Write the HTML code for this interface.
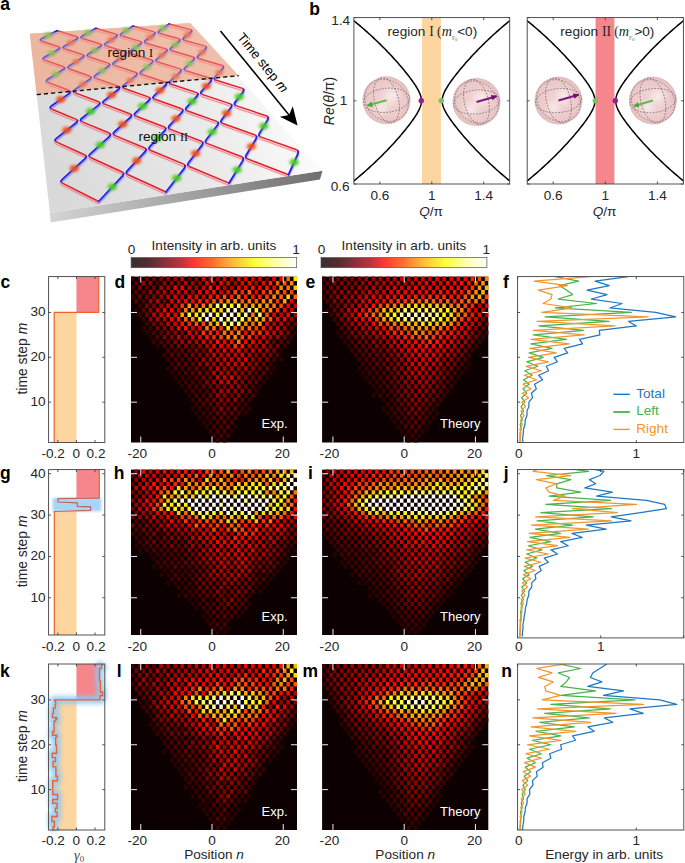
<!DOCTYPE html>
<html><head><meta charset="utf-8"><style>
html,body{margin:0;padding:0;background:#fff;}
svg{display:block;}
svg{font-family:"Liberation Sans",sans-serif;}
</style></head><body>
<svg width="685" height="863" viewBox="0 0 685 863">
<rect width="685" height="863" fill="#fff"/>
<text x="0.50" y="287.50" font-size="17.5" text-anchor="start" fill="#000" font-weight="bold" >c</text>
<text x="114.50" y="287.50" font-size="17.5" text-anchor="start" fill="#000" font-weight="bold" >d</text>
<text x="305.50" y="287.50" font-size="17.5" text-anchor="start" fill="#000" font-weight="bold" >e</text>
<text x="503.00" y="287.50" font-size="17.5" text-anchor="start" fill="#000" font-weight="bold" >f</text>
<text x="0.00" y="478.70" font-size="17.5" text-anchor="start" fill="#000" font-weight="bold" >g</text>
<text x="113.80" y="478.70" font-size="17.5" text-anchor="start" fill="#000" font-weight="bold" >h</text>
<text x="307.90" y="478.70" font-size="17.5" text-anchor="start" fill="#000" font-weight="bold" >i</text>
<text x="503.70" y="478.70" font-size="17.5" text-anchor="start" fill="#000" font-weight="bold" >j</text>
<text x="0.00" y="676.90" font-size="17.5" text-anchor="start" fill="#000" font-weight="bold" >k</text>
<text x="116.80" y="676.90" font-size="17.5" text-anchor="start" fill="#000" font-weight="bold" >l</text>
<text x="302.60" y="676.90" font-size="17.5" text-anchor="start" fill="#000" font-weight="bold" >m</text>
<text x="501.20" y="676.90" font-size="17.5" text-anchor="start" fill="#000" font-weight="bold" >n</text>
<defs><filter id="blur1" x="-50%" y="-50%" width="200%" height="200%"><feGaussianBlur stdDeviation="1.3"/></filter><filter id="blur2" x="-50%" y="-50%" width="200%" height="200%"><feGaussianBlur stdDeviation="2"/></filter></defs>
<rect x="54.18" y="312.47" width="22.27" height="130.03" fill="#fdd59e"/>
<rect x="76.45" y="276.60" width="22.27" height="35.87" fill="#f5868b"/>
<polyline points="54.18,442.50 54.18,312.47 98.72,312.47 98.72,276.60" fill="none" stroke="#f0602c" stroke-width="1.2"/>
<rect x="48.60" y="276.60" width="56.20" height="165.90" fill="none" stroke="#404040" stroke-width="0.9"/>
<line x1="57.89" y1="442.50" x2="57.89" y2="440.00" stroke="#404040" stroke-width="0.9" />
<line x1="57.89" y1="276.60" x2="57.89" y2="279.10" stroke="#404040" stroke-width="0.9" />
<line x1="76.45" y1="442.50" x2="76.45" y2="440.00" stroke="#404040" stroke-width="0.9" />
<line x1="76.45" y1="276.60" x2="76.45" y2="279.10" stroke="#404040" stroke-width="0.9" />
<line x1="95.01" y1="442.50" x2="95.01" y2="440.00" stroke="#404040" stroke-width="0.9" />
<line x1="95.01" y1="276.60" x2="95.01" y2="279.10" stroke="#404040" stroke-width="0.9" />
<line x1="48.60" y1="402.15" x2="51.10" y2="402.15" stroke="#404040" stroke-width="0.9" />
<line x1="104.80" y1="402.15" x2="102.30" y2="402.15" stroke="#404040" stroke-width="0.9" />
<text x="45.60" y="406.05" font-size="13.6" text-anchor="end" fill="#262626" >10</text>
<line x1="48.60" y1="357.31" x2="51.10" y2="357.31" stroke="#404040" stroke-width="0.9" />
<line x1="104.80" y1="357.31" x2="102.30" y2="357.31" stroke="#404040" stroke-width="0.9" />
<text x="45.60" y="361.21" font-size="13.6" text-anchor="end" fill="#262626" >20</text>
<line x1="48.60" y1="312.47" x2="51.10" y2="312.47" stroke="#404040" stroke-width="0.9" />
<line x1="104.80" y1="312.47" x2="102.30" y2="312.47" stroke="#404040" stroke-width="0.9" />
<text x="45.60" y="316.37" font-size="13.6" text-anchor="end" fill="#262626" >30</text>
<text x="53.15" y="458.00" font-size="13.6" text-anchor="middle" fill="#262626" >-0.2</text>
<text x="76.40" y="458.00" font-size="13.6" text-anchor="middle" fill="#262626" >0</text>
<text x="96.00" y="458.00" font-size="13.6" text-anchor="middle" fill="#262626" >0.2</text>
<rect x="54.30" y="511.50" width="22.15" height="123.50" fill="#fdd59e"/>
<rect x="76.45" y="469.60" width="22.85" height="28.60" fill="#f5868b"/>
<rect x="52.5" y="497.9" width="48.8" height="13.4" fill="#9dd1f6" opacity="0.9" filter="url(#blur1)"/>
<polyline points="54.3,635.0 54.3,512.0" fill="none" stroke="#f0602c" stroke-width="1.2"/>
<polyline points="54.3,512.0 54.3,511.5 90.6,510.4 90.6,506.9 77.3,506.4 77.3,502.8 57.9,502.0 57.9,498.7 99.3,498.2" fill="none" stroke="#c0665c" stroke-width="1.2"/>
<polyline points="99.3,498.6 99.3,469.6" fill="none" stroke="#f0602c" stroke-width="1.2"/>
<rect x="48.60" y="469.60" width="56.20" height="165.40" fill="none" stroke="#404040" stroke-width="0.9"/>
<line x1="57.89" y1="635.00" x2="57.89" y2="632.50" stroke="#404040" stroke-width="0.9" />
<line x1="57.89" y1="469.60" x2="57.89" y2="472.10" stroke="#404040" stroke-width="0.9" />
<line x1="76.45" y1="635.00" x2="76.45" y2="632.50" stroke="#404040" stroke-width="0.9" />
<line x1="76.45" y1="469.60" x2="76.45" y2="472.10" stroke="#404040" stroke-width="0.9" />
<line x1="95.01" y1="635.00" x2="95.01" y2="632.50" stroke="#404040" stroke-width="0.9" />
<line x1="95.01" y1="469.60" x2="95.01" y2="472.10" stroke="#404040" stroke-width="0.9" />
<line x1="48.60" y1="597.78" x2="51.10" y2="597.78" stroke="#404040" stroke-width="0.9" />
<line x1="104.80" y1="597.78" x2="102.30" y2="597.78" stroke="#404040" stroke-width="0.9" />
<text x="45.60" y="601.68" font-size="13.6" text-anchor="end" fill="#262626" >10</text>
<line x1="48.60" y1="556.44" x2="51.10" y2="556.44" stroke="#404040" stroke-width="0.9" />
<line x1="104.80" y1="556.44" x2="102.30" y2="556.44" stroke="#404040" stroke-width="0.9" />
<text x="45.60" y="560.34" font-size="13.6" text-anchor="end" fill="#262626" >20</text>
<line x1="48.60" y1="515.09" x2="51.10" y2="515.09" stroke="#404040" stroke-width="0.9" />
<line x1="104.80" y1="515.09" x2="102.30" y2="515.09" stroke="#404040" stroke-width="0.9" />
<text x="45.60" y="518.99" font-size="13.6" text-anchor="end" fill="#262626" >30</text>
<line x1="48.60" y1="473.74" x2="51.10" y2="473.74" stroke="#404040" stroke-width="0.9" />
<line x1="104.80" y1="473.74" x2="102.30" y2="473.74" stroke="#404040" stroke-width="0.9" />
<text x="45.60" y="477.63" font-size="13.6" text-anchor="end" fill="#262626" >40</text>
<text x="53.15" y="651.10" font-size="13.6" text-anchor="middle" fill="#262626" >-0.2</text>
<text x="76.40" y="651.10" font-size="13.6" text-anchor="middle" fill="#262626" >0</text>
<text x="96.00" y="651.10" font-size="13.6" text-anchor="middle" fill="#262626" >0.2</text>
<polygon points="76.45,830.0 53.00,830.50 53.00,827.00 54.30,827.00 54.30,821.50 51.90,821.50 51.90,816.50 57.10,816.50 57.10,812.10 55.40,812.10 55.40,808.30 57.10,808.30 57.10,803.30 52.70,803.30 52.70,799.50 57.60,799.50 57.60,794.50 52.70,794.50 52.70,780.70 57.40,780.70 57.40,776.30 55.90,776.30 55.90,766.90 53.00,766.90 53.00,761.50 55.40,761.50 55.40,757.60 52.30,757.60 52.30,753.20 56.50,753.20 56.50,745.00 55.60,745.00 55.60,737.40 56.70,737.40 56.70,735.30 52.50,735.30 52.50,731.70 54.10,731.70 54.10,721.20 55.60,721.20 55.60,719.20 56.70,719.20 56.70,717.60 52.50,717.60 52.50,713.40 53.40,713.40 53.40,708.20 55.10,708.20 55.10,704.60 55.60,704.60 55.60,700.90 54.60,700.90 54.60,699.90 76.45,699.9" fill="#fdd59e"/>
<polygon points="76.45,699.9 100.00,699.90 100.00,695.70 102.60,695.70 102.60,692.00 100.50,692.00 100.50,681.10 99.50,681.10 99.50,668.60 101.50,668.60 101.50,665.00 102.60,665.00 102.60,664.00 76.45,664.0" fill="#f5868b"/>
<polyline points="53.00,830.50 53.00,827.00 54.30,827.00 54.30,821.50 51.90,821.50 51.90,816.50 57.10,816.50 57.10,812.10 55.40,812.10 55.40,808.30 57.10,808.30 57.10,803.30 52.70,803.30 52.70,799.50 57.60,799.50 57.60,794.50 52.70,794.50 52.70,780.70 57.40,780.70 57.40,776.30 55.90,776.30 55.90,766.90 53.00,766.90 53.00,761.50 55.40,761.50 55.40,757.60 52.30,757.60 52.30,753.20 56.50,753.20 56.50,745.00 55.60,745.00 55.60,737.40 56.70,737.40 56.70,735.30 52.50,735.30 52.50,731.70 54.10,731.70 54.10,721.20 55.60,721.20 55.60,719.20 56.70,719.20 56.70,717.60 52.50,717.60 52.50,713.40 53.40,713.40 53.40,708.20 55.10,708.20 55.10,704.60 55.60,704.60 55.60,700.90 54.60,700.90 54.60,699.90 100.00,699.90 100.00,695.70 102.60,695.70 102.60,692.00 100.50,692.00 100.50,681.10 99.50,681.10 99.50,668.60 101.50,668.60 101.50,665.00 102.60,665.00 102.60,664.00" fill="none" stroke="#8ccaf6" stroke-width="8" opacity="0.85" filter="url(#blur2)"/>
<polyline points="53.00,830.50 53.00,827.00 54.30,827.00 54.30,821.50 51.90,821.50 51.90,816.50 57.10,816.50 57.10,812.10 55.40,812.10 55.40,808.30 57.10,808.30 57.10,803.30 52.70,803.30 52.70,799.50 57.60,799.50 57.60,794.50 52.70,794.50 52.70,780.70 57.40,780.70 57.40,776.30 55.90,776.30 55.90,766.90 53.00,766.90 53.00,761.50 55.40,761.50 55.40,757.60 52.30,757.60 52.30,753.20 56.50,753.20 56.50,745.00 55.60,745.00 55.60,737.40 56.70,737.40 56.70,735.30 52.50,735.30 52.50,731.70 54.10,731.70 54.10,721.20 55.60,721.20 55.60,719.20 56.70,719.20 56.70,717.60 52.50,717.60 52.50,713.40 53.40,713.40 53.40,708.20 55.10,708.20 55.10,704.60 55.60,704.60 55.60,700.90 54.60,700.90 54.60,699.90 100.00,699.90 100.00,695.70 102.60,695.70 102.60,692.00 100.50,692.00 100.50,681.10 99.50,681.10 99.50,668.60 101.50,668.60 101.50,665.00 102.60,665.00 102.60,664.00" fill="none" stroke="#f0602c" stroke-width="1.4"/>
<rect x="48.60" y="664.00" width="56.20" height="166.00" fill="none" stroke="#404040" stroke-width="0.9"/>
<line x1="57.89" y1="830.00" x2="57.89" y2="827.50" stroke="#404040" stroke-width="0.9" />
<line x1="57.89" y1="664.00" x2="57.89" y2="666.50" stroke="#404040" stroke-width="0.9" />
<line x1="76.45" y1="830.00" x2="76.45" y2="827.50" stroke="#404040" stroke-width="0.9" />
<line x1="76.45" y1="664.00" x2="76.45" y2="666.50" stroke="#404040" stroke-width="0.9" />
<line x1="95.01" y1="830.00" x2="95.01" y2="827.50" stroke="#404040" stroke-width="0.9" />
<line x1="95.01" y1="664.00" x2="95.01" y2="666.50" stroke="#404040" stroke-width="0.9" />
<line x1="48.60" y1="789.62" x2="51.10" y2="789.62" stroke="#404040" stroke-width="0.9" />
<line x1="104.80" y1="789.62" x2="102.30" y2="789.62" stroke="#404040" stroke-width="0.9" />
<text x="45.60" y="793.52" font-size="13.6" text-anchor="end" fill="#262626" >10</text>
<line x1="48.60" y1="744.76" x2="51.10" y2="744.76" stroke="#404040" stroke-width="0.9" />
<line x1="104.80" y1="744.76" x2="102.30" y2="744.76" stroke="#404040" stroke-width="0.9" />
<text x="45.60" y="748.66" font-size="13.6" text-anchor="end" fill="#262626" >20</text>
<line x1="48.60" y1="699.89" x2="51.10" y2="699.89" stroke="#404040" stroke-width="0.9" />
<line x1="104.80" y1="699.89" x2="102.30" y2="699.89" stroke="#404040" stroke-width="0.9" />
<text x="45.60" y="703.79" font-size="13.6" text-anchor="end" fill="#262626" >30</text>
<text x="53.15" y="844.80" font-size="13.6" text-anchor="middle" fill="#262626" >-0.2</text>
<text x="76.40" y="844.80" font-size="13.6" text-anchor="middle" fill="#262626" >0</text>
<text x="96.00" y="844.80" font-size="13.6" text-anchor="middle" fill="#262626" >0.2</text>
<text transform="translate(26.6,358.65) rotate(-90)" font-size="13.9" text-anchor="middle" fill="#262626">time step <tspan font-style="italic">m</tspan></text>
<text transform="translate(26.6,551.40) rotate(-90)" font-size="13.9" text-anchor="middle" fill="#262626">time step <tspan font-style="italic">m</tspan></text>
<text transform="translate(26.6,746.10) rotate(-90)" font-size="13.9" text-anchor="middle" fill="#262626">time step <tspan font-style="italic">m</tspan></text>
<text x="74.0" y="859.6" font-size="14.5" fill="#505050" font-family="Liberation Serif" font-style="italic">γ<tspan font-size="9" dy="2.2" font-style="normal">0</tspan></text>
<rect x="131.00" y="276.60" width="166.00" height="165.90" fill="#0d0000"/>
<path d="M222.8 438.0h3.53v4.48h-3.53zM229.9 429.0h3.53v4.48h-3.53zM205.2 424.6h3.53v4.48h-3.53zM233.4 424.6h3.53v4.48h-3.53zM201.6 420.1h3.53v4.48h-3.53zM198.1 415.6h3.53v4.48h-3.53zM194.6 411.1h3.53v4.48h-3.53zM244.0 411.1h3.53v4.48h-3.53zM191.0 406.6h3.53v4.48h-3.53zM247.6 406.6h3.53v4.48h-3.53zM187.5 393.2h3.53v4.48h-3.53zM184.0 388.7h3.53v4.48h-3.53zM180.4 384.2h3.53v4.48h-3.53zM258.1 384.2h3.53v4.48h-3.53zM176.9 379.7h3.53v4.48h-3.53zM261.7 379.7h3.53v4.48h-3.53zM173.4 375.2h3.53v4.48h-3.53zM265.2 375.2h3.53v4.48h-3.53zM169.9 370.8h3.53v4.48h-3.53zM268.7 370.8h3.53v4.48h-3.53zM166.3 366.3h3.53v4.48h-3.53zM272.3 366.3h3.53v4.48h-3.53zM279.3 357.3h3.53v4.48h-3.53zM279.3 348.3h3.53v4.48h-3.53zM155.7 343.9h3.53v4.48h-3.53zM148.7 334.9h3.53v4.48h-3.53zM145.1 330.4h3.53v4.48h-3.53zM293.5 330.4h3.53v4.48h-3.53zM141.6 325.9h3.53v4.48h-3.53zM134.5 308.0h3.53v4.48h-3.53z" fill="#2c0000"/>
<path d="M215.8 438.0h3.53v4.48h-3.53zM212.2 433.5h3.53v4.48h-3.53zM226.4 433.5h3.53v4.48h-3.53zM208.7 429.0h3.53v4.48h-3.53zM208.7 420.1h3.53v4.48h-3.53zM205.2 415.6h3.53v4.48h-3.53zM201.6 411.1h3.53v4.48h-3.53zM198.1 406.6h3.53v4.48h-3.53zM205.2 406.6h3.53v4.48h-3.53zM240.5 406.6h3.53v4.48h-3.53zM194.6 402.1h3.53v4.48h-3.53zM244.0 402.1h3.53v4.48h-3.53zM191.0 397.7h3.53v4.48h-3.53zM247.6 397.7h3.53v4.48h-3.53zM198.1 388.7h3.53v4.48h-3.53zM254.6 388.7h3.53v4.48h-3.53zM184.0 379.7h3.53v4.48h-3.53zM180.4 375.2h3.53v4.48h-3.53zM187.5 375.2h3.53v4.48h-3.53zM176.9 370.8h3.53v4.48h-3.53zM169.9 361.8h3.53v4.48h-3.53zM268.7 361.8h3.53v4.48h-3.53zM166.3 357.3h3.53v4.48h-3.53zM162.8 352.8h3.53v4.48h-3.53zM282.9 343.9h3.53v4.48h-3.53zM152.2 339.4h3.53v4.48h-3.53zM289.9 334.9h3.53v4.48h-3.53zM148.7 325.9h3.53v4.48h-3.53zM145.1 321.4h3.53v4.48h-3.53zM141.6 317.0h3.53v4.48h-3.53zM138.1 312.5h3.53v4.48h-3.53zM138.1 303.5h3.53v4.48h-3.53zM131.0 294.5h3.53v4.48h-3.53zM131.0 285.6h3.53v4.48h-3.53zM131.0 276.6h3.53v4.48h-3.53z" fill="#3d0000"/>
<path d="M219.3 433.5h3.53v4.48h-3.53zM215.8 429.0h3.53v4.48h-3.53zM222.8 429.0h3.53v4.48h-3.53zM212.2 424.6h3.53v4.48h-3.53zM219.3 424.6h3.53v4.48h-3.53zM215.8 420.1h3.53v4.48h-3.53zM229.9 420.1h3.53v4.48h-3.53zM212.2 415.6h3.53v4.48h-3.53zM226.4 415.6h3.53v4.48h-3.53zM233.4 415.6h3.53v4.48h-3.53zM208.7 411.1h3.53v4.48h-3.53zM237.0 411.1h3.53v4.48h-3.53zM201.6 402.1h3.53v4.48h-3.53zM237.0 402.1h3.53v4.48h-3.53zM198.1 397.7h3.53v4.48h-3.53zM194.6 393.2h3.53v4.48h-3.53zM201.6 393.2h3.53v4.48h-3.53zM244.0 393.2h3.53v4.48h-3.53zM251.1 393.2h3.53v4.48h-3.53zM191.0 388.7h3.53v4.48h-3.53zM205.2 388.7h3.53v4.48h-3.53zM187.5 384.2h3.53v4.48h-3.53zM194.6 384.2h3.53v4.48h-3.53zM251.1 384.2h3.53v4.48h-3.53zM191.0 379.7h3.53v4.48h-3.53zM198.1 379.7h3.53v4.48h-3.53zM184.0 370.8h3.53v4.48h-3.53zM173.4 366.3h3.53v4.48h-3.53zM180.4 366.3h3.53v4.48h-3.53zM187.5 366.3h3.53v4.48h-3.53zM201.6 366.3h3.53v4.48h-3.53zM173.4 357.3h3.53v4.48h-3.53zM180.4 357.3h3.53v4.48h-3.53zM272.3 357.3h3.53v4.48h-3.53zM275.8 352.8h3.53v4.48h-3.53zM166.3 348.3h3.53v4.48h-3.53zM173.4 348.3h3.53v4.48h-3.53zM162.8 343.9h3.53v4.48h-3.53zM159.3 339.4h3.53v4.48h-3.53zM286.4 339.4h3.53v4.48h-3.53zM155.7 334.9h3.53v4.48h-3.53zM152.2 330.4h3.53v4.48h-3.53zM289.9 325.9h3.53v4.48h-3.53zM141.6 299.0h3.53v4.48h-3.53zM155.7 281.1h3.53v4.48h-3.53z" fill="#4e0000"/>
<path d="M226.4 424.6h3.53v4.48h-3.53zM222.8 420.1h3.53v4.48h-3.53zM219.3 415.6h3.53v4.48h-3.53zM215.8 411.1h3.53v4.48h-3.53zM229.9 411.1h3.53v4.48h-3.53zM212.2 406.6h3.53v4.48h-3.53zM208.7 402.1h3.53v4.48h-3.53zM229.9 402.1h3.53v4.48h-3.53zM205.2 397.7h3.53v4.48h-3.53zM240.5 397.7h3.53v4.48h-3.53zM201.6 384.2h3.53v4.48h-3.53zM254.6 379.7h3.53v4.48h-3.53zM194.6 375.2h3.53v4.48h-3.53zM251.1 375.2h3.53v4.48h-3.53zM258.1 375.2h3.53v4.48h-3.53zM191.0 370.8h3.53v4.48h-3.53zM254.6 370.8h3.53v4.48h-3.53zM261.7 370.8h3.53v4.48h-3.53zM265.2 366.3h3.53v4.48h-3.53zM176.9 361.8h3.53v4.48h-3.53zM184.0 361.8h3.53v4.48h-3.53zM191.0 361.8h3.53v4.48h-3.53zM187.5 357.3h3.53v4.48h-3.53zM169.9 352.8h3.53v4.48h-3.53zM176.9 352.8h3.53v4.48h-3.53zM184.0 352.8h3.53v4.48h-3.53zM180.4 348.3h3.53v4.48h-3.53zM187.5 348.3h3.53v4.48h-3.53zM169.9 343.9h3.53v4.48h-3.53zM166.3 339.4h3.53v4.48h-3.53zM272.3 339.4h3.53v4.48h-3.53zM279.3 339.4h3.53v4.48h-3.53zM159.3 330.4h3.53v4.48h-3.53zM293.5 321.4h3.53v4.48h-3.53zM141.6 308.0h3.53v4.48h-3.53zM134.5 299.0h3.53v4.48h-3.53zM134.5 290.1h3.53v4.48h-3.53zM141.6 290.1h3.53v4.48h-3.53zM145.1 285.6h3.53v4.48h-3.53zM134.5 281.1h3.53v4.48h-3.53zM138.1 276.6h3.53v4.48h-3.53zM187.5 276.6h3.53v4.48h-3.53z" fill="#5f0000"/>
<path d="M222.8 411.1h3.53v4.48h-3.53zM226.4 406.6h3.53v4.48h-3.53zM233.4 406.6h3.53v4.48h-3.53zM215.8 402.1h3.53v4.48h-3.53zM222.8 402.1h3.53v4.48h-3.53zM212.2 397.7h3.53v4.48h-3.53zM208.7 393.2h3.53v4.48h-3.53zM229.9 393.2h3.53v4.48h-3.53zM247.6 388.7h3.53v4.48h-3.53zM208.7 384.2h3.53v4.48h-3.53zM244.0 384.2h3.53v4.48h-3.53zM247.6 379.7h3.53v4.48h-3.53zM201.6 375.2h3.53v4.48h-3.53zM208.7 375.2h3.53v4.48h-3.53zM205.2 370.8h3.53v4.48h-3.53zM194.6 366.3h3.53v4.48h-3.53zM258.1 366.3h3.53v4.48h-3.53zM261.7 361.8h3.53v4.48h-3.53zM194.6 357.3h3.53v4.48h-3.53zM201.6 348.3h3.53v4.48h-3.53zM191.0 343.9h3.53v4.48h-3.53zM282.9 334.9h3.53v4.48h-3.53zM155.7 325.9h3.53v4.48h-3.53zM152.2 321.4h3.53v4.48h-3.53zM145.1 312.5h3.53v4.48h-3.53zM162.8 299.0h3.53v4.48h-3.53zM138.1 294.5h3.53v4.48h-3.53zM145.1 294.5h3.53v4.48h-3.53zM152.2 285.6h3.53v4.48h-3.53zM145.1 276.6h3.53v4.48h-3.53zM152.2 276.6h3.53v4.48h-3.53z" fill="#700000"/>
<path d="M212.2 388.7h3.53v4.48h-3.53zM215.8 384.2h3.53v4.48h-3.53zM222.8 384.2h3.53v4.48h-3.53zM205.2 379.7h3.53v4.48h-3.53zM240.5 379.7h3.53v4.48h-3.53zM244.0 375.2h3.53v4.48h-3.53zM198.1 370.8h3.53v4.48h-3.53zM247.6 370.8h3.53v4.48h-3.53zM265.2 357.3h3.53v4.48h-3.53zM191.0 352.8h3.53v4.48h-3.53zM198.1 352.8h3.53v4.48h-3.53zM268.7 352.8h3.53v4.48h-3.53zM194.6 348.3h3.53v4.48h-3.53zM272.3 348.3h3.53v4.48h-3.53zM176.9 343.9h3.53v4.48h-3.53zM184.0 343.9h3.53v4.48h-3.53zM268.7 343.9h3.53v4.48h-3.53zM275.8 343.9h3.53v4.48h-3.53zM173.4 339.4h3.53v4.48h-3.53zM162.8 334.9h3.53v4.48h-3.53zM169.9 334.9h3.53v4.48h-3.53zM166.3 330.4h3.53v4.48h-3.53zM180.4 330.4h3.53v4.48h-3.53zM286.4 330.4h3.53v4.48h-3.53zM162.8 325.9h3.53v4.48h-3.53zM159.3 321.4h3.53v4.48h-3.53zM286.4 321.4h3.53v4.48h-3.53zM145.1 303.5h3.53v4.48h-3.53zM152.2 303.5h3.53v4.48h-3.53zM152.2 294.5h3.53v4.48h-3.53zM138.1 285.6h3.53v4.48h-3.53zM176.9 281.1h3.53v4.48h-3.53zM159.3 276.6h3.53v4.48h-3.53zM265.2 276.6h3.53v4.48h-3.53z" fill="#810000"/>
<path d="M219.3 406.6h3.53v4.48h-3.53zM219.3 397.7h3.53v4.48h-3.53zM226.4 397.7h3.53v4.48h-3.53zM233.4 397.7h3.53v4.48h-3.53zM222.8 393.2h3.53v4.48h-3.53zM237.0 393.2h3.53v4.48h-3.53zM233.4 388.7h3.53v4.48h-3.53zM240.5 388.7h3.53v4.48h-3.53zM240.5 370.8h3.53v4.48h-3.53zM208.7 366.3h3.53v4.48h-3.53zM251.1 366.3h3.53v4.48h-3.53zM198.1 361.8h3.53v4.48h-3.53zM247.6 361.8h3.53v4.48h-3.53zM254.6 361.8h3.53v4.48h-3.53zM258.1 357.3h3.53v4.48h-3.53zM205.2 352.8h3.53v4.48h-3.53zM254.6 352.8h3.53v4.48h-3.53zM261.7 352.8h3.53v4.48h-3.53zM198.1 343.9h3.53v4.48h-3.53zM184.0 334.9h3.53v4.48h-3.53zM173.4 330.4h3.53v4.48h-3.53zM148.7 317.0h3.53v4.48h-3.53zM148.7 308.0h3.53v4.48h-3.53zM155.7 290.1h3.53v4.48h-3.53zM148.7 281.1h3.53v4.48h-3.53zM162.8 281.1h3.53v4.48h-3.53zM169.9 281.1h3.53v4.48h-3.53zM198.1 281.1h3.53v4.48h-3.53zM166.3 276.6h3.53v4.48h-3.53zM194.6 276.6h3.53v4.48h-3.53z" fill="#920000"/>
<path d="M215.8 393.2h3.53v4.48h-3.53zM229.9 384.2h3.53v4.48h-3.53zM237.0 384.2h3.53v4.48h-3.53zM212.2 379.7h3.53v4.48h-3.53zM233.4 379.7h3.53v4.48h-3.53zM233.4 370.8h3.53v4.48h-3.53zM237.0 366.3h3.53v4.48h-3.53zM205.2 361.8h3.53v4.48h-3.53zM212.2 361.8h3.53v4.48h-3.53zM201.6 357.3h3.53v4.48h-3.53zM208.7 357.3h3.53v4.48h-3.53zM251.1 357.3h3.53v4.48h-3.53zM244.0 348.3h3.53v4.48h-3.53zM265.2 348.3h3.53v4.48h-3.53zM180.4 339.4h3.53v4.48h-3.53zM187.5 339.4h3.53v4.48h-3.53zM275.8 334.9h3.53v4.48h-3.53zM169.9 325.9h3.53v4.48h-3.53zM282.9 325.9h3.53v4.48h-3.53zM289.9 317.0h3.53v4.48h-3.53zM293.5 312.5h3.53v4.48h-3.53zM159.3 303.5h3.53v4.48h-3.53zM148.7 299.0h3.53v4.48h-3.53zM159.3 294.5h3.53v4.48h-3.53zM148.7 290.1h3.53v4.48h-3.53zM191.0 290.1h3.53v4.48h-3.53zM159.3 285.6h3.53v4.48h-3.53zM166.3 285.6h3.53v4.48h-3.53zM194.6 285.6h3.53v4.48h-3.53zM141.6 281.1h3.53v4.48h-3.53zM191.0 281.1h3.53v4.48h-3.53zM212.2 281.1h3.53v4.48h-3.53zM233.4 281.1h3.53v4.48h-3.53zM173.4 276.6h3.53v4.48h-3.53zM215.8 276.6h3.53v4.48h-3.53z" fill="#a30000"/>
<path d="M219.3 388.7h3.53v4.48h-3.53zM226.4 388.7h3.53v4.48h-3.53zM237.0 375.2h3.53v4.48h-3.53zM219.3 370.8h3.53v4.48h-3.53zM226.4 370.8h3.53v4.48h-3.53zM222.8 366.3h3.53v4.48h-3.53zM229.9 366.3h3.53v4.48h-3.53zM244.0 366.3h3.53v4.48h-3.53zM219.3 361.8h3.53v4.48h-3.53zM247.6 352.8h3.53v4.48h-3.53zM215.8 348.3h3.53v4.48h-3.53zM258.1 348.3h3.53v4.48h-3.53zM205.2 343.9h3.53v4.48h-3.53zM254.6 343.9h3.53v4.48h-3.53zM194.6 339.4h3.53v4.48h-3.53zM265.2 339.4h3.53v4.48h-3.53zM268.7 334.9h3.53v4.48h-3.53zM279.3 330.4h3.53v4.48h-3.53zM272.3 321.4h3.53v4.48h-3.53zM155.7 317.0h3.53v4.48h-3.53zM162.8 317.0h3.53v4.48h-3.53zM155.7 308.0h3.53v4.48h-3.53zM155.7 299.0h3.53v4.48h-3.53zM162.8 290.1h3.53v4.48h-3.53zM169.9 290.1h3.53v4.48h-3.53zM187.5 285.6h3.53v4.48h-3.53zM229.9 285.6h3.53v4.48h-3.53zM254.6 281.1h3.53v4.48h-3.53zM208.7 276.6h3.53v4.48h-3.53zM229.9 276.6h3.53v4.48h-3.53z" fill="#b40000"/>
<path d="M215.8 375.2h3.53v4.48h-3.53zM212.2 370.8h3.53v4.48h-3.53zM215.8 366.3h3.53v4.48h-3.53zM215.8 357.3h3.53v4.48h-3.53zM219.3 352.8h3.53v4.48h-3.53zM233.4 352.8h3.53v4.48h-3.53zM247.6 343.9h3.53v4.48h-3.53zM261.7 343.9h3.53v4.48h-3.53zM208.7 339.4h3.53v4.48h-3.53zM176.9 334.9h3.53v4.48h-3.53zM194.6 330.4h3.53v4.48h-3.53zM166.3 321.4h3.53v4.48h-3.53zM279.3 321.4h3.53v4.48h-3.53zM152.2 312.5h3.53v4.48h-3.53zM279.3 312.5h3.53v4.48h-3.53zM173.4 303.5h3.53v4.48h-3.53zM293.5 303.5h3.53v4.48h-3.53zM166.3 294.5h3.53v4.48h-3.53zM180.4 294.5h3.53v4.48h-3.53zM201.6 294.5h3.53v4.48h-3.53zM184.0 290.1h3.53v4.48h-3.53zM201.6 285.6h3.53v4.48h-3.53zM222.8 285.6h3.53v4.48h-3.53zM184.0 281.1h3.53v4.48h-3.53zM180.4 276.6h3.53v4.48h-3.53z" fill="#c50000"/>
<path d="M219.3 379.7h3.53v4.48h-3.53zM226.4 379.7h3.53v4.48h-3.53zM222.8 375.2h3.53v4.48h-3.53zM226.4 361.8h3.53v4.48h-3.53zM233.4 361.8h3.53v4.48h-3.53zM240.5 361.8h3.53v4.48h-3.53zM222.8 357.3h3.53v4.48h-3.53zM229.9 357.3h3.53v4.48h-3.53zM237.0 357.3h3.53v4.48h-3.53zM212.2 352.8h3.53v4.48h-3.53zM226.4 352.8h3.53v4.48h-3.53zM208.7 348.3h3.53v4.48h-3.53zM229.9 348.3h3.53v4.48h-3.53zM251.1 348.3h3.53v4.48h-3.53zM201.6 339.4h3.53v4.48h-3.53zM258.1 339.4h3.53v4.48h-3.53zM191.0 334.9h3.53v4.48h-3.53zM272.3 330.4h3.53v4.48h-3.53zM268.7 325.9h3.53v4.48h-3.53zM275.8 325.9h3.53v4.48h-3.53zM173.4 321.4h3.53v4.48h-3.53zM159.3 312.5h3.53v4.48h-3.53zM176.9 308.0h3.53v4.48h-3.53zM289.9 308.0h3.53v4.48h-3.53zM166.3 303.5h3.53v4.48h-3.53zM169.9 299.0h3.53v4.48h-3.53zM173.4 294.5h3.53v4.48h-3.53zM176.9 290.1h3.53v4.48h-3.53zM219.3 290.1h3.53v4.48h-3.53zM201.6 276.6h3.53v4.48h-3.53z" fill="#d60000"/>
<path d="M229.9 375.2h3.53v4.48h-3.53zM244.0 357.3h3.53v4.48h-3.53zM240.5 352.8h3.53v4.48h-3.53zM212.2 343.9h3.53v4.48h-3.53zM226.4 343.9h3.53v4.48h-3.53zM198.1 334.9h3.53v4.48h-3.53zM254.6 334.9h3.53v4.48h-3.53zM261.7 334.9h3.53v4.48h-3.53zM187.5 330.4h3.53v4.48h-3.53zM191.0 325.9h3.53v4.48h-3.53zM173.4 312.5h3.53v4.48h-3.53zM272.3 312.5h3.53v4.48h-3.53zM176.9 299.0h3.53v4.48h-3.53zM187.5 294.5h3.53v4.48h-3.53zM173.4 285.6h3.53v4.48h-3.53zM205.2 281.1h3.53v4.48h-3.53zM226.4 281.1h3.53v4.48h-3.53zM240.5 281.1h3.53v4.48h-3.53zM222.8 276.6h3.53v4.48h-3.53zM244.0 276.6h3.53v4.48h-3.53zM251.1 276.6h3.53v4.48h-3.53zM258.1 276.6h3.53v4.48h-3.53z" fill="#e70000"/>
<path d="M222.8 348.3h3.53v4.48h-3.53zM237.0 348.3h3.53v4.48h-3.53zM219.3 343.9h3.53v4.48h-3.53zM222.8 339.4h3.53v4.48h-3.53zM176.9 325.9h3.53v4.48h-3.53zM265.2 321.4h3.53v4.48h-3.53zM282.9 317.0h3.53v4.48h-3.53zM286.4 312.5h3.53v4.48h-3.53zM162.8 308.0h3.53v4.48h-3.53zM286.4 303.5h3.53v4.48h-3.53zM289.9 299.0h3.53v4.48h-3.53zM194.6 294.5h3.53v4.48h-3.53zM198.1 290.1h3.53v4.48h-3.53zM205.2 290.1h3.53v4.48h-3.53zM254.6 290.1h3.53v4.48h-3.53zM180.4 285.6h3.53v4.48h-3.53zM237.0 285.6h3.53v4.48h-3.53zM244.0 285.6h3.53v4.48h-3.53zM272.3 285.6h3.53v4.48h-3.53zM219.3 281.1h3.53v4.48h-3.53zM247.6 281.1h3.53v4.48h-3.53zM261.7 281.1h3.53v4.48h-3.53zM237.0 276.6h3.53v4.48h-3.53zM279.3 276.6h3.53v4.48h-3.53z" fill="#f80000"/>
<path d="M244.0 339.4h3.53v4.48h-3.53zM251.1 339.4h3.53v4.48h-3.53zM244.0 330.4h3.53v4.48h-3.53zM265.2 330.4h3.53v4.48h-3.53zM198.1 325.9h3.53v4.48h-3.53zM169.9 317.0h3.53v4.48h-3.53zM275.8 317.0h3.53v4.48h-3.53zM166.3 312.5h3.53v4.48h-3.53zM169.9 308.0h3.53v4.48h-3.53zM282.9 308.0h3.53v4.48h-3.53zM184.0 299.0h3.53v4.48h-3.53zM191.0 299.0h3.53v4.48h-3.53zM226.4 290.1h3.53v4.48h-3.53zM215.8 285.6h3.53v4.48h-3.53zM258.1 285.6h3.53v4.48h-3.53zM272.3 276.6h3.53v4.48h-3.53z" fill="#ff0000"/>
<path d="M240.5 343.9h3.53v4.48h-3.53zM215.8 339.4h3.53v4.48h-3.53zM229.9 339.4h3.53v4.48h-3.53zM205.2 334.9h3.53v4.48h-3.53zM215.8 330.4h3.53v4.48h-3.53zM184.0 325.9h3.53v4.48h-3.53zM180.4 321.4h3.53v4.48h-3.53zM176.9 317.0h3.53v4.48h-3.53zM205.2 299.0h3.53v4.48h-3.53zM208.7 294.5h3.53v4.48h-3.53zM215.8 294.5h3.53v4.48h-3.53zM251.1 294.5h3.53v4.48h-3.53zM212.2 290.1h3.53v4.48h-3.53zM208.7 285.6h3.53v4.48h-3.53zM251.1 285.6h3.53v4.48h-3.53zM265.2 285.6h3.53v4.48h-3.53z" fill="#ff1100"/>
<path d="M212.2 334.9h3.53v4.48h-3.53zM208.7 330.4h3.53v4.48h-3.53zM261.7 325.9h3.53v4.48h-3.53zM187.5 321.4h3.53v4.48h-3.53zM198.1 299.0h3.53v4.48h-3.53zM229.9 294.5h3.53v4.48h-3.53zM244.0 294.5h3.53v4.48h-3.53zM258.1 294.5h3.53v4.48h-3.53zM240.5 290.1h3.53v4.48h-3.53zM268.7 281.1h3.53v4.48h-3.53z" fill="#ff2100"/>
<path d="M233.4 343.9h3.53v4.48h-3.53zM247.6 334.9h3.53v4.48h-3.53zM201.6 330.4h3.53v4.48h-3.53zM251.1 330.4h3.53v4.48h-3.53zM258.1 330.4h3.53v4.48h-3.53zM219.3 325.9h3.53v4.48h-3.53zM254.6 325.9h3.53v4.48h-3.53zM275.8 308.0h3.53v4.48h-3.53zM180.4 303.5h3.53v4.48h-3.53zM275.8 299.0h3.53v4.48h-3.53zM261.7 290.1h3.53v4.48h-3.53z" fill="#ff3300"/>
<path d="M219.3 334.9h3.53v4.48h-3.53zM240.5 334.9h3.53v4.48h-3.53zM201.6 321.4h3.53v4.48h-3.53zM194.6 303.5h3.53v4.48h-3.53zM279.3 303.5h3.53v4.48h-3.53zM265.2 294.5h3.53v4.48h-3.53zM233.4 290.1h3.53v4.48h-3.53zM282.9 290.1h3.53v4.48h-3.53zM289.9 290.1h3.53v4.48h-3.53z" fill="#ff4300"/>
<path d="M229.9 330.4h3.53v4.48h-3.53zM233.4 325.9h3.53v4.48h-3.53zM194.6 321.4h3.53v4.48h-3.53zM268.7 317.0h3.53v4.48h-3.53zM265.2 312.5h3.53v4.48h-3.53zM212.2 299.0h3.53v4.48h-3.53zM240.5 299.0h3.53v4.48h-3.53zM254.6 299.0h3.53v4.48h-3.53zM222.8 294.5h3.53v4.48h-3.53zM268.7 290.1h3.53v4.48h-3.53zM275.8 281.1h3.53v4.48h-3.53zM282.9 281.1h3.53v4.48h-3.53z" fill="#ff5500"/>
<path d="M240.5 325.9h3.53v4.48h-3.53zM247.6 325.9h3.53v4.48h-3.53zM251.1 321.4h3.53v4.48h-3.53zM184.0 317.0h3.53v4.48h-3.53zM261.7 308.0h3.53v4.48h-3.53zM219.3 299.0h3.53v4.48h-3.53zM237.0 294.5h3.53v4.48h-3.53zM279.3 294.5h3.53v4.48h-3.53zM293.5 294.5h3.53v4.48h-3.53zM247.6 290.1h3.53v4.48h-3.53zM286.4 276.6h3.53v4.48h-3.53z" fill="#ff6600"/>
<path d="M237.0 339.4h3.53v4.48h-3.53zM226.4 334.9h3.53v4.48h-3.53zM222.8 330.4h3.53v4.48h-3.53zM205.2 325.9h3.53v4.48h-3.53zM212.2 325.9h3.53v4.48h-3.53zM251.1 312.5h3.53v4.48h-3.53zM184.0 308.0h3.53v4.48h-3.53zM201.6 303.5h3.53v4.48h-3.53zM272.3 303.5h3.53v4.48h-3.53zM247.6 299.0h3.53v4.48h-3.53zM275.8 290.1h3.53v4.48h-3.53zM286.4 285.6h3.53v4.48h-3.53z" fill="#ff7700"/>
<path d="M233.4 334.9h3.53v4.48h-3.53zM237.0 330.4h3.53v4.48h-3.53zM244.0 321.4h3.53v4.48h-3.53zM268.7 308.0h3.53v4.48h-3.53zM244.0 303.5h3.53v4.48h-3.53zM226.4 299.0h3.53v4.48h-3.53zM261.7 299.0h3.53v4.48h-3.53zM268.7 299.0h3.53v4.48h-3.53zM272.3 294.5h3.53v4.48h-3.53zM279.3 285.6h3.53v4.48h-3.53zM289.9 281.1h3.53v4.48h-3.53z" fill="#ff8700"/>
<path d="M208.7 321.4h3.53v4.48h-3.53zM258.1 321.4h3.53v4.48h-3.53zM191.0 317.0h3.53v4.48h-3.53zM261.7 317.0h3.53v4.48h-3.53zM191.0 308.0h3.53v4.48h-3.53zM187.5 303.5h3.53v4.48h-3.53zM265.2 303.5h3.53v4.48h-3.53zM233.4 299.0h3.53v4.48h-3.53z" fill="#ff9900"/>
<path d="M180.4 312.5h3.53v4.48h-3.53zM208.7 303.5h3.53v4.48h-3.53zM251.1 303.5h3.53v4.48h-3.53zM258.1 303.5h3.53v4.48h-3.53zM282.9 299.0h3.53v4.48h-3.53z" fill="#ffaa00"/>
<path d="M215.8 321.4h3.53v4.48h-3.53zM247.6 317.0h3.53v4.48h-3.53zM240.5 308.0h3.53v4.48h-3.53z" fill="#ffbb00"/>
<path d="M254.6 317.0h3.53v4.48h-3.53zM219.3 308.0h3.53v4.48h-3.53zM293.5 285.6h3.53v4.48h-3.53z" fill="#ffcc00"/>
<path d="M212.2 317.0h3.53v4.48h-3.53zM198.1 308.0h3.53v4.48h-3.53zM286.4 294.5h3.53v4.48h-3.53z" fill="#ffdc00"/>
<path d="M226.4 325.9h3.53v4.48h-3.53zM194.6 312.5h3.53v4.48h-3.53zM205.2 308.0h3.53v4.48h-3.53zM212.2 308.0h3.53v4.48h-3.53zM293.5 276.6h3.53v4.48h-3.53z" fill="#ffed00"/>
<path d="M198.1 317.0h3.53v4.48h-3.53zM229.9 303.5h3.53v4.48h-3.53z" fill="#ffff00"/>
<path d="M237.0 321.4h3.53v4.48h-3.53zM187.5 312.5h3.53v4.48h-3.53zM237.0 312.5h3.53v4.48h-3.53zM254.6 308.0h3.53v4.48h-3.53z" fill="#ffff19"/>
<path d="M222.8 321.4h3.53v4.48h-3.53zM222.8 303.5h3.53v4.48h-3.53zM237.0 303.5h3.53v4.48h-3.53z" fill="#ffff33"/>
<path d="M215.8 312.5h3.53v4.48h-3.53z" fill="#ffff4c"/>
<path d="M226.4 317.0h3.53v4.48h-3.53zM240.5 317.0h3.53v4.48h-3.53z" fill="#ffff65"/>
<path d="M229.9 321.4h3.53v4.48h-3.53zM258.1 312.5h3.53v4.48h-3.53zM226.4 308.0h3.53v4.48h-3.53zM215.8 303.5h3.53v4.48h-3.53z" fill="#ffff7f"/>
<path d="M201.6 312.5h3.53v4.48h-3.53zM244.0 312.5h3.53v4.48h-3.53z" fill="#ffffb2"/>
<path d="M247.6 308.0h3.53v4.48h-3.53z" fill="#ffffcb"/>
<path d="M205.2 317.0h3.53v4.48h-3.53zM219.3 317.0h3.53v4.48h-3.53zM233.4 317.0h3.53v4.48h-3.53zM208.7 312.5h3.53v4.48h-3.53zM222.8 312.5h3.53v4.48h-3.53zM229.9 312.5h3.53v4.48h-3.53zM233.4 308.0h3.53v4.48h-3.53z" fill="#ffffff"/>
<line x1="140.75" y1="442.50" x2="140.75" y2="436.50" stroke="#eee" stroke-width="1" />
<line x1="140.75" y1="276.60" x2="140.75" y2="282.60" stroke="#eee" stroke-width="1" />
<text x="137.25" y="458.00" font-size="13.6" text-anchor="middle" fill="#262626" >-20</text>
<line x1="212.00" y1="442.50" x2="212.00" y2="436.50" stroke="#eee" stroke-width="1" />
<line x1="212.00" y1="276.60" x2="212.00" y2="282.60" stroke="#eee" stroke-width="1" />
<text x="212.00" y="458.00" font-size="13.6" text-anchor="middle" fill="#262626" >0</text>
<line x1="283.25" y1="442.50" x2="283.25" y2="436.50" stroke="#eee" stroke-width="1" />
<line x1="283.25" y1="276.60" x2="283.25" y2="282.60" stroke="#eee" stroke-width="1" />
<text x="282.25" y="458.00" font-size="13.6" text-anchor="middle" fill="#262626" >20</text>
<line x1="131.00" y1="402.15" x2="137.00" y2="402.15" stroke="#eee" stroke-width="1" />
<line x1="297.00" y1="402.15" x2="291.00" y2="402.15" stroke="#eee" stroke-width="1" />
<line x1="131.00" y1="357.31" x2="137.00" y2="357.31" stroke="#eee" stroke-width="1" />
<line x1="297.00" y1="357.31" x2="291.00" y2="357.31" stroke="#eee" stroke-width="1" />
<line x1="131.00" y1="312.47" x2="137.00" y2="312.47" stroke="#eee" stroke-width="1" />
<line x1="297.00" y1="312.47" x2="291.00" y2="312.47" stroke="#eee" stroke-width="1" />
<text x="261.60" y="428.10" font-size="13.0" text-anchor="start" fill="#fff" >Exp.</text>
<rect x="322.10" y="276.60" width="166.20" height="165.90" fill="#0d0000"/>
<path d="M407.0 438.0h3.54v4.48h-3.54zM414.0 438.0h3.54v4.48h-3.54zM417.6 433.5h3.54v4.48h-3.54zM399.9 429.0h3.54v4.48h-3.54zM421.1 429.0h3.54v4.48h-3.54zM396.4 424.6h3.54v4.48h-3.54zM424.6 424.6h3.54v4.48h-3.54zM392.8 420.1h3.54v4.48h-3.54zM428.2 420.1h3.54v4.48h-3.54zM389.3 415.6h3.54v4.48h-3.54zM431.7 415.6h3.54v4.48h-3.54zM385.8 411.1h3.54v4.48h-3.54zM435.3 411.1h3.54v4.48h-3.54zM382.2 406.6h3.54v4.48h-3.54zM382.2 397.7h3.54v4.48h-3.54zM371.6 393.2h3.54v4.48h-3.54zM375.1 388.7h3.54v4.48h-3.54zM371.6 384.2h3.54v4.48h-3.54zM368.1 379.7h3.54v4.48h-3.54zM452.9 379.7h3.54v4.48h-3.54zM364.5 375.2h3.54v4.48h-3.54zM456.5 375.2h3.54v4.48h-3.54zM361.0 370.8h3.54v4.48h-3.54zM460.0 370.8h3.54v4.48h-3.54zM357.5 366.3h3.54v4.48h-3.54zM463.5 366.3h3.54v4.48h-3.54zM467.1 361.8h3.54v4.48h-3.54zM346.9 343.9h3.54v4.48h-3.54zM343.3 339.4h3.54v4.48h-3.54zM339.8 334.9h3.54v4.48h-3.54zM336.2 330.4h3.54v4.48h-3.54zM325.6 308.0h3.54v4.48h-3.54z" fill="#2c0000"/>
<path d="M403.4 433.5h3.54v4.48h-3.54zM410.5 433.5h3.54v4.48h-3.54zM407.0 429.0h3.54v4.48h-3.54zM399.9 420.1h3.54v4.48h-3.54zM396.4 415.6h3.54v4.48h-3.54zM392.8 411.1h3.54v4.48h-3.54zM428.2 411.1h3.54v4.48h-3.54zM389.3 406.6h3.54v4.48h-3.54zM431.7 406.6h3.54v4.48h-3.54zM385.8 402.1h3.54v4.48h-3.54zM392.8 402.1h3.54v4.48h-3.54zM435.3 402.1h3.54v4.48h-3.54zM389.3 397.7h3.54v4.48h-3.54zM438.8 397.7h3.54v4.48h-3.54zM378.7 393.2h3.54v4.48h-3.54zM385.8 393.2h3.54v4.48h-3.54zM442.3 393.2h3.54v4.48h-3.54zM382.2 388.7h3.54v4.48h-3.54zM445.9 388.7h3.54v4.48h-3.54zM378.7 384.2h3.54v4.48h-3.54zM449.4 384.2h3.54v4.48h-3.54zM375.1 379.7h3.54v4.48h-3.54zM371.6 375.2h3.54v4.48h-3.54zM368.1 370.8h3.54v4.48h-3.54zM364.5 366.3h3.54v4.48h-3.54zM361.0 361.8h3.54v4.48h-3.54zM357.5 357.3h3.54v4.48h-3.54zM353.9 352.8h3.54v4.48h-3.54zM467.1 352.8h3.54v4.48h-3.54zM350.4 348.3h3.54v4.48h-3.54zM470.6 348.3h3.54v4.48h-3.54zM474.2 343.9h3.54v4.48h-3.54zM477.7 339.4h3.54v4.48h-3.54zM481.2 334.9h3.54v4.48h-3.54zM484.8 330.4h3.54v4.48h-3.54zM336.2 321.4h3.54v4.48h-3.54zM332.7 317.0h3.54v4.48h-3.54zM329.2 312.5h3.54v4.48h-3.54zM322.1 294.5h3.54v4.48h-3.54zM322.1 285.6h3.54v4.48h-3.54zM322.1 276.6h3.54v4.48h-3.54z" fill="#3d0000"/>
<path d="M414.0 429.0h3.54v4.48h-3.54zM403.4 424.6h3.54v4.48h-3.54zM417.6 424.6h3.54v4.48h-3.54zM407.0 420.1h3.54v4.48h-3.54zM421.1 420.1h3.54v4.48h-3.54zM403.4 415.6h3.54v4.48h-3.54zM424.6 415.6h3.54v4.48h-3.54zM399.9 411.1h3.54v4.48h-3.54zM396.4 406.6h3.54v4.48h-3.54zM392.8 393.2h3.54v4.48h-3.54zM389.3 388.7h3.54v4.48h-3.54zM385.8 384.2h3.54v4.48h-3.54zM382.2 379.7h3.54v4.48h-3.54zM445.9 379.7h3.54v4.48h-3.54zM378.7 375.2h3.54v4.48h-3.54zM449.4 375.2h3.54v4.48h-3.54zM375.1 370.8h3.54v4.48h-3.54zM382.2 370.8h3.54v4.48h-3.54zM452.9 370.8h3.54v4.48h-3.54zM371.6 366.3h3.54v4.48h-3.54zM378.7 366.3h3.54v4.48h-3.54zM456.5 366.3h3.54v4.48h-3.54zM368.1 361.8h3.54v4.48h-3.54zM460.0 361.8h3.54v4.48h-3.54zM364.5 357.3h3.54v4.48h-3.54zM463.5 357.3h3.54v4.48h-3.54zM361.0 352.8h3.54v4.48h-3.54zM357.5 348.3h3.54v4.48h-3.54zM353.9 343.9h3.54v4.48h-3.54zM350.4 339.4h3.54v4.48h-3.54zM346.9 334.9h3.54v4.48h-3.54zM343.3 330.4h3.54v4.48h-3.54zM339.8 325.9h3.54v4.48h-3.54zM329.2 303.5h3.54v4.48h-3.54zM325.6 299.0h3.54v4.48h-3.54z" fill="#4e0000"/>
<path d="M410.5 424.6h3.54v4.48h-3.54zM414.0 420.1h3.54v4.48h-3.54zM410.5 415.6h3.54v4.48h-3.54zM417.6 415.6h3.54v4.48h-3.54zM421.1 411.1h3.54v4.48h-3.54zM403.4 406.6h3.54v4.48h-3.54zM424.6 406.6h3.54v4.48h-3.54zM399.9 402.1h3.54v4.48h-3.54zM428.2 402.1h3.54v4.48h-3.54zM396.4 397.7h3.54v4.48h-3.54zM431.7 397.7h3.54v4.48h-3.54zM435.3 393.2h3.54v4.48h-3.54zM438.8 388.7h3.54v4.48h-3.54zM392.8 384.2h3.54v4.48h-3.54zM442.3 384.2h3.54v4.48h-3.54zM389.3 379.7h3.54v4.48h-3.54zM385.8 375.2h3.54v4.48h-3.54zM389.3 370.8h3.54v4.48h-3.54zM375.1 361.8h3.54v4.48h-3.54zM382.2 361.8h3.54v4.48h-3.54zM371.6 357.3h3.54v4.48h-3.54zM378.7 357.3h3.54v4.48h-3.54zM368.1 352.8h3.54v4.48h-3.54zM375.1 352.8h3.54v4.48h-3.54zM364.5 348.3h3.54v4.48h-3.54zM361.0 343.9h3.54v4.48h-3.54zM477.7 330.4h3.54v4.48h-3.54zM481.2 325.9h3.54v4.48h-3.54zM484.8 321.4h3.54v4.48h-3.54zM332.7 308.0h3.54v4.48h-3.54zM325.6 290.1h3.54v4.48h-3.54zM325.6 281.1h3.54v4.48h-3.54z" fill="#5f0000"/>
<path d="M407.0 411.1h3.54v4.48h-3.54zM414.0 411.1h3.54v4.48h-3.54zM407.0 402.1h3.54v4.48h-3.54zM421.1 402.1h3.54v4.48h-3.54zM403.4 397.7h3.54v4.48h-3.54zM399.9 393.2h3.54v4.48h-3.54zM428.2 393.2h3.54v4.48h-3.54zM396.4 388.7h3.54v4.48h-3.54zM399.9 384.2h3.54v4.48h-3.54zM435.3 384.2h3.54v4.48h-3.54zM396.4 379.7h3.54v4.48h-3.54zM438.8 379.7h3.54v4.48h-3.54zM392.8 375.2h3.54v4.48h-3.54zM445.9 370.8h3.54v4.48h-3.54zM385.8 366.3h3.54v4.48h-3.54zM449.4 366.3h3.54v4.48h-3.54zM389.3 361.8h3.54v4.48h-3.54zM452.9 361.8h3.54v4.48h-3.54zM456.5 357.3h3.54v4.48h-3.54zM382.2 352.8h3.54v4.48h-3.54zM460.0 352.8h3.54v4.48h-3.54zM371.6 348.3h3.54v4.48h-3.54zM378.7 348.3h3.54v4.48h-3.54zM463.5 348.3h3.54v4.48h-3.54zM368.1 343.9h3.54v4.48h-3.54zM467.1 343.9h3.54v4.48h-3.54zM357.5 339.4h3.54v4.48h-3.54zM364.5 339.4h3.54v4.48h-3.54zM470.6 339.4h3.54v4.48h-3.54zM353.9 334.9h3.54v4.48h-3.54zM474.2 334.9h3.54v4.48h-3.54zM346.9 325.9h3.54v4.48h-3.54zM343.3 321.4h3.54v4.48h-3.54zM336.2 312.5h3.54v4.48h-3.54zM336.2 303.5h3.54v4.48h-3.54zM329.2 294.5h3.54v4.48h-3.54zM329.2 285.6h3.54v4.48h-3.54zM329.2 276.6h3.54v4.48h-3.54zM336.2 276.6h3.54v4.48h-3.54z" fill="#700000"/>
<path d="M410.5 406.6h3.54v4.48h-3.54zM417.6 406.6h3.54v4.48h-3.54zM414.0 402.1h3.54v4.48h-3.54zM424.6 397.7h3.54v4.48h-3.54zM407.0 393.2h3.54v4.48h-3.54zM403.4 388.7h3.54v4.48h-3.54zM431.7 388.7h3.54v4.48h-3.54zM399.9 375.2h3.54v4.48h-3.54zM442.3 375.2h3.54v4.48h-3.54zM396.4 370.8h3.54v4.48h-3.54zM392.8 366.3h3.54v4.48h-3.54zM442.3 366.3h3.54v4.48h-3.54zM385.8 357.3h3.54v4.48h-3.54zM392.8 357.3h3.54v4.48h-3.54zM389.3 352.8h3.54v4.48h-3.54zM385.8 348.3h3.54v4.48h-3.54zM375.1 343.9h3.54v4.48h-3.54zM382.2 343.9h3.54v4.48h-3.54zM361.0 334.9h3.54v4.48h-3.54zM368.1 334.9h3.54v4.48h-3.54zM350.4 330.4h3.54v4.48h-3.54zM357.5 330.4h3.54v4.48h-3.54zM339.8 317.0h3.54v4.48h-3.54zM339.8 308.0h3.54v4.48h-3.54zM332.7 299.0h3.54v4.48h-3.54zM339.8 299.0h3.54v4.48h-3.54zM332.7 290.1h3.54v4.48h-3.54zM336.2 285.6h3.54v4.48h-3.54zM343.3 285.6h3.54v4.48h-3.54zM350.4 285.6h3.54v4.48h-3.54zM332.7 281.1h3.54v4.48h-3.54zM339.8 281.1h3.54v4.48h-3.54zM346.9 281.1h3.54v4.48h-3.54zM353.9 281.1h3.54v4.48h-3.54zM343.3 276.6h3.54v4.48h-3.54zM350.4 276.6h3.54v4.48h-3.54zM357.5 276.6h3.54v4.48h-3.54z" fill="#810000"/>
<path d="M410.5 397.7h3.54v4.48h-3.54zM417.6 397.7h3.54v4.48h-3.54zM414.0 393.2h3.54v4.48h-3.54zM421.1 393.2h3.54v4.48h-3.54zM410.5 388.7h3.54v4.48h-3.54zM424.6 388.7h3.54v4.48h-3.54zM407.0 384.2h3.54v4.48h-3.54zM414.0 384.2h3.54v4.48h-3.54zM428.2 384.2h3.54v4.48h-3.54zM403.4 379.7h3.54v4.48h-3.54zM431.7 379.7h3.54v4.48h-3.54zM435.3 375.2h3.54v4.48h-3.54zM438.8 370.8h3.54v4.48h-3.54zM399.9 366.3h3.54v4.48h-3.54zM396.4 361.8h3.54v4.48h-3.54zM445.9 361.8h3.54v4.48h-3.54zM449.4 357.3h3.54v4.48h-3.54zM452.9 352.8h3.54v4.48h-3.54zM460.0 343.9h3.54v4.48h-3.54zM371.6 339.4h3.54v4.48h-3.54zM378.7 339.4h3.54v4.48h-3.54zM470.6 330.4h3.54v4.48h-3.54zM353.9 325.9h3.54v4.48h-3.54zM474.2 325.9h3.54v4.48h-3.54zM481.2 317.0h3.54v4.48h-3.54zM343.3 303.5h3.54v4.48h-3.54zM346.9 299.0h3.54v4.48h-3.54zM336.2 294.5h3.54v4.48h-3.54zM343.3 294.5h3.54v4.48h-3.54zM339.8 290.1h3.54v4.48h-3.54zM346.9 290.1h3.54v4.48h-3.54zM361.0 281.1h3.54v4.48h-3.54z" fill="#920000"/>
<path d="M417.6 388.7h3.54v4.48h-3.54zM421.1 384.2h3.54v4.48h-3.54zM410.5 379.7h3.54v4.48h-3.54zM407.0 375.2h3.54v4.48h-3.54zM403.4 370.8h3.54v4.48h-3.54zM435.3 366.3h3.54v4.48h-3.54zM403.4 361.8h3.54v4.48h-3.54zM399.9 357.3h3.54v4.48h-3.54zM442.3 357.3h3.54v4.48h-3.54zM396.4 352.8h3.54v4.48h-3.54zM392.8 348.3h3.54v4.48h-3.54zM456.5 348.3h3.54v4.48h-3.54zM385.8 339.4h3.54v4.48h-3.54zM463.5 339.4h3.54v4.48h-3.54zM375.1 334.9h3.54v4.48h-3.54zM467.1 334.9h3.54v4.48h-3.54zM364.5 330.4h3.54v4.48h-3.54zM350.4 321.4h3.54v4.48h-3.54zM477.7 321.4h3.54v4.48h-3.54zM346.9 317.0h3.54v4.48h-3.54zM343.3 312.5h3.54v4.48h-3.54zM484.8 312.5h3.54v4.48h-3.54zM350.4 303.5h3.54v4.48h-3.54zM353.9 299.0h3.54v4.48h-3.54zM350.4 294.5h3.54v4.48h-3.54zM353.9 290.1h3.54v4.48h-3.54zM361.0 290.1h3.54v4.48h-3.54zM357.5 285.6h3.54v4.48h-3.54zM364.5 285.6h3.54v4.48h-3.54zM364.5 276.6h3.54v4.48h-3.54zM371.6 276.6h3.54v4.48h-3.54z" fill="#a30000"/>
<path d="M417.6 379.7h3.54v4.48h-3.54zM424.6 379.7h3.54v4.48h-3.54zM414.0 375.2h3.54v4.48h-3.54zM421.1 375.2h3.54v4.48h-3.54zM428.2 375.2h3.54v4.48h-3.54zM424.6 370.8h3.54v4.48h-3.54zM431.7 370.8h3.54v4.48h-3.54zM407.0 366.3h3.54v4.48h-3.54zM438.8 361.8h3.54v4.48h-3.54zM403.4 352.8h3.54v4.48h-3.54zM445.9 352.8h3.54v4.48h-3.54zM449.4 348.3h3.54v4.48h-3.54zM389.3 343.9h3.54v4.48h-3.54zM452.9 343.9h3.54v4.48h-3.54zM456.5 339.4h3.54v4.48h-3.54zM371.6 330.4h3.54v4.48h-3.54zM361.0 325.9h3.54v4.48h-3.54zM357.5 321.4h3.54v4.48h-3.54zM357.5 294.5h3.54v4.48h-3.54zM371.6 285.6h3.54v4.48h-3.54zM378.7 285.6h3.54v4.48h-3.54zM368.1 281.1h3.54v4.48h-3.54zM375.1 281.1h3.54v4.48h-3.54zM382.2 281.1h3.54v4.48h-3.54zM403.4 281.1h3.54v4.48h-3.54zM378.7 276.6h3.54v4.48h-3.54zM385.8 276.6h3.54v4.48h-3.54zM392.8 276.6h3.54v4.48h-3.54zM407.0 276.6h3.54v4.48h-3.54z" fill="#b40000"/>
<path d="M410.5 370.8h3.54v4.48h-3.54zM417.6 370.8h3.54v4.48h-3.54zM414.0 366.3h3.54v4.48h-3.54zM428.2 366.3h3.54v4.48h-3.54zM431.7 361.8h3.54v4.48h-3.54zM438.8 352.8h3.54v4.48h-3.54zM399.9 348.3h3.54v4.48h-3.54zM396.4 343.9h3.54v4.48h-3.54zM382.2 334.9h3.54v4.48h-3.54zM460.0 334.9h3.54v4.48h-3.54zM368.1 325.9h3.54v4.48h-3.54zM364.5 321.4h3.54v4.48h-3.54zM350.4 312.5h3.54v4.48h-3.54zM346.9 308.0h3.54v4.48h-3.54zM357.5 303.5h3.54v4.48h-3.54zM477.7 303.5h3.54v4.48h-3.54zM375.1 290.1h3.54v4.48h-3.54zM385.8 285.6h3.54v4.48h-3.54zM389.3 281.1h3.54v4.48h-3.54zM396.4 281.1h3.54v4.48h-3.54zM410.5 281.1h3.54v4.48h-3.54zM399.9 276.6h3.54v4.48h-3.54z" fill="#c50000"/>
<path d="M421.1 366.3h3.54v4.48h-3.54zM410.5 361.8h3.54v4.48h-3.54zM417.6 361.8h3.54v4.48h-3.54zM424.6 361.8h3.54v4.48h-3.54zM407.0 357.3h3.54v4.48h-3.54zM414.0 357.3h3.54v4.48h-3.54zM435.3 357.3h3.54v4.48h-3.54zM410.5 352.8h3.54v4.48h-3.54zM435.3 348.3h3.54v4.48h-3.54zM442.3 348.3h3.54v4.48h-3.54zM403.4 343.9h3.54v4.48h-3.54zM445.9 343.9h3.54v4.48h-3.54zM392.8 339.4h3.54v4.48h-3.54zM389.3 334.9h3.54v4.48h-3.54zM378.7 330.4h3.54v4.48h-3.54zM463.5 330.4h3.54v4.48h-3.54zM467.1 325.9h3.54v4.48h-3.54zM470.6 321.4h3.54v4.48h-3.54zM353.9 317.0h3.54v4.48h-3.54zM353.9 308.0h3.54v4.48h-3.54zM481.2 308.0h3.54v4.48h-3.54zM364.5 303.5h3.54v4.48h-3.54zM484.8 303.5h3.54v4.48h-3.54zM361.0 299.0h3.54v4.48h-3.54zM364.5 294.5h3.54v4.48h-3.54zM368.1 290.1h3.54v4.48h-3.54zM382.2 290.1h3.54v4.48h-3.54zM399.9 285.6h3.54v4.48h-3.54zM417.6 281.1h3.54v4.48h-3.54zM414.0 276.6h3.54v4.48h-3.54zM428.2 276.6h3.54v4.48h-3.54z" fill="#d60000"/>
<path d="M421.1 357.3h3.54v4.48h-3.54zM428.2 357.3h3.54v4.48h-3.54zM417.6 352.8h3.54v4.48h-3.54zM431.7 352.8h3.54v4.48h-3.54zM407.0 348.3h3.54v4.48h-3.54zM428.2 348.3h3.54v4.48h-3.54zM410.5 343.9h3.54v4.48h-3.54zM399.9 339.4h3.54v4.48h-3.54zM449.4 339.4h3.54v4.48h-3.54zM452.9 334.9h3.54v4.48h-3.54zM456.5 330.4h3.54v4.48h-3.54zM375.1 325.9h3.54v4.48h-3.54zM460.0 325.9h3.54v4.48h-3.54zM474.2 317.0h3.54v4.48h-3.54zM477.7 312.5h3.54v4.48h-3.54zM474.2 308.0h3.54v4.48h-3.54zM368.1 299.0h3.54v4.48h-3.54zM371.6 294.5h3.54v4.48h-3.54zM378.7 294.5h3.54v4.48h-3.54zM389.3 290.1h3.54v4.48h-3.54zM392.8 285.6h3.54v4.48h-3.54zM407.0 285.6h3.54v4.48h-3.54zM435.3 285.6h3.54v4.48h-3.54zM431.7 281.1h3.54v4.48h-3.54zM438.8 281.1h3.54v4.48h-3.54zM421.1 276.6h3.54v4.48h-3.54zM435.3 276.6h3.54v4.48h-3.54zM442.3 276.6h3.54v4.48h-3.54zM449.4 276.6h3.54v4.48h-3.54z" fill="#e70000"/>
<path d="M424.6 352.8h3.54v4.48h-3.54zM414.0 348.3h3.54v4.48h-3.54zM421.1 348.3h3.54v4.48h-3.54zM417.6 343.9h3.54v4.48h-3.54zM442.3 339.4h3.54v4.48h-3.54zM385.8 330.4h3.54v4.48h-3.54zM463.5 321.4h3.54v4.48h-3.54zM375.1 299.0h3.54v4.48h-3.54zM385.8 294.5h3.54v4.48h-3.54zM396.4 290.1h3.54v4.48h-3.54zM403.4 290.1h3.54v4.48h-3.54zM417.6 290.1h3.54v4.48h-3.54zM414.0 285.6h3.54v4.48h-3.54zM421.1 285.6h3.54v4.48h-3.54zM428.2 285.6h3.54v4.48h-3.54zM442.3 285.6h3.54v4.48h-3.54zM449.4 285.6h3.54v4.48h-3.54zM424.6 281.1h3.54v4.48h-3.54zM445.9 281.1h3.54v4.48h-3.54zM452.9 281.1h3.54v4.48h-3.54zM456.5 276.6h3.54v4.48h-3.54zM463.5 276.6h3.54v4.48h-3.54z" fill="#f80000"/>
<path d="M431.7 343.9h3.54v4.48h-3.54zM438.8 343.9h3.54v4.48h-3.54zM407.0 339.4h3.54v4.48h-3.54zM414.0 339.4h3.54v4.48h-3.54zM396.4 334.9h3.54v4.48h-3.54zM445.9 334.9h3.54v4.48h-3.54zM382.2 325.9h3.54v4.48h-3.54zM371.6 321.4h3.54v4.48h-3.54zM361.0 317.0h3.54v4.48h-3.54zM357.5 312.5h3.54v4.48h-3.54zM361.0 308.0h3.54v4.48h-3.54zM382.2 299.0h3.54v4.48h-3.54zM392.8 294.5h3.54v4.48h-3.54zM407.0 294.5h3.54v4.48h-3.54zM410.5 290.1h3.54v4.48h-3.54zM424.6 290.1h3.54v4.48h-3.54zM431.7 290.1h3.54v4.48h-3.54zM445.9 290.1h3.54v4.48h-3.54zM456.5 285.6h3.54v4.48h-3.54zM463.5 285.6h3.54v4.48h-3.54z" fill="#ff0000"/>
<path d="M424.6 343.9h3.54v4.48h-3.54zM421.1 339.4h3.54v4.48h-3.54zM435.3 339.4h3.54v4.48h-3.54zM449.4 330.4h3.54v4.48h-3.54zM368.1 317.0h3.54v4.48h-3.54zM467.1 317.0h3.54v4.48h-3.54zM470.6 312.5h3.54v4.48h-3.54zM371.6 303.5h3.54v4.48h-3.54zM399.9 294.5h3.54v4.48h-3.54zM421.1 294.5h3.54v4.48h-3.54zM449.4 294.5h3.54v4.48h-3.54zM456.5 294.5h3.54v4.48h-3.54zM438.8 290.1h3.54v4.48h-3.54zM452.9 290.1h3.54v4.48h-3.54zM460.0 290.1h3.54v4.48h-3.54zM460.0 281.1h3.54v4.48h-3.54zM467.1 281.1h3.54v4.48h-3.54z" fill="#ff1100"/>
<path d="M403.4 334.9h3.54v4.48h-3.54zM438.8 334.9h3.54v4.48h-3.54zM392.8 330.4h3.54v4.48h-3.54zM442.3 330.4h3.54v4.48h-3.54zM452.9 325.9h3.54v4.48h-3.54zM467.1 308.0h3.54v4.48h-3.54zM470.6 303.5h3.54v4.48h-3.54zM389.3 299.0h3.54v4.48h-3.54zM452.9 299.0h3.54v4.48h-3.54zM414.0 294.5h3.54v4.48h-3.54zM435.3 294.5h3.54v4.48h-3.54zM470.6 276.6h3.54v4.48h-3.54z" fill="#ff2100"/>
<path d="M428.2 339.4h3.54v4.48h-3.54zM431.7 334.9h3.54v4.48h-3.54zM399.9 330.4h3.54v4.48h-3.54zM407.0 330.4h3.54v4.48h-3.54zM396.4 325.9h3.54v4.48h-3.54zM456.5 321.4h3.54v4.48h-3.54zM364.5 312.5h3.54v4.48h-3.54zM368.1 308.0h3.54v4.48h-3.54zM396.4 299.0h3.54v4.48h-3.54zM403.4 299.0h3.54v4.48h-3.54zM428.2 294.5h3.54v4.48h-3.54zM442.3 294.5h3.54v4.48h-3.54zM470.6 285.6h3.54v4.48h-3.54z" fill="#ff3300"/>
<path d="M410.5 334.9h3.54v4.48h-3.54zM417.6 334.9h3.54v4.48h-3.54zM435.3 330.4h3.54v4.48h-3.54zM389.3 325.9h3.54v4.48h-3.54zM445.9 325.9h3.54v4.48h-3.54zM378.7 321.4h3.54v4.48h-3.54zM385.8 321.4h3.54v4.48h-3.54zM375.1 317.0h3.54v4.48h-3.54zM460.0 317.0h3.54v4.48h-3.54zM378.7 303.5h3.54v4.48h-3.54zM463.5 303.5h3.54v4.48h-3.54zM438.8 299.0h3.54v4.48h-3.54zM481.2 299.0h3.54v4.48h-3.54zM484.8 294.5h3.54v4.48h-3.54zM477.7 276.6h3.54v4.48h-3.54z" fill="#ff4300"/>
<path d="M428.2 330.4h3.54v4.48h-3.54zM463.5 312.5h3.54v4.48h-3.54zM375.1 308.0h3.54v4.48h-3.54zM460.0 299.0h3.54v4.48h-3.54zM463.5 294.5h3.54v4.48h-3.54zM467.1 290.1h3.54v4.48h-3.54z" fill="#ff5500"/>
<path d="M424.6 334.9h3.54v4.48h-3.54zM403.4 325.9h3.54v4.48h-3.54zM371.6 312.5h3.54v4.48h-3.54zM385.8 303.5h3.54v4.48h-3.54zM410.5 299.0h3.54v4.48h-3.54zM417.6 299.0h3.54v4.48h-3.54zM431.7 299.0h3.54v4.48h-3.54zM445.9 299.0h3.54v4.48h-3.54zM467.1 299.0h3.54v4.48h-3.54zM474.2 281.1h3.54v4.48h-3.54z" fill="#ff6600"/>
<path d="M421.1 330.4h3.54v4.48h-3.54zM438.8 325.9h3.54v4.48h-3.54zM392.8 321.4h3.54v4.48h-3.54zM456.5 312.5h3.54v4.48h-3.54zM392.8 303.5h3.54v4.48h-3.54zM449.4 303.5h3.54v4.48h-3.54zM456.5 303.5h3.54v4.48h-3.54zM424.6 299.0h3.54v4.48h-3.54zM474.2 299.0h3.54v4.48h-3.54z" fill="#ff7700"/>
<path d="M414.0 330.4h3.54v4.48h-3.54zM410.5 325.9h3.54v4.48h-3.54zM424.6 325.9h3.54v4.48h-3.54zM431.7 325.9h3.54v4.48h-3.54zM449.4 321.4h3.54v4.48h-3.54zM378.7 312.5h3.54v4.48h-3.54zM460.0 308.0h3.54v4.48h-3.54zM474.2 290.1h3.54v4.48h-3.54zM484.8 276.6h3.54v4.48h-3.54z" fill="#ff8700"/>
<path d="M417.6 325.9h3.54v4.48h-3.54zM399.9 321.4h3.54v4.48h-3.54zM470.6 294.5h3.54v4.48h-3.54zM477.7 285.6h3.54v4.48h-3.54zM481.2 281.1h3.54v4.48h-3.54z" fill="#ff9900"/>
<path d="M414.0 321.4h3.54v4.48h-3.54zM382.2 317.0h3.54v4.48h-3.54zM452.9 317.0h3.54v4.48h-3.54zM452.9 308.0h3.54v4.48h-3.54zM399.9 303.5h3.54v4.48h-3.54zM477.7 294.5h3.54v4.48h-3.54z" fill="#ffaa00"/>
<path d="M407.0 321.4h3.54v4.48h-3.54zM435.3 321.4h3.54v4.48h-3.54zM442.3 321.4h3.54v4.48h-3.54zM382.2 308.0h3.54v4.48h-3.54zM442.3 303.5h3.54v4.48h-3.54zM481.2 290.1h3.54v4.48h-3.54zM484.8 285.6h3.54v4.48h-3.54z" fill="#ffbb00"/>
<path d="M445.9 317.0h3.54v4.48h-3.54zM389.3 308.0h3.54v4.48h-3.54zM407.0 303.5h3.54v4.48h-3.54zM421.1 303.5h3.54v4.48h-3.54zM435.3 303.5h3.54v4.48h-3.54z" fill="#ffcc00"/>
<path d="M428.2 321.4h3.54v4.48h-3.54zM389.3 317.0h3.54v4.48h-3.54zM385.8 312.5h3.54v4.48h-3.54zM449.4 312.5h3.54v4.48h-3.54zM396.4 308.0h3.54v4.48h-3.54zM414.0 303.5h3.54v4.48h-3.54zM428.2 303.5h3.54v4.48h-3.54z" fill="#ffdc00"/>
<path d="M421.1 321.4h3.54v4.48h-3.54zM438.8 308.0h3.54v4.48h-3.54z" fill="#ffed00"/>
<path d="M396.4 317.0h3.54v4.48h-3.54zM442.3 312.5h3.54v4.48h-3.54z" fill="#ffff00"/>
<path d="M438.8 317.0h3.54v4.48h-3.54zM392.8 312.5h3.54v4.48h-3.54zM410.5 308.0h3.54v4.48h-3.54zM445.9 308.0h3.54v4.48h-3.54z" fill="#ffff19"/>
<path d="M431.7 317.0h3.54v4.48h-3.54zM417.6 308.0h3.54v4.48h-3.54zM424.6 308.0h3.54v4.48h-3.54z" fill="#ffff4c"/>
<path d="M403.4 308.0h3.54v4.48h-3.54zM431.7 308.0h3.54v4.48h-3.54z" fill="#ffff65"/>
<path d="M403.4 317.0h3.54v4.48h-3.54zM410.5 317.0h3.54v4.48h-3.54zM428.2 312.5h3.54v4.48h-3.54zM435.3 312.5h3.54v4.48h-3.54z" fill="#ffff7f"/>
<path d="M417.6 317.0h3.54v4.48h-3.54zM424.6 317.0h3.54v4.48h-3.54z" fill="#ffff99"/>
<path d="M399.9 312.5h3.54v4.48h-3.54z" fill="#ffffb2"/>
<path d="M414.0 312.5h3.54v4.48h-3.54z" fill="#ffffcb"/>
<path d="M421.1 312.5h3.54v4.48h-3.54z" fill="#ffffe5"/>
<path d="M407.0 312.5h3.54v4.48h-3.54z" fill="#ffffff"/>
<line x1="332.95" y1="442.50" x2="332.95" y2="436.50" stroke="#eee" stroke-width="1" />
<line x1="332.95" y1="276.60" x2="332.95" y2="282.60" stroke="#eee" stroke-width="1" />
<text x="329.45" y="458.00" font-size="13.6" text-anchor="middle" fill="#262626" >-20</text>
<line x1="404.20" y1="442.50" x2="404.20" y2="436.50" stroke="#eee" stroke-width="1" />
<line x1="404.20" y1="276.60" x2="404.20" y2="282.60" stroke="#eee" stroke-width="1" />
<text x="404.20" y="458.00" font-size="13.6" text-anchor="middle" fill="#262626" >0</text>
<line x1="475.45" y1="442.50" x2="475.45" y2="436.50" stroke="#eee" stroke-width="1" />
<line x1="475.45" y1="276.60" x2="475.45" y2="282.60" stroke="#eee" stroke-width="1" />
<text x="474.45" y="458.00" font-size="13.6" text-anchor="middle" fill="#262626" >20</text>
<line x1="322.10" y1="402.15" x2="328.10" y2="402.15" stroke="#eee" stroke-width="1" />
<line x1="488.30" y1="402.15" x2="482.30" y2="402.15" stroke="#eee" stroke-width="1" />
<line x1="322.10" y1="357.31" x2="328.10" y2="357.31" stroke="#eee" stroke-width="1" />
<line x1="488.30" y1="357.31" x2="482.30" y2="357.31" stroke="#eee" stroke-width="1" />
<line x1="322.10" y1="312.47" x2="328.10" y2="312.47" stroke="#eee" stroke-width="1" />
<line x1="488.30" y1="312.47" x2="482.30" y2="312.47" stroke="#eee" stroke-width="1" />
<text x="440.10" y="428.10" font-size="13.0" text-anchor="start" fill="#fff" >Theory</text>
<rect x="131.00" y="469.60" width="166.00" height="165.40" fill="#0d0000"/>
<path d="M215.8 630.9h3.53v4.13h-3.53zM222.8 630.9h3.53v4.13h-3.53zM226.4 626.7h3.53v4.13h-3.53zM205.2 618.5h3.53v4.13h-3.53zM201.6 614.3h3.53v4.13h-3.53zM237.0 614.3h3.53v4.13h-3.53zM240.5 610.2h3.53v4.13h-3.53zM194.6 606.1h3.53v4.13h-3.53zM191.0 601.9h3.53v4.13h-3.53zM247.6 601.9h3.53v4.13h-3.53zM187.5 597.8h3.53v4.13h-3.53zM194.6 597.8h3.53v4.13h-3.53zM208.7 597.8h3.53v4.13h-3.53zM176.9 593.6h3.53v4.13h-3.53zM180.4 589.5h3.53v4.13h-3.53zM258.1 589.5h3.53v4.13h-3.53zM261.7 585.4h3.53v4.13h-3.53zM166.3 581.2h3.53v4.13h-3.53zM173.4 581.2h3.53v4.13h-3.53zM180.4 581.2h3.53v4.13h-3.53zM265.2 581.2h3.53v4.13h-3.53zM268.7 577.1h3.53v4.13h-3.53zM159.3 573.0h3.53v4.13h-3.53zM166.3 573.0h3.53v4.13h-3.53zM272.3 573.0h3.53v4.13h-3.53zM162.8 568.8h3.53v4.13h-3.53zM275.8 568.8h3.53v4.13h-3.53zM152.2 564.7h3.53v4.13h-3.53zM279.3 564.7h3.53v4.13h-3.53zM282.9 560.6h3.53v4.13h-3.53zM152.2 556.4h3.53v4.13h-3.53zM286.4 556.4h3.53v4.13h-3.53zM148.7 552.3h3.53v4.13h-3.53zM138.1 548.2h3.53v4.13h-3.53zM293.5 548.2h3.53v4.13h-3.53zM134.5 544.0h3.53v4.13h-3.53z" fill="#2c0000"/>
<path d="M212.2 626.7h3.53v4.13h-3.53zM219.3 626.7h3.53v4.13h-3.53zM208.7 622.6h3.53v4.13h-3.53zM212.2 618.5h3.53v4.13h-3.53zM219.3 618.5h3.53v4.13h-3.53zM226.4 618.5h3.53v4.13h-3.53zM208.7 614.3h3.53v4.13h-3.53zM205.2 610.2h3.53v4.13h-3.53zM201.6 606.1h3.53v4.13h-3.53zM244.0 606.1h3.53v4.13h-3.53zM198.1 601.9h3.53v4.13h-3.53zM184.0 593.6h3.53v4.13h-3.53zM191.0 593.6h3.53v4.13h-3.53zM247.6 593.6h3.53v4.13h-3.53zM187.5 589.5h3.53v4.13h-3.53zM176.9 585.4h3.53v4.13h-3.53zM184.0 585.4h3.53v4.13h-3.53zM191.0 585.4h3.53v4.13h-3.53zM254.6 585.4h3.53v4.13h-3.53zM187.5 581.2h3.53v4.13h-3.53zM258.1 581.2h3.53v4.13h-3.53zM169.9 577.1h3.53v4.13h-3.53zM184.0 577.1h3.53v4.13h-3.53zM180.4 573.0h3.53v4.13h-3.53zM187.5 573.0h3.53v4.13h-3.53zM258.1 573.0h3.53v4.13h-3.53zM265.2 573.0h3.53v4.13h-3.53zM169.9 568.8h3.53v4.13h-3.53zM176.9 568.8h3.53v4.13h-3.53zM184.0 568.8h3.53v4.13h-3.53zM159.3 564.7h3.53v4.13h-3.53zM166.3 564.7h3.53v4.13h-3.53zM155.7 560.6h3.53v4.13h-3.53zM159.3 556.4h3.53v4.13h-3.53zM279.3 556.4h3.53v4.13h-3.53zM155.7 552.3h3.53v4.13h-3.53zM145.1 548.2h3.53v4.13h-3.53zM286.4 548.2h3.53v4.13h-3.53zM141.6 544.0h3.53v4.13h-3.53zM289.9 544.0h3.53v4.13h-3.53zM138.1 539.9h3.53v4.13h-3.53zM134.5 535.8h3.53v4.13h-3.53zM141.6 535.8h3.53v4.13h-3.53zM131.0 531.6h3.53v4.13h-3.53zM138.1 531.6h3.53v4.13h-3.53zM159.3 531.6h3.53v4.13h-3.53z" fill="#3d0000"/>
<path d="M215.8 622.6h3.53v4.13h-3.53zM222.8 622.6h3.53v4.13h-3.53zM215.8 614.3h3.53v4.13h-3.53zM229.9 614.3h3.53v4.13h-3.53zM219.3 610.2h3.53v4.13h-3.53zM226.4 610.2h3.53v4.13h-3.53zM233.4 610.2h3.53v4.13h-3.53zM208.7 606.1h3.53v4.13h-3.53zM237.0 606.1h3.53v4.13h-3.53zM205.2 601.9h3.53v4.13h-3.53zM212.2 601.9h3.53v4.13h-3.53zM201.6 597.8h3.53v4.13h-3.53zM244.0 597.8h3.53v4.13h-3.53zM198.1 593.6h3.53v4.13h-3.53zM194.6 589.5h3.53v4.13h-3.53zM251.1 589.5h3.53v4.13h-3.53zM176.9 577.1h3.53v4.13h-3.53zM191.0 577.1h3.53v4.13h-3.53zM261.7 577.1h3.53v4.13h-3.53zM173.4 573.0h3.53v4.13h-3.53zM191.0 568.8h3.53v4.13h-3.53zM180.4 564.7h3.53v4.13h-3.53zM187.5 564.7h3.53v4.13h-3.53zM162.8 560.6h3.53v4.13h-3.53zM169.9 560.6h3.53v4.13h-3.53zM176.9 560.6h3.53v4.13h-3.53zM275.8 560.6h3.53v4.13h-3.53zM166.3 556.4h3.53v4.13h-3.53zM173.4 556.4h3.53v4.13h-3.53zM180.4 556.4h3.53v4.13h-3.53zM162.8 552.3h3.53v4.13h-3.53zM169.9 552.3h3.53v4.13h-3.53zM176.9 552.3h3.53v4.13h-3.53zM282.9 552.3h3.53v4.13h-3.53zM152.2 548.2h3.53v4.13h-3.53zM159.3 548.2h3.53v4.13h-3.53zM166.3 548.2h3.53v4.13h-3.53zM148.7 544.0h3.53v4.13h-3.53zM155.7 544.0h3.53v4.13h-3.53zM293.5 539.9h3.53v4.13h-3.53zM155.7 535.8h3.53v4.13h-3.53zM134.5 527.5h3.53v4.13h-3.53zM134.5 519.2h3.53v4.13h-3.53z" fill="#4e0000"/>
<path d="M222.8 614.3h3.53v4.13h-3.53zM212.2 610.2h3.53v4.13h-3.53zM215.8 606.1h3.53v4.13h-3.53zM222.8 606.1h3.53v4.13h-3.53zM229.9 606.1h3.53v4.13h-3.53zM219.3 601.9h3.53v4.13h-3.53zM233.4 601.9h3.53v4.13h-3.53zM240.5 601.9h3.53v4.13h-3.53zM215.8 597.8h3.53v4.13h-3.53zM237.0 597.8h3.53v4.13h-3.53zM205.2 593.6h3.53v4.13h-3.53zM212.2 593.6h3.53v4.13h-3.53zM226.4 593.6h3.53v4.13h-3.53zM240.5 593.6h3.53v4.13h-3.53zM201.6 589.5h3.53v4.13h-3.53zM208.7 589.5h3.53v4.13h-3.53zM194.6 581.2h3.53v4.13h-3.53zM251.1 581.2h3.53v4.13h-3.53zM254.6 577.1h3.53v4.13h-3.53zM194.6 573.0h3.53v4.13h-3.53zM251.1 573.0h3.53v4.13h-3.53zM198.1 568.8h3.53v4.13h-3.53zM254.6 568.8h3.53v4.13h-3.53zM268.7 568.8h3.53v4.13h-3.53zM173.4 564.7h3.53v4.13h-3.53zM194.6 564.7h3.53v4.13h-3.53zM265.2 564.7h3.53v4.13h-3.53zM272.3 564.7h3.53v4.13h-3.53zM184.0 560.6h3.53v4.13h-3.53zM187.5 556.4h3.53v4.13h-3.53zM184.0 552.3h3.53v4.13h-3.53zM173.4 548.2h3.53v4.13h-3.53zM180.4 548.2h3.53v4.13h-3.53zM162.8 544.0h3.53v4.13h-3.53zM176.9 544.0h3.53v4.13h-3.53zM282.9 544.0h3.53v4.13h-3.53zM145.1 539.9h3.53v4.13h-3.53zM159.3 539.9h3.53v4.13h-3.53zM166.3 539.9h3.53v4.13h-3.53zM173.4 539.9h3.53v4.13h-3.53zM180.4 539.9h3.53v4.13h-3.53zM286.4 539.9h3.53v4.13h-3.53zM148.7 535.8h3.53v4.13h-3.53zM145.1 531.6h3.53v4.13h-3.53zM138.1 523.4h3.53v4.13h-3.53zM141.6 519.2h3.53v4.13h-3.53zM131.0 515.1h3.53v4.13h-3.53zM131.0 482.0h3.53v4.13h-3.53zM131.0 473.7h3.53v4.13h-3.53z" fill="#5f0000"/>
<path d="M222.8 597.8h3.53v4.13h-3.53zM219.3 593.6h3.53v4.13h-3.53zM233.4 593.6h3.53v4.13h-3.53zM222.8 589.5h3.53v4.13h-3.53zM229.9 589.5h3.53v4.13h-3.53zM244.0 589.5h3.53v4.13h-3.53zM198.1 585.4h3.53v4.13h-3.53zM205.2 585.4h3.53v4.13h-3.53zM212.2 585.4h3.53v4.13h-3.53zM233.4 585.4h3.53v4.13h-3.53zM240.5 585.4h3.53v4.13h-3.53zM247.6 585.4h3.53v4.13h-3.53zM201.6 581.2h3.53v4.13h-3.53zM215.8 581.2h3.53v4.13h-3.53zM244.0 581.2h3.53v4.13h-3.53zM198.1 577.1h3.53v4.13h-3.53zM205.2 577.1h3.53v4.13h-3.53zM240.5 577.1h3.53v4.13h-3.53zM201.6 573.0h3.53v4.13h-3.53zM205.2 568.8h3.53v4.13h-3.53zM261.7 568.8h3.53v4.13h-3.53zM201.6 564.7h3.53v4.13h-3.53zM191.0 560.6h3.53v4.13h-3.53zM261.7 560.6h3.53v4.13h-3.53zM272.3 556.4h3.53v4.13h-3.53zM191.0 552.3h3.53v4.13h-3.53zM194.6 548.2h3.53v4.13h-3.53zM279.3 548.2h3.53v4.13h-3.53zM184.0 544.0h3.53v4.13h-3.53zM275.8 544.0h3.53v4.13h-3.53zM152.2 539.9h3.53v4.13h-3.53zM279.3 539.9h3.53v4.13h-3.53zM162.8 535.8h3.53v4.13h-3.53zM289.9 535.8h3.53v4.13h-3.53zM173.4 531.6h3.53v4.13h-3.53zM293.5 531.6h3.53v4.13h-3.53zM141.6 527.5h3.53v4.13h-3.53zM148.7 527.5h3.53v4.13h-3.53zM131.0 523.4h3.53v4.13h-3.53zM152.2 523.4h3.53v4.13h-3.53zM131.0 506.8h3.53v4.13h-3.53zM131.0 490.3h3.53v4.13h-3.53z" fill="#700000"/>
<path d="M226.4 601.9h3.53v4.13h-3.53zM226.4 585.4h3.53v4.13h-3.53zM208.7 581.2h3.53v4.13h-3.53zM237.0 581.2h3.53v4.13h-3.53zM219.3 577.1h3.53v4.13h-3.53zM247.6 577.1h3.53v4.13h-3.53zM251.1 564.7h3.53v4.13h-3.53zM258.1 564.7h3.53v4.13h-3.53zM198.1 560.6h3.53v4.13h-3.53zM254.6 560.6h3.53v4.13h-3.53zM268.7 560.6h3.53v4.13h-3.53zM194.6 556.4h3.53v4.13h-3.53zM265.2 556.4h3.53v4.13h-3.53zM275.8 552.3h3.53v4.13h-3.53zM187.5 548.2h3.53v4.13h-3.53zM169.9 544.0h3.53v4.13h-3.53zM194.6 539.9h3.53v4.13h-3.53zM265.2 539.9h3.53v4.13h-3.53zM169.9 535.8h3.53v4.13h-3.53zM176.9 535.8h3.53v4.13h-3.53zM184.0 535.8h3.53v4.13h-3.53zM152.2 531.6h3.53v4.13h-3.53zM166.3 531.6h3.53v4.13h-3.53zM286.4 531.6h3.53v4.13h-3.53zM155.7 527.5h3.53v4.13h-3.53zM289.9 527.5h3.53v4.13h-3.53zM145.1 523.4h3.53v4.13h-3.53zM134.5 510.9h3.53v4.13h-3.53zM131.0 498.5h3.53v4.13h-3.53zM134.5 494.4h3.53v4.13h-3.53z" fill="#810000"/>
<path d="M229.9 597.8h3.53v4.13h-3.53zM215.8 589.5h3.53v4.13h-3.53zM237.0 589.5h3.53v4.13h-3.53zM219.3 585.4h3.53v4.13h-3.53zM229.9 581.2h3.53v4.13h-3.53zM212.2 577.1h3.53v4.13h-3.53zM244.0 573.0h3.53v4.13h-3.53zM233.4 568.8h3.53v4.13h-3.53zM208.7 564.7h3.53v4.13h-3.53zM205.2 560.6h3.53v4.13h-3.53zM268.7 552.3h3.53v4.13h-3.53zM258.1 548.2h3.53v4.13h-3.53zM272.3 548.2h3.53v4.13h-3.53zM198.1 544.0h3.53v4.13h-3.53zM268.7 544.0h3.53v4.13h-3.53zM187.5 539.9h3.53v4.13h-3.53zM282.9 535.8h3.53v4.13h-3.53zM180.4 531.6h3.53v4.13h-3.53zM187.5 531.6h3.53v4.13h-3.53zM162.8 527.5h3.53v4.13h-3.53zM293.5 523.4h3.53v4.13h-3.53zM155.7 519.2h3.53v4.13h-3.53zM162.8 519.2h3.53v4.13h-3.53zM138.1 515.1h3.53v4.13h-3.53zM145.1 515.1h3.53v4.13h-3.53zM138.1 490.3h3.53v4.13h-3.53zM134.5 477.9h3.53v4.13h-3.53zM134.5 469.6h3.53v4.13h-3.53z" fill="#920000"/>
<path d="M222.8 581.2h3.53v4.13h-3.53zM226.4 577.1h3.53v4.13h-3.53zM233.4 577.1h3.53v4.13h-3.53zM208.7 573.0h3.53v4.13h-3.53zM215.8 573.0h3.53v4.13h-3.53zM222.8 573.0h3.53v4.13h-3.53zM226.4 568.8h3.53v4.13h-3.53zM247.6 568.8h3.53v4.13h-3.53zM215.8 564.7h3.53v4.13h-3.53zM229.9 564.7h3.53v4.13h-3.53zM212.2 560.6h3.53v4.13h-3.53zM247.6 560.6h3.53v4.13h-3.53zM201.6 556.4h3.53v4.13h-3.53zM229.9 556.4h3.53v4.13h-3.53zM258.1 556.4h3.53v4.13h-3.53zM198.1 552.3h3.53v4.13h-3.53zM205.2 552.3h3.53v4.13h-3.53zM254.6 552.3h3.53v4.13h-3.53zM265.2 548.2h3.53v4.13h-3.53zM191.0 544.0h3.53v4.13h-3.53zM205.2 544.0h3.53v4.13h-3.53zM251.1 539.9h3.53v4.13h-3.53zM275.8 535.8h3.53v4.13h-3.53zM194.6 531.6h3.53v4.13h-3.53zM229.9 531.6h3.53v4.13h-3.53zM169.9 527.5h3.53v4.13h-3.53zM159.3 523.4h3.53v4.13h-3.53zM148.7 519.2h3.53v4.13h-3.53zM173.4 515.1h3.53v4.13h-3.53zM141.6 510.9h3.53v4.13h-3.53zM148.7 510.9h3.53v4.13h-3.53zM134.5 502.7h3.53v4.13h-3.53zM141.6 494.4h3.53v4.13h-3.53zM138.1 482.0h3.53v4.13h-3.53zM159.3 473.7h3.53v4.13h-3.53z" fill="#a30000"/>
<path d="M229.9 573.0h3.53v4.13h-3.53zM212.2 568.8h3.53v4.13h-3.53zM219.3 568.8h3.53v4.13h-3.53zM240.5 568.8h3.53v4.13h-3.53zM233.4 560.6h3.53v4.13h-3.53zM251.1 556.4h3.53v4.13h-3.53zM212.2 552.3h3.53v4.13h-3.53zM247.6 552.3h3.53v4.13h-3.53zM261.7 552.3h3.53v4.13h-3.53zM201.6 548.2h3.53v4.13h-3.53zM222.8 548.2h3.53v4.13h-3.53zM244.0 548.2h3.53v4.13h-3.53zM201.6 539.9h3.53v4.13h-3.53zM272.3 531.6h3.53v4.13h-3.53zM279.3 531.6h3.53v4.13h-3.53zM176.9 527.5h3.53v4.13h-3.53zM184.0 527.5h3.53v4.13h-3.53zM173.4 523.4h3.53v4.13h-3.53zM180.4 523.4h3.53v4.13h-3.53zM289.9 519.2h3.53v4.13h-3.53zM159.3 515.1h3.53v4.13h-3.53zM138.1 498.5h3.53v4.13h-3.53zM145.1 490.3h3.53v4.13h-3.53zM141.6 477.9h3.53v4.13h-3.53z" fill="#b40000"/>
<path d="M237.0 573.0h3.53v4.13h-3.53zM237.0 564.7h3.53v4.13h-3.53zM244.0 564.7h3.53v4.13h-3.53zM226.4 560.6h3.53v4.13h-3.53zM208.7 556.4h3.53v4.13h-3.53zM215.8 556.4h3.53v4.13h-3.53zM219.3 552.3h3.53v4.13h-3.53zM229.9 548.2h3.53v4.13h-3.53zM212.2 544.0h3.53v4.13h-3.53zM240.5 544.0h3.53v4.13h-3.53zM254.6 544.0h3.53v4.13h-3.53zM261.7 544.0h3.53v4.13h-3.53zM208.7 539.9h3.53v4.13h-3.53zM258.1 539.9h3.53v4.13h-3.53zM272.3 539.9h3.53v4.13h-3.53zM191.0 535.8h3.53v4.13h-3.53zM261.7 535.8h3.53v4.13h-3.53zM265.2 531.6h3.53v4.13h-3.53zM282.9 527.5h3.53v4.13h-3.53zM286.4 523.4h3.53v4.13h-3.53zM176.9 519.2h3.53v4.13h-3.53zM282.9 519.2h3.53v4.13h-3.53zM138.1 506.8h3.53v4.13h-3.53zM141.6 502.7h3.53v4.13h-3.53zM134.5 486.1h3.53v4.13h-3.53zM148.7 477.9h3.53v4.13h-3.53zM148.7 469.6h3.53v4.13h-3.53z" fill="#c50000"/>
<path d="M222.8 564.7h3.53v4.13h-3.53zM219.3 560.6h3.53v4.13h-3.53zM222.8 556.4h3.53v4.13h-3.53zM244.0 556.4h3.53v4.13h-3.53zM233.4 552.3h3.53v4.13h-3.53zM208.7 548.2h3.53v4.13h-3.53zM219.3 544.0h3.53v4.13h-3.53zM226.4 544.0h3.53v4.13h-3.53zM198.1 535.8h3.53v4.13h-3.53zM205.2 535.8h3.53v4.13h-3.53zM226.4 535.8h3.53v4.13h-3.53zM268.7 535.8h3.53v4.13h-3.53zM201.6 531.6h3.53v4.13h-3.53zM215.8 531.6h3.53v4.13h-3.53zM222.8 531.6h3.53v4.13h-3.53zM258.1 531.6h3.53v4.13h-3.53zM198.1 527.5h3.53v4.13h-3.53zM205.2 527.5h3.53v4.13h-3.53zM261.7 527.5h3.53v4.13h-3.53zM166.3 523.4h3.53v4.13h-3.53zM152.2 515.1h3.53v4.13h-3.53zM145.1 506.8h3.53v4.13h-3.53zM148.7 494.4h3.53v4.13h-3.53zM145.1 482.0h3.53v4.13h-3.53zM159.3 482.0h3.53v4.13h-3.53zM138.1 473.7h3.53v4.13h-3.53zM145.1 473.7h3.53v4.13h-3.53zM152.2 473.7h3.53v4.13h-3.53zM173.4 473.7h3.53v4.13h-3.53zM155.7 469.6h3.53v4.13h-3.53zM169.9 469.6h3.53v4.13h-3.53z" fill="#d60000"/>
<path d="M240.5 560.6h3.53v4.13h-3.53zM237.0 556.4h3.53v4.13h-3.53zM226.4 552.3h3.53v4.13h-3.53zM240.5 552.3h3.53v4.13h-3.53zM215.8 548.2h3.53v4.13h-3.53zM251.1 548.2h3.53v4.13h-3.53zM233.4 544.0h3.53v4.13h-3.53zM247.6 544.0h3.53v4.13h-3.53zM229.9 539.9h3.53v4.13h-3.53zM244.0 539.9h3.53v4.13h-3.53zM219.3 535.8h3.53v4.13h-3.53zM247.6 535.8h3.53v4.13h-3.53zM254.6 535.8h3.53v4.13h-3.53zM208.7 531.6h3.53v4.13h-3.53zM191.0 527.5h3.53v4.13h-3.53zM219.3 527.5h3.53v4.13h-3.53zM268.7 527.5h3.53v4.13h-3.53zM187.5 523.4h3.53v4.13h-3.53zM191.0 519.2h3.53v4.13h-3.53zM275.8 519.2h3.53v4.13h-3.53zM293.5 515.1h3.53v4.13h-3.53zM155.7 510.9h3.53v4.13h-3.53zM152.2 490.3h3.53v4.13h-3.53zM141.6 486.1h3.53v4.13h-3.53zM155.7 477.9h3.53v4.13h-3.53zM198.1 477.9h3.53v4.13h-3.53zM141.6 469.6h3.53v4.13h-3.53zM191.0 469.6h3.53v4.13h-3.53z" fill="#e70000"/>
<path d="M237.0 548.2h3.53v4.13h-3.53zM215.8 539.9h3.53v4.13h-3.53zM237.0 539.9h3.53v4.13h-3.53zM240.5 535.8h3.53v4.13h-3.53zM258.1 523.4h3.53v4.13h-3.53zM272.3 523.4h3.53v4.13h-3.53zM279.3 523.4h3.53v4.13h-3.53zM166.3 515.1h3.53v4.13h-3.53zM265.2 515.1h3.53v4.13h-3.53zM162.8 510.9h3.53v4.13h-3.53zM145.1 498.5h3.53v4.13h-3.53zM152.2 498.5h3.53v4.13h-3.53zM162.8 469.6h3.53v4.13h-3.53z" fill="#f80000"/>
<path d="M222.8 539.9h3.53v4.13h-3.53zM212.2 535.8h3.53v4.13h-3.53zM247.6 527.5h3.53v4.13h-3.53zM275.8 527.5h3.53v4.13h-3.53zM222.8 523.4h3.53v4.13h-3.53zM169.9 519.2h3.53v4.13h-3.53zM286.4 515.1h3.53v4.13h-3.53zM148.7 502.7h3.53v4.13h-3.53zM148.7 486.1h3.53v4.13h-3.53zM166.3 482.0h3.53v4.13h-3.53zM166.3 473.7h3.53v4.13h-3.53zM198.1 469.6h3.53v4.13h-3.53zM233.4 469.6h3.53v4.13h-3.53z" fill="#ff0000"/>
<path d="M237.0 531.6h3.53v4.13h-3.53zM244.0 523.4h3.53v4.13h-3.53zM251.1 523.4h3.53v4.13h-3.53zM169.9 510.9h3.53v4.13h-3.53zM289.9 510.9h3.53v4.13h-3.53zM293.5 506.8h3.53v4.13h-3.53zM293.5 498.5h3.53v4.13h-3.53zM155.7 494.4h3.53v4.13h-3.53zM169.9 486.1h3.53v4.13h-3.53zM152.2 482.0h3.53v4.13h-3.53zM180.4 482.0h3.53v4.13h-3.53zM240.5 477.9h3.53v4.13h-3.53zM201.6 473.7h3.53v4.13h-3.53zM176.9 469.6h3.53v4.13h-3.53zM184.0 469.6h3.53v4.13h-3.53zM212.2 469.6h3.53v4.13h-3.53z" fill="#ff1100"/>
<path d="M233.4 535.8h3.53v4.13h-3.53zM251.1 531.6h3.53v4.13h-3.53zM201.6 523.4h3.53v4.13h-3.53zM208.7 523.4h3.53v4.13h-3.53zM265.2 523.4h3.53v4.13h-3.53zM155.7 486.1h3.53v4.13h-3.53zM173.4 482.0h3.53v4.13h-3.53zM187.5 473.7h3.53v4.13h-3.53z" fill="#ff2100"/>
<path d="M244.0 531.6h3.53v4.13h-3.53zM226.4 527.5h3.53v4.13h-3.53zM254.6 527.5h3.53v4.13h-3.53zM184.0 519.2h3.53v4.13h-3.53zM198.1 519.2h3.53v4.13h-3.53zM212.2 519.2h3.53v4.13h-3.53zM240.5 519.2h3.53v4.13h-3.53zM261.7 519.2h3.53v4.13h-3.53zM180.4 515.1h3.53v4.13h-3.53zM187.5 515.1h3.53v4.13h-3.53zM152.2 506.8h3.53v4.13h-3.53zM162.8 477.9h3.53v4.13h-3.53zM233.4 477.9h3.53v4.13h-3.53zM180.4 473.7h3.53v4.13h-3.53zM215.8 473.7h3.53v4.13h-3.53zM254.6 469.6h3.53v4.13h-3.53z" fill="#ff3300"/>
<path d="M212.2 527.5h3.53v4.13h-3.53zM240.5 527.5h3.53v4.13h-3.53zM215.8 523.4h3.53v4.13h-3.53zM247.6 519.2h3.53v4.13h-3.53zM155.7 502.7h3.53v4.13h-3.53zM159.3 498.5h3.53v4.13h-3.53zM159.3 490.3h3.53v4.13h-3.53zM162.8 486.1h3.53v4.13h-3.53zM169.9 477.9h3.53v4.13h-3.53zM176.9 477.9h3.53v4.13h-3.53zM191.0 477.9h3.53v4.13h-3.53zM226.4 477.9h3.53v4.13h-3.53zM275.8 477.9h3.53v4.13h-3.53zM237.0 473.7h3.53v4.13h-3.53zM205.2 469.6h3.53v4.13h-3.53zM261.7 469.6h3.53v4.13h-3.53z" fill="#ff4300"/>
<path d="M229.9 523.4h3.53v4.13h-3.53zM237.0 523.4h3.53v4.13h-3.53zM205.2 519.2h3.53v4.13h-3.53zM215.8 515.1h3.53v4.13h-3.53zM258.1 515.1h3.53v4.13h-3.53zM272.3 515.1h3.53v4.13h-3.53zM279.3 515.1h3.53v4.13h-3.53zM191.0 486.1h3.53v4.13h-3.53zM208.7 482.0h3.53v4.13h-3.53zM222.8 473.7h3.53v4.13h-3.53zM251.1 473.7h3.53v4.13h-3.53zM219.3 469.6h3.53v4.13h-3.53zM240.5 469.6h3.53v4.13h-3.53z" fill="#ff5500"/>
<path d="M194.6 523.4h3.53v4.13h-3.53zM194.6 515.1h3.53v4.13h-3.53zM222.8 515.1h3.53v4.13h-3.53zM184.0 510.9h3.53v4.13h-3.53zM282.9 510.9h3.53v4.13h-3.53zM289.9 502.7h3.53v4.13h-3.53zM289.9 494.4h3.53v4.13h-3.53zM229.9 482.0h3.53v4.13h-3.53zM265.2 482.0h3.53v4.13h-3.53zM194.6 473.7h3.53v4.13h-3.53z" fill="#ff6600"/>
<path d="M233.4 527.5h3.53v4.13h-3.53zM219.3 519.2h3.53v4.13h-3.53zM268.7 519.2h3.53v4.13h-3.53zM159.3 506.8h3.53v4.13h-3.53zM166.3 490.3h3.53v4.13h-3.53zM293.5 490.3h3.53v4.13h-3.53zM194.6 482.0h3.53v4.13h-3.53zM215.8 482.0h3.53v4.13h-3.53zM247.6 477.9h3.53v4.13h-3.53zM261.7 477.9h3.53v4.13h-3.53zM244.0 473.7h3.53v4.13h-3.53zM268.7 469.6h3.53v4.13h-3.53z" fill="#ff7700"/>
<path d="M286.4 498.5h3.53v4.13h-3.53zM169.9 494.4h3.53v4.13h-3.53zM265.2 490.3h3.53v4.13h-3.53zM272.3 490.3h3.53v4.13h-3.53zM226.4 486.1h3.53v4.13h-3.53zM201.6 482.0h3.53v4.13h-3.53zM184.0 477.9h3.53v4.13h-3.53zM212.2 477.9h3.53v4.13h-3.53zM208.7 473.7h3.53v4.13h-3.53zM229.9 473.7h3.53v4.13h-3.53zM258.1 473.7h3.53v4.13h-3.53zM272.3 473.7h3.53v4.13h-3.53zM247.6 469.6h3.53v4.13h-3.53z" fill="#ff8700"/>
<path d="M233.4 519.2h3.53v4.13h-3.53zM237.0 515.1h3.53v4.13h-3.53zM254.6 510.9h3.53v4.13h-3.53zM282.9 502.7h3.53v4.13h-3.53zM184.0 486.1h3.53v4.13h-3.53zM187.5 482.0h3.53v4.13h-3.53zM222.8 482.0h3.53v4.13h-3.53zM254.6 477.9h3.53v4.13h-3.53zM282.9 469.6h3.53v4.13h-3.53z" fill="#ff9900"/>
<path d="M275.8 510.9h3.53v4.13h-3.53zM187.5 490.3h3.53v4.13h-3.53zM229.9 490.3h3.53v4.13h-3.53zM198.1 486.1h3.53v4.13h-3.53zM219.3 486.1h3.53v4.13h-3.53zM275.8 469.6h3.53v4.13h-3.53z" fill="#ffaa00"/>
<path d="M254.6 519.2h3.53v4.13h-3.53zM208.7 515.1h3.53v4.13h-3.53zM166.3 498.5h3.53v4.13h-3.53zM176.9 494.4h3.53v4.13h-3.53zM244.0 482.0h3.53v4.13h-3.53zM219.3 477.9h3.53v4.13h-3.53zM282.9 477.9h3.53v4.13h-3.53zM226.4 469.6h3.53v4.13h-3.53zM289.9 469.6h3.53v4.13h-3.53z" fill="#ffbb00"/>
<path d="M229.9 515.1h3.53v4.13h-3.53zM176.9 510.9h3.53v4.13h-3.53zM268.7 510.9h3.53v4.13h-3.53zM180.4 506.8h3.53v4.13h-3.53zM268.7 502.7h3.53v4.13h-3.53zM191.0 494.4h3.53v4.13h-3.53zM275.8 494.4h3.53v4.13h-3.53zM268.7 477.9h3.53v4.13h-3.53zM265.2 473.7h3.53v4.13h-3.53z" fill="#ffcc00"/>
<path d="M226.4 519.2h3.53v4.13h-3.53zM191.0 510.9h3.53v4.13h-3.53zM261.7 510.9h3.53v4.13h-3.53zM286.4 506.8h3.53v4.13h-3.53zM184.0 494.4h3.53v4.13h-3.53zM176.9 486.1h3.53v4.13h-3.53zM205.2 486.1h3.53v4.13h-3.53zM240.5 486.1h3.53v4.13h-3.53zM237.0 482.0h3.53v4.13h-3.53zM272.3 482.0h3.53v4.13h-3.53zM205.2 477.9h3.53v4.13h-3.53z" fill="#ffdc00"/>
<path d="M219.3 510.9h3.53v4.13h-3.53zM166.3 506.8h3.53v4.13h-3.53zM279.3 506.8h3.53v4.13h-3.53zM169.9 502.7h3.53v4.13h-3.53zM162.8 494.4h3.53v4.13h-3.53zM201.6 490.3h3.53v4.13h-3.53zM233.4 486.1h3.53v4.13h-3.53zM247.6 486.1h3.53v4.13h-3.53zM251.1 482.0h3.53v4.13h-3.53zM258.1 482.0h3.53v4.13h-3.53zM279.3 473.7h3.53v4.13h-3.53z" fill="#ffed00"/>
<path d="M251.1 515.1h3.53v4.13h-3.53zM240.5 510.9h3.53v4.13h-3.53zM184.0 502.7h3.53v4.13h-3.53zM279.3 498.5h3.53v4.13h-3.53zM282.9 494.4h3.53v4.13h-3.53zM173.4 490.3h3.53v4.13h-3.53zM194.6 490.3h3.53v4.13h-3.53zM251.1 490.3h3.53v4.13h-3.53zM254.6 486.1h3.53v4.13h-3.53z" fill="#ffff00"/>
<path d="M212.2 510.9h3.53v4.13h-3.53zM173.4 506.8h3.53v4.13h-3.53zM272.3 506.8h3.53v4.13h-3.53zM275.8 502.7h3.53v4.13h-3.53zM237.0 490.3h3.53v4.13h-3.53z" fill="#ffff19"/>
<path d="M201.6 515.1h3.53v4.13h-3.53zM187.5 506.8h3.53v4.13h-3.53zM162.8 502.7h3.53v4.13h-3.53zM176.9 502.7h3.53v4.13h-3.53zM205.2 494.4h3.53v4.13h-3.53zM222.8 490.3h3.53v4.13h-3.53zM244.0 490.3h3.53v4.13h-3.53zM261.7 486.1h3.53v4.13h-3.53z" fill="#ffff33"/>
<path d="M244.0 515.1h3.53v4.13h-3.53zM205.2 510.9h3.53v4.13h-3.53zM233.4 510.9h3.53v4.13h-3.53zM261.7 494.4h3.53v4.13h-3.53zM208.7 490.3h3.53v4.13h-3.53zM215.8 490.3h3.53v4.13h-3.53zM279.3 490.3h3.53v4.13h-3.53zM286.4 490.3h3.53v4.13h-3.53zM212.2 486.1h3.53v4.13h-3.53zM279.3 482.0h3.53v4.13h-3.53zM286.4 473.7h3.53v4.13h-3.53z" fill="#ffff4c"/>
<path d="M198.1 510.9h3.53v4.13h-3.53zM173.4 498.5h3.53v4.13h-3.53zM272.3 498.5h3.53v4.13h-3.53zM233.4 494.4h3.53v4.13h-3.53zM180.4 490.3h3.53v4.13h-3.53zM282.9 486.1h3.53v4.13h-3.53z" fill="#ffff65"/>
<path d="M265.2 506.8h3.53v4.13h-3.53zM244.0 498.5h3.53v4.13h-3.53zM254.6 494.4h3.53v4.13h-3.53zM258.1 490.3h3.53v4.13h-3.53zM268.7 486.1h3.53v4.13h-3.53z" fill="#ffff7f"/>
<path d="M268.7 494.4h3.53v4.13h-3.53z" fill="#ffff99"/>
<path d="M229.9 506.8h3.53v4.13h-3.53zM219.3 502.7h3.53v4.13h-3.53zM275.8 486.1h3.53v4.13h-3.53z" fill="#ffffb2"/>
<path d="M198.1 494.4h3.53v4.13h-3.53zM219.3 494.4h3.53v4.13h-3.53zM286.4 482.0h3.53v4.13h-3.53zM289.9 477.9h3.53v4.13h-3.53zM293.5 473.7h3.53v4.13h-3.53z" fill="#ffffcb"/>
<path d="M247.6 510.9h3.53v4.13h-3.53zM215.8 506.8h3.53v4.13h-3.53zM251.1 506.8h3.53v4.13h-3.53z" fill="#ffffe5"/>
<path d="M226.4 510.9h3.53v4.13h-3.53zM194.6 506.8h3.53v4.13h-3.53zM201.6 506.8h3.53v4.13h-3.53zM208.7 506.8h3.53v4.13h-3.53zM222.8 506.8h3.53v4.13h-3.53zM237.0 506.8h3.53v4.13h-3.53zM244.0 506.8h3.53v4.13h-3.53zM258.1 506.8h3.53v4.13h-3.53zM191.0 502.7h3.53v4.13h-3.53zM198.1 502.7h3.53v4.13h-3.53zM205.2 502.7h3.53v4.13h-3.53zM212.2 502.7h3.53v4.13h-3.53zM226.4 502.7h3.53v4.13h-3.53zM233.4 502.7h3.53v4.13h-3.53zM240.5 502.7h3.53v4.13h-3.53zM247.6 502.7h3.53v4.13h-3.53zM254.6 502.7h3.53v4.13h-3.53zM261.7 502.7h3.53v4.13h-3.53zM180.4 498.5h3.53v4.13h-3.53zM187.5 498.5h3.53v4.13h-3.53zM194.6 498.5h3.53v4.13h-3.53zM201.6 498.5h3.53v4.13h-3.53zM208.7 498.5h3.53v4.13h-3.53zM215.8 498.5h3.53v4.13h-3.53zM222.8 498.5h3.53v4.13h-3.53zM229.9 498.5h3.53v4.13h-3.53zM237.0 498.5h3.53v4.13h-3.53zM251.1 498.5h3.53v4.13h-3.53zM258.1 498.5h3.53v4.13h-3.53zM265.2 498.5h3.53v4.13h-3.53zM212.2 494.4h3.53v4.13h-3.53zM226.4 494.4h3.53v4.13h-3.53zM240.5 494.4h3.53v4.13h-3.53zM247.6 494.4h3.53v4.13h-3.53zM289.9 486.1h3.53v4.13h-3.53zM293.5 482.0h3.53v4.13h-3.53z" fill="#ffffff"/>
<line x1="140.75" y1="635.00" x2="140.75" y2="629.00" stroke="#eee" stroke-width="1" />
<line x1="140.75" y1="469.60" x2="140.75" y2="475.60" stroke="#eee" stroke-width="1" />
<text x="137.25" y="651.10" font-size="13.6" text-anchor="middle" fill="#262626" >-20</text>
<line x1="212.00" y1="635.00" x2="212.00" y2="629.00" stroke="#eee" stroke-width="1" />
<line x1="212.00" y1="469.60" x2="212.00" y2="475.60" stroke="#eee" stroke-width="1" />
<text x="212.00" y="651.10" font-size="13.6" text-anchor="middle" fill="#262626" >0</text>
<line x1="283.25" y1="635.00" x2="283.25" y2="629.00" stroke="#eee" stroke-width="1" />
<line x1="283.25" y1="469.60" x2="283.25" y2="475.60" stroke="#eee" stroke-width="1" />
<text x="282.25" y="651.10" font-size="13.6" text-anchor="middle" fill="#262626" >20</text>
<line x1="131.00" y1="597.78" x2="137.00" y2="597.78" stroke="#eee" stroke-width="1" />
<line x1="297.00" y1="597.78" x2="291.00" y2="597.78" stroke="#eee" stroke-width="1" />
<line x1="131.00" y1="556.44" x2="137.00" y2="556.44" stroke="#eee" stroke-width="1" />
<line x1="297.00" y1="556.44" x2="291.00" y2="556.44" stroke="#eee" stroke-width="1" />
<line x1="131.00" y1="515.09" x2="137.00" y2="515.09" stroke="#eee" stroke-width="1" />
<line x1="297.00" y1="515.09" x2="291.00" y2="515.09" stroke="#eee" stroke-width="1" />
<line x1="131.00" y1="473.74" x2="137.00" y2="473.74" stroke="#eee" stroke-width="1" />
<line x1="297.00" y1="473.74" x2="291.00" y2="473.74" stroke="#eee" stroke-width="1" />
<text x="261.60" y="620.60" font-size="13.0" text-anchor="start" fill="#fff" >Exp.</text>
<rect x="322.10" y="469.60" width="166.20" height="165.40" fill="#0d0000"/>
<path d="M407.0 630.9h3.54v4.13h-3.54zM414.0 630.9h3.54v4.13h-3.54zM417.6 626.7h3.54v4.13h-3.54zM399.9 622.6h3.54v4.13h-3.54zM421.1 622.6h3.54v4.13h-3.54zM396.4 618.5h3.54v4.13h-3.54zM424.6 618.5h3.54v4.13h-3.54zM392.8 614.3h3.54v4.13h-3.54zM428.2 614.3h3.54v4.13h-3.54zM389.3 610.2h3.54v4.13h-3.54zM431.7 610.2h3.54v4.13h-3.54zM385.8 606.1h3.54v4.13h-3.54zM435.3 606.1h3.54v4.13h-3.54zM382.2 601.9h3.54v4.13h-3.54zM438.8 601.9h3.54v4.13h-3.54zM378.7 597.8h3.54v4.13h-3.54zM442.3 597.8h3.54v4.13h-3.54zM368.1 593.6h3.54v4.13h-3.54zM375.1 593.6h3.54v4.13h-3.54zM445.9 593.6h3.54v4.13h-3.54zM371.6 589.5h3.54v4.13h-3.54zM449.4 589.5h3.54v4.13h-3.54zM368.1 585.4h3.54v4.13h-3.54zM452.9 585.4h3.54v4.13h-3.54zM357.5 581.2h3.54v4.13h-3.54zM364.5 581.2h3.54v4.13h-3.54zM456.5 581.2h3.54v4.13h-3.54zM361.0 577.1h3.54v4.13h-3.54zM460.0 577.1h3.54v4.13h-3.54zM350.4 573.0h3.54v4.13h-3.54zM463.5 573.0h3.54v4.13h-3.54zM467.1 568.8h3.54v4.13h-3.54zM343.3 564.7h3.54v4.13h-3.54zM470.6 564.7h3.54v4.13h-3.54zM339.8 560.6h3.54v4.13h-3.54zM474.2 560.6h3.54v4.13h-3.54zM477.7 556.4h3.54v4.13h-3.54zM332.7 552.3h3.54v4.13h-3.54zM322.1 531.6h3.54v4.13h-3.54z" fill="#2c0000"/>
<path d="M403.4 626.7h3.54v4.13h-3.54zM410.5 626.7h3.54v4.13h-3.54zM407.0 622.6h3.54v4.13h-3.54zM414.0 622.6h3.54v4.13h-3.54zM403.4 618.5h3.54v4.13h-3.54zM417.6 618.5h3.54v4.13h-3.54zM399.9 614.3h3.54v4.13h-3.54zM396.4 610.2h3.54v4.13h-3.54zM392.8 606.1h3.54v4.13h-3.54zM389.3 601.9h3.54v4.13h-3.54zM431.7 601.9h3.54v4.13h-3.54zM385.8 597.8h3.54v4.13h-3.54zM382.2 593.6h3.54v4.13h-3.54zM378.7 589.5h3.54v4.13h-3.54zM375.1 585.4h3.54v4.13h-3.54zM382.2 585.4h3.54v4.13h-3.54zM371.6 581.2h3.54v4.13h-3.54zM368.1 577.1h3.54v4.13h-3.54zM375.1 577.1h3.54v4.13h-3.54zM452.9 577.1h3.54v4.13h-3.54zM357.5 573.0h3.54v4.13h-3.54zM364.5 573.0h3.54v4.13h-3.54zM371.6 573.0h3.54v4.13h-3.54zM353.9 568.8h3.54v4.13h-3.54zM350.4 564.7h3.54v4.13h-3.54zM357.5 564.7h3.54v4.13h-3.54zM346.9 560.6h3.54v4.13h-3.54zM353.9 560.6h3.54v4.13h-3.54zM343.3 556.4h3.54v4.13h-3.54zM350.4 556.4h3.54v4.13h-3.54zM339.8 552.3h3.54v4.13h-3.54zM474.2 552.3h3.54v4.13h-3.54zM336.2 548.2h3.54v4.13h-3.54zM332.7 544.0h3.54v4.13h-3.54zM329.2 539.9h3.54v4.13h-3.54zM484.8 539.9h3.54v4.13h-3.54zM325.6 535.8h3.54v4.13h-3.54z" fill="#3d0000"/>
<path d="M410.5 618.5h3.54v4.13h-3.54zM407.0 614.3h3.54v4.13h-3.54zM414.0 614.3h3.54v4.13h-3.54zM421.1 614.3h3.54v4.13h-3.54zM403.4 610.2h3.54v4.13h-3.54zM424.6 610.2h3.54v4.13h-3.54zM399.9 606.1h3.54v4.13h-3.54zM428.2 606.1h3.54v4.13h-3.54zM396.4 601.9h3.54v4.13h-3.54zM392.8 597.8h3.54v4.13h-3.54zM435.3 597.8h3.54v4.13h-3.54zM389.3 593.6h3.54v4.13h-3.54zM396.4 593.6h3.54v4.13h-3.54zM438.8 593.6h3.54v4.13h-3.54zM385.8 589.5h3.54v4.13h-3.54zM392.8 589.5h3.54v4.13h-3.54zM442.3 589.5h3.54v4.13h-3.54zM389.3 585.4h3.54v4.13h-3.54zM445.9 585.4h3.54v4.13h-3.54zM378.7 581.2h3.54v4.13h-3.54zM385.8 581.2h3.54v4.13h-3.54zM449.4 581.2h3.54v4.13h-3.54zM382.2 577.1h3.54v4.13h-3.54zM378.7 573.0h3.54v4.13h-3.54zM456.5 573.0h3.54v4.13h-3.54zM361.0 568.8h3.54v4.13h-3.54zM368.1 568.8h3.54v4.13h-3.54zM375.1 568.8h3.54v4.13h-3.54zM460.0 568.8h3.54v4.13h-3.54zM364.5 564.7h3.54v4.13h-3.54zM371.6 564.7h3.54v4.13h-3.54zM463.5 564.7h3.54v4.13h-3.54zM361.0 560.6h3.54v4.13h-3.54zM368.1 560.6h3.54v4.13h-3.54zM467.1 560.6h3.54v4.13h-3.54zM357.5 556.4h3.54v4.13h-3.54zM364.5 556.4h3.54v4.13h-3.54zM470.6 556.4h3.54v4.13h-3.54zM346.9 552.3h3.54v4.13h-3.54zM353.9 552.3h3.54v4.13h-3.54zM361.0 552.3h3.54v4.13h-3.54zM368.1 552.3h3.54v4.13h-3.54zM343.3 548.2h3.54v4.13h-3.54zM350.4 548.2h3.54v4.13h-3.54zM357.5 548.2h3.54v4.13h-3.54zM477.7 548.2h3.54v4.13h-3.54zM339.8 544.0h3.54v4.13h-3.54zM346.9 544.0h3.54v4.13h-3.54zM481.2 544.0h3.54v4.13h-3.54zM336.2 539.9h3.54v4.13h-3.54zM343.3 539.9h3.54v4.13h-3.54zM332.7 535.8h3.54v4.13h-3.54zM329.2 531.6h3.54v4.13h-3.54zM322.1 523.4h3.54v4.13h-3.54z" fill="#4e0000"/>
<path d="M410.5 610.2h3.54v4.13h-3.54zM417.6 610.2h3.54v4.13h-3.54zM407.0 606.1h3.54v4.13h-3.54zM414.0 606.1h3.54v4.13h-3.54zM421.1 606.1h3.54v4.13h-3.54zM403.4 601.9h3.54v4.13h-3.54zM424.6 601.9h3.54v4.13h-3.54zM399.9 597.8h3.54v4.13h-3.54zM428.2 597.8h3.54v4.13h-3.54zM435.3 589.5h3.54v4.13h-3.54zM438.8 585.4h3.54v4.13h-3.54zM442.3 581.2h3.54v4.13h-3.54zM389.3 577.1h3.54v4.13h-3.54zM385.8 573.0h3.54v4.13h-3.54zM449.4 573.0h3.54v4.13h-3.54zM382.2 568.8h3.54v4.13h-3.54zM452.9 568.8h3.54v4.13h-3.54zM378.7 564.7h3.54v4.13h-3.54zM385.8 564.7h3.54v4.13h-3.54zM456.5 564.7h3.54v4.13h-3.54zM375.1 560.6h3.54v4.13h-3.54zM371.6 556.4h3.54v4.13h-3.54zM375.1 552.3h3.54v4.13h-3.54zM364.5 548.2h3.54v4.13h-3.54zM371.6 548.2h3.54v4.13h-3.54zM470.6 548.2h3.54v4.13h-3.54zM353.9 544.0h3.54v4.13h-3.54zM474.2 544.0h3.54v4.13h-3.54zM350.4 539.9h3.54v4.13h-3.54zM357.5 539.9h3.54v4.13h-3.54zM339.8 535.8h3.54v4.13h-3.54zM346.9 535.8h3.54v4.13h-3.54zM353.9 535.8h3.54v4.13h-3.54zM336.2 531.6h3.54v4.13h-3.54zM325.6 527.5h3.54v4.13h-3.54zM332.7 527.5h3.54v4.13h-3.54zM329.2 523.4h3.54v4.13h-3.54zM325.6 519.2h3.54v4.13h-3.54zM322.1 515.1h3.54v4.13h-3.54zM322.1 482.0h3.54v4.13h-3.54zM322.1 473.7h3.54v4.13h-3.54z" fill="#5f0000"/>
<path d="M410.5 601.9h3.54v4.13h-3.54zM417.6 601.9h3.54v4.13h-3.54zM407.0 597.8h3.54v4.13h-3.54zM421.1 597.8h3.54v4.13h-3.54zM403.4 593.6h3.54v4.13h-3.54zM424.6 593.6h3.54v4.13h-3.54zM431.7 593.6h3.54v4.13h-3.54zM399.9 589.5h3.54v4.13h-3.54zM428.2 589.5h3.54v4.13h-3.54zM396.4 585.4h3.54v4.13h-3.54zM403.4 585.4h3.54v4.13h-3.54zM431.7 585.4h3.54v4.13h-3.54zM392.8 581.2h3.54v4.13h-3.54zM396.4 577.1h3.54v4.13h-3.54zM438.8 577.1h3.54v4.13h-3.54zM445.9 577.1h3.54v4.13h-3.54zM392.8 573.0h3.54v4.13h-3.54zM389.3 568.8h3.54v4.13h-3.54zM445.9 568.8h3.54v4.13h-3.54zM382.2 560.6h3.54v4.13h-3.54zM389.3 560.6h3.54v4.13h-3.54zM460.0 560.6h3.54v4.13h-3.54zM378.7 556.4h3.54v4.13h-3.54zM456.5 556.4h3.54v4.13h-3.54zM463.5 556.4h3.54v4.13h-3.54zM467.1 552.3h3.54v4.13h-3.54zM361.0 544.0h3.54v4.13h-3.54zM368.1 544.0h3.54v4.13h-3.54zM375.1 544.0h3.54v4.13h-3.54zM364.5 539.9h3.54v4.13h-3.54zM477.7 539.9h3.54v4.13h-3.54zM361.0 535.8h3.54v4.13h-3.54zM481.2 535.8h3.54v4.13h-3.54zM343.3 531.6h3.54v4.13h-3.54zM350.4 531.6h3.54v4.13h-3.54zM484.8 531.6h3.54v4.13h-3.54zM339.8 527.5h3.54v4.13h-3.54zM336.2 523.4h3.54v4.13h-3.54zM343.3 523.4h3.54v4.13h-3.54zM332.7 519.2h3.54v4.13h-3.54zM329.2 515.1h3.54v4.13h-3.54zM322.1 490.3h3.54v4.13h-3.54z" fill="#700000"/>
<path d="M414.0 597.8h3.54v4.13h-3.54zM410.5 593.6h3.54v4.13h-3.54zM417.6 593.6h3.54v4.13h-3.54zM407.0 589.5h3.54v4.13h-3.54zM414.0 589.5h3.54v4.13h-3.54zM421.1 589.5h3.54v4.13h-3.54zM399.9 581.2h3.54v4.13h-3.54zM421.1 581.2h3.54v4.13h-3.54zM435.3 581.2h3.54v4.13h-3.54zM442.3 573.0h3.54v4.13h-3.54zM392.8 564.7h3.54v4.13h-3.54zM442.3 564.7h3.54v4.13h-3.54zM449.4 564.7h3.54v4.13h-3.54zM452.9 560.6h3.54v4.13h-3.54zM385.8 556.4h3.54v4.13h-3.54zM382.2 552.3h3.54v4.13h-3.54zM460.0 552.3h3.54v4.13h-3.54zM378.7 548.2h3.54v4.13h-3.54zM463.5 548.2h3.54v4.13h-3.54zM371.6 539.9h3.54v4.13h-3.54zM470.6 539.9h3.54v4.13h-3.54zM368.1 535.8h3.54v4.13h-3.54zM474.2 535.8h3.54v4.13h-3.54zM357.5 531.6h3.54v4.13h-3.54zM364.5 531.6h3.54v4.13h-3.54zM346.9 527.5h3.54v4.13h-3.54zM353.9 527.5h3.54v4.13h-3.54zM339.8 519.2h3.54v4.13h-3.54zM336.2 515.1h3.54v4.13h-3.54zM325.6 510.9h3.54v4.13h-3.54zM322.1 506.8h3.54v4.13h-3.54zM329.2 506.8h3.54v4.13h-3.54zM322.1 498.5h3.54v4.13h-3.54zM325.6 494.4h3.54v4.13h-3.54z" fill="#810000"/>
<path d="M410.5 585.4h3.54v4.13h-3.54zM417.6 585.4h3.54v4.13h-3.54zM424.6 585.4h3.54v4.13h-3.54zM407.0 581.2h3.54v4.13h-3.54zM414.0 581.2h3.54v4.13h-3.54zM428.2 581.2h3.54v4.13h-3.54zM403.4 577.1h3.54v4.13h-3.54zM424.6 577.1h3.54v4.13h-3.54zM431.7 577.1h3.54v4.13h-3.54zM399.9 573.0h3.54v4.13h-3.54zM407.0 573.0h3.54v4.13h-3.54zM428.2 573.0h3.54v4.13h-3.54zM435.3 573.0h3.54v4.13h-3.54zM396.4 568.8h3.54v4.13h-3.54zM403.4 568.8h3.54v4.13h-3.54zM438.8 568.8h3.54v4.13h-3.54zM399.9 564.7h3.54v4.13h-3.54zM396.4 560.6h3.54v4.13h-3.54zM445.9 560.6h3.54v4.13h-3.54zM392.8 556.4h3.54v4.13h-3.54zM449.4 556.4h3.54v4.13h-3.54zM389.3 552.3h3.54v4.13h-3.54zM452.9 552.3h3.54v4.13h-3.54zM385.8 548.2h3.54v4.13h-3.54zM392.8 548.2h3.54v4.13h-3.54zM456.5 548.2h3.54v4.13h-3.54zM382.2 544.0h3.54v4.13h-3.54zM467.1 544.0h3.54v4.13h-3.54zM378.7 539.9h3.54v4.13h-3.54zM385.8 539.9h3.54v4.13h-3.54zM463.5 539.9h3.54v4.13h-3.54zM375.1 535.8h3.54v4.13h-3.54zM477.7 531.6h3.54v4.13h-3.54zM361.0 527.5h3.54v4.13h-3.54zM350.4 523.4h3.54v4.13h-3.54zM357.5 523.4h3.54v4.13h-3.54zM484.8 523.4h3.54v4.13h-3.54zM346.9 519.2h3.54v4.13h-3.54zM332.7 510.9h3.54v4.13h-3.54zM325.6 502.7h3.54v4.13h-3.54zM325.6 486.1h3.54v4.13h-3.54zM325.6 477.9h3.54v4.13h-3.54zM325.6 469.6h3.54v4.13h-3.54z" fill="#920000"/>
<path d="M410.5 577.1h3.54v4.13h-3.54zM417.6 577.1h3.54v4.13h-3.54zM421.1 573.0h3.54v4.13h-3.54zM410.5 568.8h3.54v4.13h-3.54zM431.7 568.8h3.54v4.13h-3.54zM407.0 564.7h3.54v4.13h-3.54zM414.0 564.7h3.54v4.13h-3.54zM403.4 560.6h3.54v4.13h-3.54zM438.8 560.6h3.54v4.13h-3.54zM399.9 556.4h3.54v4.13h-3.54zM442.3 556.4h3.54v4.13h-3.54zM396.4 552.3h3.54v4.13h-3.54zM445.9 552.3h3.54v4.13h-3.54zM389.3 544.0h3.54v4.13h-3.54zM396.4 544.0h3.54v4.13h-3.54zM452.9 544.0h3.54v4.13h-3.54zM460.0 544.0h3.54v4.13h-3.54zM456.5 539.9h3.54v4.13h-3.54zM382.2 535.8h3.54v4.13h-3.54zM467.1 535.8h3.54v4.13h-3.54zM371.6 531.6h3.54v4.13h-3.54zM378.7 531.6h3.54v4.13h-3.54zM470.6 531.6h3.54v4.13h-3.54zM368.1 527.5h3.54v4.13h-3.54zM481.2 527.5h3.54v4.13h-3.54zM343.3 515.1h3.54v4.13h-3.54zM329.2 498.5h3.54v4.13h-3.54zM329.2 490.3h3.54v4.13h-3.54z" fill="#a30000"/>
<path d="M414.0 573.0h3.54v4.13h-3.54zM417.6 568.8h3.54v4.13h-3.54zM424.6 568.8h3.54v4.13h-3.54zM421.1 564.7h3.54v4.13h-3.54zM428.2 564.7h3.54v4.13h-3.54zM435.3 564.7h3.54v4.13h-3.54zM431.7 560.6h3.54v4.13h-3.54zM407.0 556.4h3.54v4.13h-3.54zM403.4 552.3h3.54v4.13h-3.54zM417.6 552.3h3.54v4.13h-3.54zM431.7 552.3h3.54v4.13h-3.54zM438.8 552.3h3.54v4.13h-3.54zM399.9 548.2h3.54v4.13h-3.54zM407.0 548.2h3.54v4.13h-3.54zM449.4 548.2h3.54v4.13h-3.54zM392.8 539.9h3.54v4.13h-3.54zM389.3 535.8h3.54v4.13h-3.54zM460.0 535.8h3.54v4.13h-3.54zM463.5 531.6h3.54v4.13h-3.54zM375.1 527.5h3.54v4.13h-3.54zM474.2 527.5h3.54v4.13h-3.54zM477.7 523.4h3.54v4.13h-3.54zM353.9 519.2h3.54v4.13h-3.54zM332.7 494.4h3.54v4.13h-3.54z" fill="#b40000"/>
<path d="M410.5 560.6h3.54v4.13h-3.54zM417.6 560.6h3.54v4.13h-3.54zM424.6 560.6h3.54v4.13h-3.54zM421.1 556.4h3.54v4.13h-3.54zM428.2 556.4h3.54v4.13h-3.54zM435.3 556.4h3.54v4.13h-3.54zM410.5 552.3h3.54v4.13h-3.54zM414.0 548.2h3.54v4.13h-3.54zM421.1 548.2h3.54v4.13h-3.54zM442.3 548.2h3.54v4.13h-3.54zM424.6 544.0h3.54v4.13h-3.54zM399.9 539.9h3.54v4.13h-3.54zM449.4 539.9h3.54v4.13h-3.54zM452.9 535.8h3.54v4.13h-3.54zM385.8 531.6h3.54v4.13h-3.54zM456.5 531.6h3.54v4.13h-3.54zM467.1 527.5h3.54v4.13h-3.54zM364.5 523.4h3.54v4.13h-3.54zM371.6 523.4h3.54v4.13h-3.54zM361.0 519.2h3.54v4.13h-3.54zM481.2 519.2h3.54v4.13h-3.54zM350.4 515.1h3.54v4.13h-3.54zM339.8 510.9h3.54v4.13h-3.54zM336.2 506.8h3.54v4.13h-3.54zM332.7 502.7h3.54v4.13h-3.54zM336.2 490.3h3.54v4.13h-3.54zM332.7 486.1h3.54v4.13h-3.54zM329.2 482.0h3.54v4.13h-3.54zM336.2 482.0h3.54v4.13h-3.54zM329.2 473.7h3.54v4.13h-3.54zM332.7 469.6h3.54v4.13h-3.54zM339.8 469.6h3.54v4.13h-3.54z" fill="#c50000"/>
<path d="M414.0 556.4h3.54v4.13h-3.54zM424.6 552.3h3.54v4.13h-3.54zM428.2 548.2h3.54v4.13h-3.54zM435.3 548.2h3.54v4.13h-3.54zM403.4 544.0h3.54v4.13h-3.54zM410.5 544.0h3.54v4.13h-3.54zM417.6 544.0h3.54v4.13h-3.54zM438.8 544.0h3.54v4.13h-3.54zM445.9 544.0h3.54v4.13h-3.54zM407.0 539.9h3.54v4.13h-3.54zM396.4 535.8h3.54v4.13h-3.54zM403.4 535.8h3.54v4.13h-3.54zM392.8 531.6h3.54v4.13h-3.54zM382.2 527.5h3.54v4.13h-3.54zM389.3 527.5h3.54v4.13h-3.54zM460.0 527.5h3.54v4.13h-3.54zM470.6 523.4h3.54v4.13h-3.54zM346.9 510.9h3.54v4.13h-3.54zM336.2 498.5h3.54v4.13h-3.54zM332.7 477.9h3.54v4.13h-3.54zM339.8 477.9h3.54v4.13h-3.54zM336.2 473.7h3.54v4.13h-3.54zM343.3 473.7h3.54v4.13h-3.54z" fill="#d60000"/>
<path d="M431.7 544.0h3.54v4.13h-3.54zM414.0 539.9h3.54v4.13h-3.54zM428.2 539.9h3.54v4.13h-3.54zM435.3 539.9h3.54v4.13h-3.54zM442.3 539.9h3.54v4.13h-3.54zM410.5 535.8h3.54v4.13h-3.54zM417.6 535.8h3.54v4.13h-3.54zM445.9 535.8h3.54v4.13h-3.54zM399.9 531.6h3.54v4.13h-3.54zM396.4 527.5h3.54v4.13h-3.54zM452.9 527.5h3.54v4.13h-3.54zM378.7 523.4h3.54v4.13h-3.54zM463.5 523.4h3.54v4.13h-3.54zM368.1 519.2h3.54v4.13h-3.54zM357.5 515.1h3.54v4.13h-3.54zM484.8 515.1h3.54v4.13h-3.54zM343.3 506.8h3.54v4.13h-3.54zM339.8 502.7h3.54v4.13h-3.54zM339.8 494.4h3.54v4.13h-3.54zM346.9 477.9h3.54v4.13h-3.54zM346.9 469.6h3.54v4.13h-3.54zM353.9 469.6h3.54v4.13h-3.54zM361.0 469.6h3.54v4.13h-3.54z" fill="#e70000"/>
<path d="M431.7 535.8h3.54v4.13h-3.54zM438.8 535.8h3.54v4.13h-3.54zM407.0 531.6h3.54v4.13h-3.54zM435.3 531.6h3.54v4.13h-3.54zM449.4 531.6h3.54v4.13h-3.54zM474.2 519.2h3.54v4.13h-3.54zM477.7 515.1h3.54v4.13h-3.54zM343.3 490.3h3.54v4.13h-3.54zM350.4 482.0h3.54v4.13h-3.54zM353.9 477.9h3.54v4.13h-3.54zM350.4 473.7h3.54v4.13h-3.54zM357.5 473.7h3.54v4.13h-3.54z" fill="#f80000"/>
<path d="M421.1 539.9h3.54v4.13h-3.54zM424.6 535.8h3.54v4.13h-3.54zM414.0 531.6h3.54v4.13h-3.54zM428.2 531.6h3.54v4.13h-3.54zM442.3 531.6h3.54v4.13h-3.54zM403.4 527.5h3.54v4.13h-3.54zM385.8 523.4h3.54v4.13h-3.54zM375.1 519.2h3.54v4.13h-3.54zM467.1 519.2h3.54v4.13h-3.54zM339.8 486.1h3.54v4.13h-3.54zM343.3 482.0h3.54v4.13h-3.54zM364.5 473.7h3.54v4.13h-3.54zM368.1 469.6h3.54v4.13h-3.54zM382.2 469.6h3.54v4.13h-3.54z" fill="#ff0000"/>
<path d="M421.1 531.6h3.54v4.13h-3.54zM410.5 527.5h3.54v4.13h-3.54zM438.8 527.5h3.54v4.13h-3.54zM445.9 527.5h3.54v4.13h-3.54zM392.8 523.4h3.54v4.13h-3.54zM399.9 523.4h3.54v4.13h-3.54zM456.5 523.4h3.54v4.13h-3.54zM470.6 515.1h3.54v4.13h-3.54zM353.9 510.9h3.54v4.13h-3.54zM481.2 510.9h3.54v4.13h-3.54zM484.8 506.8h3.54v4.13h-3.54zM343.3 498.5h3.54v4.13h-3.54zM346.9 494.4h3.54v4.13h-3.54zM346.9 486.1h3.54v4.13h-3.54zM361.0 477.9h3.54v4.13h-3.54zM368.1 477.9h3.54v4.13h-3.54zM375.1 477.9h3.54v4.13h-3.54zM375.1 469.6h3.54v4.13h-3.54z" fill="#ff1100"/>
<path d="M417.6 527.5h3.54v4.13h-3.54zM431.7 527.5h3.54v4.13h-3.54zM382.2 519.2h3.54v4.13h-3.54zM389.3 519.2h3.54v4.13h-3.54zM364.5 515.1h3.54v4.13h-3.54zM371.6 473.7h3.54v4.13h-3.54zM378.7 473.7h3.54v4.13h-3.54zM385.8 473.7h3.54v4.13h-3.54z" fill="#ff2100"/>
<path d="M407.0 523.4h3.54v4.13h-3.54zM428.2 523.4h3.54v4.13h-3.54zM460.0 519.2h3.54v4.13h-3.54zM371.6 515.1h3.54v4.13h-3.54zM350.4 506.8h3.54v4.13h-3.54zM350.4 490.3h3.54v4.13h-3.54zM361.0 486.1h3.54v4.13h-3.54zM357.5 482.0h3.54v4.13h-3.54zM364.5 482.0h3.54v4.13h-3.54zM389.3 469.6h3.54v4.13h-3.54zM396.4 469.6h3.54v4.13h-3.54zM403.4 469.6h3.54v4.13h-3.54z" fill="#ff3300"/>
<path d="M442.3 523.4h3.54v4.13h-3.54zM449.4 523.4h3.54v4.13h-3.54zM396.4 519.2h3.54v4.13h-3.54zM445.9 519.2h3.54v4.13h-3.54zM452.9 519.2h3.54v4.13h-3.54zM463.5 515.1h3.54v4.13h-3.54zM484.8 498.5h3.54v4.13h-3.54zM481.2 494.4h3.54v4.13h-3.54zM353.9 486.1h3.54v4.13h-3.54zM382.2 477.9h3.54v4.13h-3.54zM389.3 477.9h3.54v4.13h-3.54zM396.4 477.9h3.54v4.13h-3.54zM392.8 473.7h3.54v4.13h-3.54zM407.0 473.7h3.54v4.13h-3.54zM414.0 473.7h3.54v4.13h-3.54zM410.5 469.6h3.54v4.13h-3.54z" fill="#ff4300"/>
<path d="M424.6 527.5h3.54v4.13h-3.54zM414.0 523.4h3.54v4.13h-3.54zM421.1 523.4h3.54v4.13h-3.54zM410.5 519.2h3.54v4.13h-3.54zM431.7 519.2h3.54v4.13h-3.54zM378.7 515.1h3.54v4.13h-3.54zM456.5 515.1h3.54v4.13h-3.54zM361.0 510.9h3.54v4.13h-3.54zM474.2 510.9h3.54v4.13h-3.54zM346.9 502.7h3.54v4.13h-3.54zM357.5 490.3h3.54v4.13h-3.54zM371.6 482.0h3.54v4.13h-3.54zM399.9 473.7h3.54v4.13h-3.54zM421.1 473.7h3.54v4.13h-3.54zM435.3 473.7h3.54v4.13h-3.54zM417.6 469.6h3.54v4.13h-3.54z" fill="#ff5500"/>
<path d="M435.3 523.4h3.54v4.13h-3.54zM403.4 519.2h3.54v4.13h-3.54zM350.4 498.5h3.54v4.13h-3.54zM353.9 494.4h3.54v4.13h-3.54zM368.1 486.1h3.54v4.13h-3.54zM403.4 477.9h3.54v4.13h-3.54zM417.6 477.9h3.54v4.13h-3.54zM445.9 477.9h3.54v4.13h-3.54zM424.6 469.6h3.54v4.13h-3.54zM431.7 469.6h3.54v4.13h-3.54zM438.8 469.6h3.54v4.13h-3.54z" fill="#ff6600"/>
<path d="M385.8 515.1h3.54v4.13h-3.54zM477.7 506.8h3.54v4.13h-3.54zM481.2 502.7h3.54v4.13h-3.54zM399.9 482.0h3.54v4.13h-3.54zM407.0 482.0h3.54v4.13h-3.54zM410.5 477.9h3.54v4.13h-3.54zM431.7 477.9h3.54v4.13h-3.54zM442.3 473.7h3.54v4.13h-3.54zM449.4 473.7h3.54v4.13h-3.54zM467.1 469.6h3.54v4.13h-3.54z" fill="#ff7700"/>
<path d="M424.6 519.2h3.54v4.13h-3.54zM438.8 519.2h3.54v4.13h-3.54zM467.1 510.9h3.54v4.13h-3.54zM474.2 494.4h3.54v4.13h-3.54zM375.1 486.1h3.54v4.13h-3.54zM389.3 486.1h3.54v4.13h-3.54zM378.7 482.0h3.54v4.13h-3.54zM385.8 482.0h3.54v4.13h-3.54zM392.8 482.0h3.54v4.13h-3.54zM414.0 482.0h3.54v4.13h-3.54zM428.2 473.7h3.54v4.13h-3.54zM445.9 469.6h3.54v4.13h-3.54zM452.9 469.6h3.54v4.13h-3.54z" fill="#ff8700"/>
<path d="M417.6 519.2h3.54v4.13h-3.54zM449.4 515.1h3.54v4.13h-3.54zM484.8 490.3h3.54v4.13h-3.54zM382.2 486.1h3.54v4.13h-3.54zM421.1 482.0h3.54v4.13h-3.54zM424.6 477.9h3.54v4.13h-3.54zM456.5 473.7h3.54v4.13h-3.54zM460.0 469.6h3.54v4.13h-3.54zM474.2 469.6h3.54v4.13h-3.54z" fill="#ff9900"/>
<path d="M392.8 515.1h3.54v4.13h-3.54zM399.9 515.1h3.54v4.13h-3.54zM460.0 510.9h3.54v4.13h-3.54zM357.5 506.8h3.54v4.13h-3.54zM477.7 498.5h3.54v4.13h-3.54zM361.0 494.4h3.54v4.13h-3.54zM364.5 490.3h3.54v4.13h-3.54zM410.5 486.1h3.54v4.13h-3.54zM428.2 482.0h3.54v4.13h-3.54zM449.4 482.0h3.54v4.13h-3.54zM456.5 482.0h3.54v4.13h-3.54zM438.8 477.9h3.54v4.13h-3.54zM452.9 477.9h3.54v4.13h-3.54zM460.0 477.9h3.54v4.13h-3.54zM463.5 473.7h3.54v4.13h-3.54zM470.6 473.7h3.54v4.13h-3.54z" fill="#ffaa00"/>
<path d="M368.1 510.9h3.54v4.13h-3.54zM382.2 510.9h3.54v4.13h-3.54zM353.9 502.7h3.54v4.13h-3.54zM371.6 490.3h3.54v4.13h-3.54zM396.4 486.1h3.54v4.13h-3.54zM403.4 486.1h3.54v4.13h-3.54zM424.6 486.1h3.54v4.13h-3.54zM442.3 482.0h3.54v4.13h-3.54zM467.1 477.9h3.54v4.13h-3.54z" fill="#ffbb00"/>
<path d="M407.0 515.1h3.54v4.13h-3.54zM428.2 515.1h3.54v4.13h-3.54zM357.5 498.5h3.54v4.13h-3.54zM417.6 486.1h3.54v4.13h-3.54zM477.7 473.7h3.54v4.13h-3.54z" fill="#ffcc00"/>
<path d="M435.3 515.1h3.54v4.13h-3.54zM442.3 515.1h3.54v4.13h-3.54zM375.1 510.9h3.54v4.13h-3.54zM474.2 502.7h3.54v4.13h-3.54zM470.6 498.5h3.54v4.13h-3.54zM378.7 490.3h3.54v4.13h-3.54zM431.7 486.1h3.54v4.13h-3.54zM445.9 486.1h3.54v4.13h-3.54zM463.5 482.0h3.54v4.13h-3.54zM481.2 469.6h3.54v4.13h-3.54z" fill="#ffdc00"/>
<path d="M414.0 515.1h3.54v4.13h-3.54zM421.1 515.1h3.54v4.13h-3.54zM364.5 506.8h3.54v4.13h-3.54zM470.6 506.8h3.54v4.13h-3.54zM368.1 494.4h3.54v4.13h-3.54zM407.0 490.3h3.54v4.13h-3.54zM463.5 490.3h3.54v4.13h-3.54zM438.8 486.1h3.54v4.13h-3.54zM452.9 486.1h3.54v4.13h-3.54zM435.3 482.0h3.54v4.13h-3.54zM474.2 477.9h3.54v4.13h-3.54z" fill="#ffed00"/>
<path d="M396.4 510.9h3.54v4.13h-3.54zM452.9 510.9h3.54v4.13h-3.54zM460.0 494.4h3.54v4.13h-3.54zM456.5 490.3h3.54v4.13h-3.54zM477.7 490.3h3.54v4.13h-3.54zM470.6 482.0h3.54v4.13h-3.54z" fill="#ffff00"/>
<path d="M389.3 510.9h3.54v4.13h-3.54zM403.4 510.9h3.54v4.13h-3.54zM385.8 490.3h3.54v4.13h-3.54zM392.8 490.3h3.54v4.13h-3.54zM399.9 490.3h3.54v4.13h-3.54zM460.0 486.1h3.54v4.13h-3.54zM467.1 486.1h3.54v4.13h-3.54z" fill="#ffff19"/>
<path d="M410.5 510.9h3.54v4.13h-3.54zM463.5 506.8h3.54v4.13h-3.54zM467.1 494.4h3.54v4.13h-3.54zM421.1 490.3h3.54v4.13h-3.54zM470.6 490.3h3.54v4.13h-3.54z" fill="#ffff33"/>
<path d="M445.9 510.9h3.54v4.13h-3.54zM378.7 506.8h3.54v4.13h-3.54zM361.0 502.7h3.54v4.13h-3.54zM467.1 502.7h3.54v4.13h-3.54zM375.1 494.4h3.54v4.13h-3.54zM442.3 490.3h3.54v4.13h-3.54zM477.7 482.0h3.54v4.13h-3.54zM484.8 473.7h3.54v4.13h-3.54z" fill="#ffff4c"/>
<path d="M417.6 510.9h3.54v4.13h-3.54zM463.5 498.5h3.54v4.13h-3.54zM449.4 490.3h3.54v4.13h-3.54zM481.2 486.1h3.54v4.13h-3.54z" fill="#ffff65"/>
<path d="M424.6 510.9h3.54v4.13h-3.54zM438.8 510.9h3.54v4.13h-3.54zM371.6 506.8h3.54v4.13h-3.54zM364.5 498.5h3.54v4.13h-3.54zM382.2 494.4h3.54v4.13h-3.54zM414.0 490.3h3.54v4.13h-3.54zM428.2 490.3h3.54v4.13h-3.54zM435.3 490.3h3.54v4.13h-3.54zM481.2 477.9h3.54v4.13h-3.54z" fill="#ffff7f"/>
<path d="M456.5 506.8h3.54v4.13h-3.54zM389.3 494.4h3.54v4.13h-3.54z" fill="#ffff99"/>
<path d="M431.7 510.9h3.54v4.13h-3.54zM474.2 486.1h3.54v4.13h-3.54zM484.8 482.0h3.54v4.13h-3.54z" fill="#ffffb2"/>
<path d="M421.1 506.8h3.54v4.13h-3.54zM449.4 506.8h3.54v4.13h-3.54zM368.1 502.7h3.54v4.13h-3.54zM460.0 502.7h3.54v4.13h-3.54zM456.5 498.5h3.54v4.13h-3.54zM396.4 494.4h3.54v4.13h-3.54zM452.9 494.4h3.54v4.13h-3.54z" fill="#ffffcb"/>
<path d="M385.8 506.8h3.54v4.13h-3.54zM392.8 506.8h3.54v4.13h-3.54zM399.9 506.8h3.54v4.13h-3.54zM407.0 506.8h3.54v4.13h-3.54zM414.0 506.8h3.54v4.13h-3.54zM428.2 506.8h3.54v4.13h-3.54zM435.3 506.8h3.54v4.13h-3.54zM442.3 506.8h3.54v4.13h-3.54zM375.1 502.7h3.54v4.13h-3.54zM382.2 502.7h3.54v4.13h-3.54zM389.3 502.7h3.54v4.13h-3.54zM396.4 502.7h3.54v4.13h-3.54zM403.4 502.7h3.54v4.13h-3.54zM410.5 502.7h3.54v4.13h-3.54zM417.6 502.7h3.54v4.13h-3.54zM424.6 502.7h3.54v4.13h-3.54zM431.7 502.7h3.54v4.13h-3.54zM438.8 502.7h3.54v4.13h-3.54zM445.9 502.7h3.54v4.13h-3.54zM452.9 502.7h3.54v4.13h-3.54zM371.6 498.5h3.54v4.13h-3.54zM378.7 498.5h3.54v4.13h-3.54zM385.8 498.5h3.54v4.13h-3.54zM392.8 498.5h3.54v4.13h-3.54zM399.9 498.5h3.54v4.13h-3.54zM407.0 498.5h3.54v4.13h-3.54zM414.0 498.5h3.54v4.13h-3.54zM421.1 498.5h3.54v4.13h-3.54zM428.2 498.5h3.54v4.13h-3.54zM435.3 498.5h3.54v4.13h-3.54zM442.3 498.5h3.54v4.13h-3.54zM449.4 498.5h3.54v4.13h-3.54zM403.4 494.4h3.54v4.13h-3.54zM410.5 494.4h3.54v4.13h-3.54zM417.6 494.4h3.54v4.13h-3.54zM424.6 494.4h3.54v4.13h-3.54zM431.7 494.4h3.54v4.13h-3.54zM438.8 494.4h3.54v4.13h-3.54zM445.9 494.4h3.54v4.13h-3.54z" fill="#ffffff"/>
<line x1="332.95" y1="635.00" x2="332.95" y2="629.00" stroke="#eee" stroke-width="1" />
<line x1="332.95" y1="469.60" x2="332.95" y2="475.60" stroke="#eee" stroke-width="1" />
<text x="329.45" y="651.10" font-size="13.6" text-anchor="middle" fill="#262626" >-20</text>
<line x1="404.20" y1="635.00" x2="404.20" y2="629.00" stroke="#eee" stroke-width="1" />
<line x1="404.20" y1="469.60" x2="404.20" y2="475.60" stroke="#eee" stroke-width="1" />
<text x="404.20" y="651.10" font-size="13.6" text-anchor="middle" fill="#262626" >0</text>
<line x1="475.45" y1="635.00" x2="475.45" y2="629.00" stroke="#eee" stroke-width="1" />
<line x1="475.45" y1="469.60" x2="475.45" y2="475.60" stroke="#eee" stroke-width="1" />
<text x="474.45" y="651.10" font-size="13.6" text-anchor="middle" fill="#262626" >20</text>
<line x1="322.10" y1="597.78" x2="328.10" y2="597.78" stroke="#eee" stroke-width="1" />
<line x1="488.30" y1="597.78" x2="482.30" y2="597.78" stroke="#eee" stroke-width="1" />
<line x1="322.10" y1="556.44" x2="328.10" y2="556.44" stroke="#eee" stroke-width="1" />
<line x1="488.30" y1="556.44" x2="482.30" y2="556.44" stroke="#eee" stroke-width="1" />
<line x1="322.10" y1="515.09" x2="328.10" y2="515.09" stroke="#eee" stroke-width="1" />
<line x1="488.30" y1="515.09" x2="482.30" y2="515.09" stroke="#eee" stroke-width="1" />
<line x1="322.10" y1="473.74" x2="328.10" y2="473.74" stroke="#eee" stroke-width="1" />
<line x1="488.30" y1="473.74" x2="482.30" y2="473.74" stroke="#eee" stroke-width="1" />
<text x="440.10" y="620.60" font-size="13.0" text-anchor="start" fill="#fff" >Theory</text>
<rect x="131.00" y="664.00" width="166.00" height="166.00" fill="#0d0000"/>
<path d="M222.8 825.5h3.53v4.49h-3.53zM226.4 821.0h3.53v4.49h-3.53zM208.7 816.5h3.53v4.49h-3.53zM229.9 816.5h3.53v4.49h-3.53zM205.2 812.1h3.53v4.49h-3.53zM233.4 812.1h3.53v4.49h-3.53zM201.6 807.6h3.53v4.49h-3.53zM229.9 807.6h3.53v4.49h-3.53zM237.0 807.6h3.53v4.49h-3.53zM198.1 803.1h3.53v4.49h-3.53zM205.2 803.1h3.53v4.49h-3.53zM208.7 798.6h3.53v4.49h-3.53zM244.0 798.6h3.53v4.49h-3.53zM191.0 794.1h3.53v4.49h-3.53zM247.6 794.1h3.53v4.49h-3.53zM184.0 785.1h3.53v4.49h-3.53zM191.0 785.1h3.53v4.49h-3.53zM184.0 776.2h3.53v4.49h-3.53zM254.6 776.2h3.53v4.49h-3.53zM180.4 771.7h3.53v4.49h-3.53zM176.9 767.2h3.53v4.49h-3.53zM173.4 762.7h3.53v4.49h-3.53zM169.9 758.2h3.53v4.49h-3.53zM268.7 758.2h3.53v4.49h-3.53zM272.3 753.7h3.53v4.49h-3.53zM162.8 749.2h3.53v4.49h-3.53zM275.8 749.2h3.53v4.49h-3.53zM279.3 744.8h3.53v4.49h-3.53zM159.3 735.8h3.53v4.49h-3.53zM152.2 726.8h3.53v4.49h-3.53zM148.7 722.3h3.53v4.49h-3.53zM289.9 722.3h3.53v4.49h-3.53zM293.5 717.8h3.53v4.49h-3.53zM148.7 713.4h3.53v4.49h-3.53zM138.1 699.9h3.53v4.49h-3.53zM134.5 695.4h3.53v4.49h-3.53z" fill="#2c0000"/>
<path d="M215.8 825.5h3.53v4.49h-3.53zM212.2 821.0h3.53v4.49h-3.53zM219.3 821.0h3.53v4.49h-3.53zM212.2 812.1h3.53v4.49h-3.53zM226.4 812.1h3.53v4.49h-3.53zM208.7 807.6h3.53v4.49h-3.53zM215.8 807.6h3.53v4.49h-3.53zM233.4 803.1h3.53v4.49h-3.53zM201.6 798.6h3.53v4.49h-3.53zM237.0 798.6h3.53v4.49h-3.53zM198.1 794.1h3.53v4.49h-3.53zM205.2 794.1h3.53v4.49h-3.53zM240.5 794.1h3.53v4.49h-3.53zM194.6 789.6h3.53v4.49h-3.53zM201.6 789.6h3.53v4.49h-3.53zM198.1 785.1h3.53v4.49h-3.53zM247.6 785.1h3.53v4.49h-3.53zM187.5 780.6h3.53v4.49h-3.53zM194.6 780.6h3.53v4.49h-3.53zM251.1 780.6h3.53v4.49h-3.53zM258.1 771.7h3.53v4.49h-3.53zM184.0 767.2h3.53v4.49h-3.53zM261.7 767.2h3.53v4.49h-3.53zM180.4 762.7h3.53v4.49h-3.53zM187.5 762.7h3.53v4.49h-3.53zM176.9 758.2h3.53v4.49h-3.53zM173.4 753.7h3.53v4.49h-3.53zM169.9 749.2h3.53v4.49h-3.53zM268.7 749.2h3.53v4.49h-3.53zM166.3 744.8h3.53v4.49h-3.53zM162.8 740.3h3.53v4.49h-3.53zM275.8 740.3h3.53v4.49h-3.53zM279.3 735.8h3.53v4.49h-3.53zM155.7 731.3h3.53v4.49h-3.53zM282.9 731.3h3.53v4.49h-3.53zM286.4 726.8h3.53v4.49h-3.53zM145.1 708.9h3.53v4.49h-3.53zM141.6 704.4h3.53v4.49h-3.53zM145.1 699.9h3.53v4.49h-3.53zM131.0 681.9h3.53v4.49h-3.53zM131.0 673.0h3.53v4.49h-3.53zM131.0 664.0h3.53v4.49h-3.53z" fill="#3d0000"/>
<path d="M215.8 816.5h3.53v4.49h-3.53zM222.8 816.5h3.53v4.49h-3.53zM219.3 812.1h3.53v4.49h-3.53zM212.2 803.1h3.53v4.49h-3.53zM219.3 803.1h3.53v4.49h-3.53zM212.2 794.1h3.53v4.49h-3.53zM233.4 794.1h3.53v4.49h-3.53zM201.6 780.6h3.53v4.49h-3.53zM208.7 780.6h3.53v4.49h-3.53zM244.0 780.6h3.53v4.49h-3.53zM191.0 776.2h3.53v4.49h-3.53zM198.1 776.2h3.53v4.49h-3.53zM187.5 771.7h3.53v4.49h-3.53zM194.6 771.7h3.53v4.49h-3.53zM191.0 767.2h3.53v4.49h-3.53zM254.6 767.2h3.53v4.49h-3.53zM184.0 758.2h3.53v4.49h-3.53zM261.7 758.2h3.53v4.49h-3.53zM180.4 753.7h3.53v4.49h-3.53zM194.6 753.7h3.53v4.49h-3.53zM176.9 749.2h3.53v4.49h-3.53zM173.4 744.8h3.53v4.49h-3.53zM180.4 744.8h3.53v4.49h-3.53zM272.3 744.8h3.53v4.49h-3.53zM169.9 740.3h3.53v4.49h-3.53zM166.3 735.8h3.53v4.49h-3.53zM180.4 735.8h3.53v4.49h-3.53zM187.5 735.8h3.53v4.49h-3.53zM162.8 731.3h3.53v4.49h-3.53zM159.3 726.8h3.53v4.49h-3.53zM180.4 726.8h3.53v4.49h-3.53zM155.7 722.3h3.53v4.49h-3.53zM152.2 717.8h3.53v4.49h-3.53zM293.5 708.9h3.53v4.49h-3.53zM141.6 695.4h3.53v4.49h-3.53zM134.5 677.5h3.53v4.49h-3.53z" fill="#4e0000"/>
<path d="M222.8 807.6h3.53v4.49h-3.53zM226.4 803.1h3.53v4.49h-3.53zM215.8 798.6h3.53v4.49h-3.53zM229.9 798.6h3.53v4.49h-3.53zM215.8 789.6h3.53v4.49h-3.53zM237.0 789.6h3.53v4.49h-3.53zM244.0 789.6h3.53v4.49h-3.53zM205.2 785.1h3.53v4.49h-3.53zM240.5 785.1h3.53v4.49h-3.53zM222.8 780.6h3.53v4.49h-3.53zM240.5 776.2h3.53v4.49h-3.53zM247.6 776.2h3.53v4.49h-3.53zM201.6 771.7h3.53v4.49h-3.53zM251.1 771.7h3.53v4.49h-3.53zM194.6 762.7h3.53v4.49h-3.53zM201.6 762.7h3.53v4.49h-3.53zM258.1 762.7h3.53v4.49h-3.53zM191.0 758.2h3.53v4.49h-3.53zM198.1 758.2h3.53v4.49h-3.53zM187.5 753.7h3.53v4.49h-3.53zM258.1 753.7h3.53v4.49h-3.53zM265.2 753.7h3.53v4.49h-3.53zM184.0 749.2h3.53v4.49h-3.53zM191.0 749.2h3.53v4.49h-3.53zM265.2 744.8h3.53v4.49h-3.53zM176.9 740.3h3.53v4.49h-3.53zM184.0 740.3h3.53v4.49h-3.53zM173.4 735.8h3.53v4.49h-3.53zM272.3 735.8h3.53v4.49h-3.53zM173.4 726.8h3.53v4.49h-3.53zM162.8 722.3h3.53v4.49h-3.53zM286.4 717.8h3.53v4.49h-3.53zM289.9 713.4h3.53v4.49h-3.53zM152.2 708.9h3.53v4.49h-3.53zM148.7 704.4h3.53v4.49h-3.53zM138.1 690.9h3.53v4.49h-3.53zM134.5 686.4h3.53v4.49h-3.53zM152.2 664.0h3.53v4.49h-3.53z" fill="#5f0000"/>
<path d="M208.7 789.6h3.53v4.49h-3.53zM212.2 785.1h3.53v4.49h-3.53zM233.4 785.1h3.53v4.49h-3.53zM205.2 776.2h3.53v4.49h-3.53zM212.2 776.2h3.53v4.49h-3.53zM198.1 767.2h3.53v4.49h-3.53zM247.6 767.2h3.53v4.49h-3.53zM215.8 762.7h3.53v4.49h-3.53zM205.2 758.2h3.53v4.49h-3.53zM201.6 753.7h3.53v4.49h-3.53zM198.1 749.2h3.53v4.49h-3.53zM205.2 749.2h3.53v4.49h-3.53zM261.7 749.2h3.53v4.49h-3.53zM187.5 744.8h3.53v4.49h-3.53zM194.6 744.8h3.53v4.49h-3.53zM268.7 740.3h3.53v4.49h-3.53zM194.6 735.8h3.53v4.49h-3.53zM169.9 731.3h3.53v4.49h-3.53zM176.9 731.3h3.53v4.49h-3.53zM275.8 731.3h3.53v4.49h-3.53zM166.3 726.8h3.53v4.49h-3.53zM279.3 726.8h3.53v4.49h-3.53zM169.9 722.3h3.53v4.49h-3.53zM155.7 713.4h3.53v4.49h-3.53zM148.7 695.4h3.53v4.49h-3.53zM155.7 695.4h3.53v4.49h-3.53zM145.1 690.9h3.53v4.49h-3.53zM141.6 686.4h3.53v4.49h-3.53zM148.7 686.4h3.53v4.49h-3.53zM148.7 677.5h3.53v4.49h-3.53zM152.2 673.0h3.53v4.49h-3.53zM134.5 668.5h3.53v4.49h-3.53zM141.6 668.5h3.53v4.49h-3.53zM138.1 664.0h3.53v4.49h-3.53z" fill="#700000"/>
<path d="M222.8 798.6h3.53v4.49h-3.53zM219.3 794.1h3.53v4.49h-3.53zM222.8 789.6h3.53v4.49h-3.53zM219.3 785.1h3.53v4.49h-3.53zM226.4 785.1h3.53v4.49h-3.53zM215.8 780.6h3.53v4.49h-3.53zM237.0 780.6h3.53v4.49h-3.53zM237.0 771.7h3.53v4.49h-3.53zM205.2 767.2h3.53v4.49h-3.53zM212.2 767.2h3.53v4.49h-3.53zM208.7 762.7h3.53v4.49h-3.53zM251.1 753.7h3.53v4.49h-3.53zM254.6 749.2h3.53v4.49h-3.53zM191.0 740.3h3.53v4.49h-3.53zM198.1 740.3h3.53v4.49h-3.53zM208.7 735.8h3.53v4.49h-3.53zM184.0 731.3h3.53v4.49h-3.53zM187.5 726.8h3.53v4.49h-3.53zM176.9 722.3h3.53v4.49h-3.53zM282.9 722.3h3.53v4.49h-3.53zM159.3 717.8h3.53v4.49h-3.53zM166.3 717.8h3.53v4.49h-3.53zM279.3 717.8h3.53v4.49h-3.53zM162.8 713.4h3.53v4.49h-3.53zM293.5 699.9h3.53v4.49h-3.53zM162.8 686.4h3.53v4.49h-3.53zM145.1 681.9h3.53v4.49h-3.53zM162.8 677.5h3.53v4.49h-3.53zM138.1 673.0h3.53v4.49h-3.53zM159.3 673.0h3.53v4.49h-3.53zM148.7 668.5h3.53v4.49h-3.53z" fill="#810000"/>
<path d="M229.9 789.6h3.53v4.49h-3.53zM229.9 780.6h3.53v4.49h-3.53zM233.4 776.2h3.53v4.49h-3.53zM208.7 771.7h3.53v4.49h-3.53zM215.8 771.7h3.53v4.49h-3.53zM244.0 771.7h3.53v4.49h-3.53zM251.1 762.7h3.53v4.49h-3.53zM254.6 758.2h3.53v4.49h-3.53zM247.6 749.2h3.53v4.49h-3.53zM201.6 744.8h3.53v4.49h-3.53zM205.2 740.3h3.53v4.49h-3.53zM261.7 740.3h3.53v4.49h-3.53zM201.6 735.8h3.53v4.49h-3.53zM229.9 735.8h3.53v4.49h-3.53zM191.0 731.3h3.53v4.49h-3.53zM275.8 722.3h3.53v4.49h-3.53zM173.4 717.8h3.53v4.49h-3.53zM159.3 708.9h3.53v4.49h-3.53zM286.4 708.9h3.53v4.49h-3.53zM155.7 704.4h3.53v4.49h-3.53zM152.2 699.9h3.53v4.49h-3.53zM279.3 699.9h3.53v4.49h-3.53zM152.2 690.9h3.53v4.49h-3.53zM138.1 681.9h3.53v4.49h-3.53zM159.3 681.9h3.53v4.49h-3.53zM145.1 673.0h3.53v4.49h-3.53zM162.8 668.5h3.53v4.49h-3.53zM169.9 668.5h3.53v4.49h-3.53zM145.1 664.0h3.53v4.49h-3.53z" fill="#920000"/>
<path d="M226.4 794.1h3.53v4.49h-3.53zM226.4 776.2h3.53v4.49h-3.53zM229.9 771.7h3.53v4.49h-3.53zM226.4 767.2h3.53v4.49h-3.53zM240.5 767.2h3.53v4.49h-3.53zM244.0 762.7h3.53v4.49h-3.53zM240.5 758.2h3.53v4.49h-3.53zM208.7 753.7h3.53v4.49h-3.53zM208.7 744.8h3.53v4.49h-3.53zM222.8 744.8h3.53v4.49h-3.53zM258.1 744.8h3.53v4.49h-3.53zM265.2 735.8h3.53v4.49h-3.53zM261.7 731.3h3.53v4.49h-3.53zM272.3 726.8h3.53v4.49h-3.53zM184.0 722.3h3.53v4.49h-3.53zM268.7 722.3h3.53v4.49h-3.53zM180.4 717.8h3.53v4.49h-3.53zM176.9 713.4h3.53v4.49h-3.53zM184.0 713.4h3.53v4.49h-3.53zM282.9 713.4h3.53v4.49h-3.53zM166.3 708.9h3.53v4.49h-3.53zM268.7 704.4h3.53v4.49h-3.53zM289.9 704.4h3.53v4.49h-3.53zM282.9 695.4h3.53v4.49h-3.53zM166.3 690.9h3.53v4.49h-3.53zM155.7 686.4h3.53v4.49h-3.53zM152.2 681.9h3.53v4.49h-3.53zM180.4 681.9h3.53v4.49h-3.53zM141.6 677.5h3.53v4.49h-3.53zM155.7 677.5h3.53v4.49h-3.53zM173.4 673.0h3.53v4.49h-3.53zM176.9 668.5h3.53v4.49h-3.53zM184.0 668.5h3.53v4.49h-3.53zM166.3 664.0h3.53v4.49h-3.53zM173.4 664.0h3.53v4.49h-3.53zM187.5 664.0h3.53v4.49h-3.53z" fill="#a30000"/>
<path d="M219.3 776.2h3.53v4.49h-3.53zM222.8 771.7h3.53v4.49h-3.53zM237.0 762.7h3.53v4.49h-3.53zM212.2 758.2h3.53v4.49h-3.53zM219.3 758.2h3.53v4.49h-3.53zM247.6 758.2h3.53v4.49h-3.53zM222.8 753.7h3.53v4.49h-3.53zM212.2 749.2h3.53v4.49h-3.53zM240.5 749.2h3.53v4.49h-3.53zM240.5 740.3h3.53v4.49h-3.53zM254.6 740.3h3.53v4.49h-3.53zM215.8 735.8h3.53v4.49h-3.53zM194.6 726.8h3.53v4.49h-3.53zM212.2 722.3h3.53v4.49h-3.53zM187.5 717.8h3.53v4.49h-3.53zM194.6 717.8h3.53v4.49h-3.53zM169.9 713.4h3.53v4.49h-3.53zM279.3 708.9h3.53v4.49h-3.53zM159.3 699.9h3.53v4.49h-3.53zM286.4 699.9h3.53v4.49h-3.53zM159.3 690.9h3.53v4.49h-3.53zM293.5 690.9h3.53v4.49h-3.53zM169.9 677.5h3.53v4.49h-3.53zM166.3 673.0h3.53v4.49h-3.53zM180.4 673.0h3.53v4.49h-3.53zM187.5 673.0h3.53v4.49h-3.53zM194.6 673.0h3.53v4.49h-3.53zM201.6 673.0h3.53v4.49h-3.53zM229.9 673.0h3.53v4.49h-3.53zM155.7 668.5h3.53v4.49h-3.53zM191.0 668.5h3.53v4.49h-3.53zM240.5 668.5h3.53v4.49h-3.53zM159.3 664.0h3.53v4.49h-3.53zM201.6 664.0h3.53v4.49h-3.53z" fill="#b40000"/>
<path d="M229.9 762.7h3.53v4.49h-3.53zM215.8 753.7h3.53v4.49h-3.53zM229.9 753.7h3.53v4.49h-3.53zM237.0 753.7h3.53v4.49h-3.53zM226.4 749.2h3.53v4.49h-3.53zM251.1 744.8h3.53v4.49h-3.53zM198.1 731.3h3.53v4.49h-3.53zM205.2 731.3h3.53v4.49h-3.53zM268.7 731.3h3.53v4.49h-3.53zM265.2 726.8h3.53v4.49h-3.53zM191.0 722.3h3.53v4.49h-3.53zM275.8 713.4h3.53v4.49h-3.53zM173.4 708.9h3.53v4.49h-3.53zM180.4 708.9h3.53v4.49h-3.53zM162.8 704.4h3.53v4.49h-3.53zM162.8 695.4h3.53v4.49h-3.53zM289.9 695.4h3.53v4.49h-3.53zM169.9 686.4h3.53v4.49h-3.53zM166.3 681.9h3.53v4.49h-3.53zM173.4 681.9h3.53v4.49h-3.53zM222.8 673.0h3.53v4.49h-3.53zM212.2 668.5h3.53v4.49h-3.53zM180.4 664.0h3.53v4.49h-3.53zM229.9 664.0h3.53v4.49h-3.53z" fill="#c50000"/>
<path d="M219.3 767.2h3.53v4.49h-3.53zM233.4 767.2h3.53v4.49h-3.53zM226.4 758.2h3.53v4.49h-3.53zM233.4 758.2h3.53v4.49h-3.53zM244.0 753.7h3.53v4.49h-3.53zM229.9 744.8h3.53v4.49h-3.53zM212.2 740.3h3.53v4.49h-3.53zM219.3 740.3h3.53v4.49h-3.53zM233.4 740.3h3.53v4.49h-3.53zM247.6 740.3h3.53v4.49h-3.53zM251.1 735.8h3.53v4.49h-3.53zM258.1 735.8h3.53v4.49h-3.53zM212.2 731.3h3.53v4.49h-3.53zM226.4 731.3h3.53v4.49h-3.53zM258.1 726.8h3.53v4.49h-3.53zM169.9 704.4h3.53v4.49h-3.53zM166.3 699.9h3.53v4.49h-3.53zM173.4 699.9h3.53v4.49h-3.53zM169.9 695.4h3.53v4.49h-3.53zM184.0 677.5h3.53v4.49h-3.53zM251.1 673.0h3.53v4.49h-3.53zM198.1 668.5h3.53v4.49h-3.53zM219.3 668.5h3.53v4.49h-3.53zM233.4 668.5h3.53v4.49h-3.53zM247.6 668.5h3.53v4.49h-3.53zM254.6 668.5h3.53v4.49h-3.53zM194.6 664.0h3.53v4.49h-3.53zM215.8 664.0h3.53v4.49h-3.53zM237.0 664.0h3.53v4.49h-3.53z" fill="#d60000"/>
<path d="M222.8 762.7h3.53v4.49h-3.53zM219.3 749.2h3.53v4.49h-3.53zM237.0 744.8h3.53v4.49h-3.53zM244.0 744.8h3.53v4.49h-3.53zM226.4 740.3h3.53v4.49h-3.53zM222.8 735.8h3.53v4.49h-3.53zM247.6 731.3h3.53v4.49h-3.53zM201.6 726.8h3.53v4.49h-3.53zM198.1 722.3h3.53v4.49h-3.53zM208.7 717.8h3.53v4.49h-3.53zM258.1 717.8h3.53v4.49h-3.53zM176.9 704.4h3.53v4.49h-3.53zM282.9 704.4h3.53v4.49h-3.53zM201.6 681.9h3.53v4.49h-3.53zM208.7 681.9h3.53v4.49h-3.53zM176.9 677.5h3.53v4.49h-3.53zM205.2 668.5h3.53v4.49h-3.53zM265.2 664.0h3.53v4.49h-3.53z" fill="#e70000"/>
<path d="M233.4 749.2h3.53v4.49h-3.53zM215.8 744.8h3.53v4.49h-3.53zM244.0 735.8h3.53v4.49h-3.53zM233.4 731.3h3.53v4.49h-3.53zM240.5 731.3h3.53v4.49h-3.53zM254.6 731.3h3.53v4.49h-3.53zM244.0 726.8h3.53v4.49h-3.53zM251.1 726.8h3.53v4.49h-3.53zM265.2 717.8h3.53v4.49h-3.53zM272.3 717.8h3.53v4.49h-3.53zM268.7 713.4h3.53v4.49h-3.53zM272.3 708.9h3.53v4.49h-3.53zM272.3 699.9h3.53v4.49h-3.53zM176.9 695.4h3.53v4.49h-3.53zM173.4 690.9h3.53v4.49h-3.53zM180.4 690.9h3.53v4.49h-3.53zM176.9 686.4h3.53v4.49h-3.53zM184.0 686.4h3.53v4.49h-3.53zM222.8 681.9h3.53v4.49h-3.53zM198.1 677.5h3.53v4.49h-3.53zM212.2 677.5h3.53v4.49h-3.53zM226.4 677.5h3.53v4.49h-3.53zM261.7 677.5h3.53v4.49h-3.53zM268.7 677.5h3.53v4.49h-3.53zM208.7 673.0h3.53v4.49h-3.53zM215.8 673.0h3.53v4.49h-3.53zM237.0 673.0h3.53v4.49h-3.53zM258.1 673.0h3.53v4.49h-3.53zM226.4 668.5h3.53v4.49h-3.53zM208.7 664.0h3.53v4.49h-3.53zM222.8 664.0h3.53v4.49h-3.53zM258.1 664.0h3.53v4.49h-3.53z" fill="#f80000"/>
<path d="M237.0 735.8h3.53v4.49h-3.53zM208.7 726.8h3.53v4.49h-3.53zM240.5 722.3h3.53v4.49h-3.53zM261.7 722.3h3.53v4.49h-3.53zM191.0 713.4h3.53v4.49h-3.53zM261.7 713.4h3.53v4.49h-3.53zM187.5 690.9h3.53v4.49h-3.53zM201.6 690.9h3.53v4.49h-3.53zM279.3 690.9h3.53v4.49h-3.53zM286.4 690.9h3.53v4.49h-3.53zM187.5 681.9h3.53v4.49h-3.53zM194.6 681.9h3.53v4.49h-3.53zM265.2 681.9h3.53v4.49h-3.53zM191.0 677.5h3.53v4.49h-3.53zM205.2 677.5h3.53v4.49h-3.53zM268.7 668.5h3.53v4.49h-3.53zM244.0 664.0h3.53v4.49h-3.53zM251.1 664.0h3.53v4.49h-3.53zM272.3 664.0h3.53v4.49h-3.53z" fill="#ff0000"/>
<path d="M205.2 722.3h3.53v4.49h-3.53zM254.6 722.3h3.53v4.49h-3.53zM201.6 717.8h3.53v4.49h-3.53zM194.6 708.9h3.53v4.49h-3.53zM275.8 704.4h3.53v4.49h-3.53zM275.8 695.4h3.53v4.49h-3.53zM226.4 686.4h3.53v4.49h-3.53zM229.9 681.9h3.53v4.49h-3.53zM258.1 681.9h3.53v4.49h-3.53zM219.3 677.5h3.53v4.49h-3.53zM265.2 673.0h3.53v4.49h-3.53zM279.3 664.0h3.53v4.49h-3.53z" fill="#ff1100"/>
<path d="M219.3 731.3h3.53v4.49h-3.53zM222.8 726.8h3.53v4.49h-3.53zM237.0 726.8h3.53v4.49h-3.53zM261.7 704.4h3.53v4.49h-3.53zM191.0 686.4h3.53v4.49h-3.53zM205.2 686.4h3.53v4.49h-3.53zM247.6 686.4h3.53v4.49h-3.53zM289.9 686.4h3.53v4.49h-3.53zM247.6 677.5h3.53v4.49h-3.53zM254.6 677.5h3.53v4.49h-3.53zM244.0 673.0h3.53v4.49h-3.53zM272.3 673.0h3.53v4.49h-3.53zM261.7 668.5h3.53v4.49h-3.53z" fill="#ff2100"/>
<path d="M215.8 726.8h3.53v4.49h-3.53zM226.4 722.3h3.53v4.49h-3.53zM247.6 722.3h3.53v4.49h-3.53zM237.0 717.8h3.53v4.49h-3.53zM251.1 717.8h3.53v4.49h-3.53zM265.2 708.9h3.53v4.49h-3.53zM191.0 704.4h3.53v4.49h-3.53zM268.7 686.4h3.53v4.49h-3.53zM215.8 681.9h3.53v4.49h-3.53zM286.4 681.9h3.53v4.49h-3.53zM233.4 677.5h3.53v4.49h-3.53z" fill="#ff3300"/>
<path d="M205.2 713.4h3.53v4.49h-3.53zM187.5 708.9h3.53v4.49h-3.53zM244.0 708.9h3.53v4.49h-3.53zM184.0 704.4h3.53v4.49h-3.53zM194.6 690.9h3.53v4.49h-3.53zM265.2 690.9h3.53v4.49h-3.53zM272.3 690.9h3.53v4.49h-3.53zM212.2 686.4h3.53v4.49h-3.53zM254.6 686.4h3.53v4.49h-3.53zM244.0 681.9h3.53v4.49h-3.53zM251.1 681.9h3.53v4.49h-3.53zM279.3 673.0h3.53v4.49h-3.53zM275.8 668.5h3.53v4.49h-3.53z" fill="#ff4300"/>
<path d="M229.9 726.8h3.53v4.49h-3.53zM233.4 722.3h3.53v4.49h-3.53zM215.8 717.8h3.53v4.49h-3.53zM229.9 717.8h3.53v4.49h-3.53zM244.0 717.8h3.53v4.49h-3.53zM198.1 713.4h3.53v4.49h-3.53zM180.4 699.9h3.53v4.49h-3.53zM268.7 695.4h3.53v4.49h-3.53zM261.7 686.4h3.53v4.49h-3.53zM237.0 681.9h3.53v4.49h-3.53zM272.3 681.9h3.53v4.49h-3.53zM293.5 681.9h3.53v4.49h-3.53zM240.5 677.5h3.53v4.49h-3.53zM289.9 677.5h3.53v4.49h-3.53z" fill="#ff5500"/>
<path d="M240.5 713.4h3.53v4.49h-3.53zM254.6 713.4h3.53v4.49h-3.53zM265.2 699.9h3.53v4.49h-3.53z" fill="#ff6600"/>
<path d="M219.3 722.3h3.53v4.49h-3.53zM247.6 713.4h3.53v4.49h-3.53zM251.1 708.9h3.53v4.49h-3.53zM258.1 708.9h3.53v4.49h-3.53zM198.1 704.4h3.53v4.49h-3.53zM187.5 699.9h3.53v4.49h-3.53zM184.0 695.4h3.53v4.49h-3.53zM275.8 686.4h3.53v4.49h-3.53zM282.9 686.4h3.53v4.49h-3.53zM275.8 677.5h3.53v4.49h-3.53z" fill="#ff7700"/>
<path d="M198.1 686.4h3.53v4.49h-3.53zM219.3 686.4h3.53v4.49h-3.53zM240.5 686.4h3.53v4.49h-3.53zM279.3 681.9h3.53v4.49h-3.53zM282.9 668.5h3.53v4.49h-3.53z" fill="#ff8700"/>
<path d="M222.8 708.9h3.53v4.49h-3.53zM208.7 690.9h3.53v4.49h-3.53zM215.8 690.9h3.53v4.49h-3.53zM258.1 690.9h3.53v4.49h-3.53zM233.4 686.4h3.53v4.49h-3.53zM286.4 673.0h3.53v4.49h-3.53z" fill="#ff9900"/>
<path d="M215.8 708.9h3.53v4.49h-3.53zM254.6 695.4h3.53v4.49h-3.53zM244.0 690.9h3.53v4.49h-3.53zM286.4 664.0h3.53v4.49h-3.53z" fill="#ffaa00"/>
<path d="M212.2 713.4h3.53v4.49h-3.53zM219.3 713.4h3.53v4.49h-3.53zM226.4 713.4h3.53v4.49h-3.53zM233.4 704.4h3.53v4.49h-3.53zM247.6 704.4h3.53v4.49h-3.53zM261.7 695.4h3.53v4.49h-3.53zM282.9 677.5h3.53v4.49h-3.53zM293.5 664.0h3.53v4.49h-3.53z" fill="#ffbb00"/>
<path d="M233.4 713.4h3.53v4.49h-3.53zM208.7 708.9h3.53v4.49h-3.53zM251.1 690.9h3.53v4.49h-3.53z" fill="#ffcc00"/>
<path d="M201.6 708.9h3.53v4.49h-3.53zM237.0 708.9h3.53v4.49h-3.53zM254.6 704.4h3.53v4.49h-3.53zM191.0 695.4h3.53v4.49h-3.53zM222.8 690.9h3.53v4.49h-3.53zM293.5 673.0h3.53v4.49h-3.53z" fill="#ffdc00"/>
<path d="M222.8 717.8h3.53v4.49h-3.53zM205.2 695.4h3.53v4.49h-3.53z" fill="#ffed00"/>
<path d="M258.1 699.9h3.53v4.49h-3.53zM289.9 668.5h3.53v4.49h-3.53z" fill="#ffff00"/>
<path d="M229.9 708.9h3.53v4.49h-3.53zM194.6 699.9h3.53v4.49h-3.53zM251.1 699.9h3.53v4.49h-3.53zM198.1 695.4h3.53v4.49h-3.53zM237.0 690.9h3.53v4.49h-3.53z" fill="#ffff19"/>
<path d="M226.4 704.4h3.53v4.49h-3.53z" fill="#ffff33"/>
<path d="M205.2 704.4h3.53v4.49h-3.53zM244.0 699.9h3.53v4.49h-3.53zM247.6 695.4h3.53v4.49h-3.53z" fill="#ffff4c"/>
<path d="M201.6 699.9h3.53v4.49h-3.53zM226.4 695.4h3.53v4.49h-3.53z" fill="#ffff65"/>
<path d="M212.2 695.4h3.53v4.49h-3.53zM229.9 690.9h3.53v4.49h-3.53z" fill="#ffff7f"/>
<path d="M212.2 704.4h3.53v4.49h-3.53zM208.7 699.9h3.53v4.49h-3.53z" fill="#ffff99"/>
<path d="M219.3 704.4h3.53v4.49h-3.53zM229.9 699.9h3.53v4.49h-3.53zM233.4 695.4h3.53v4.49h-3.53z" fill="#ffffcb"/>
<path d="M222.8 699.9h3.53v4.49h-3.53z" fill="#ffffe5"/>
<path d="M240.5 704.4h3.53v4.49h-3.53zM215.8 699.9h3.53v4.49h-3.53zM237.0 699.9h3.53v4.49h-3.53zM219.3 695.4h3.53v4.49h-3.53zM240.5 695.4h3.53v4.49h-3.53z" fill="#ffffff"/>
<line x1="140.75" y1="830.00" x2="140.75" y2="824.00" stroke="#eee" stroke-width="1" />
<line x1="140.75" y1="664.00" x2="140.75" y2="670.00" stroke="#eee" stroke-width="1" />
<text x="137.25" y="844.80" font-size="13.6" text-anchor="middle" fill="#262626" >-20</text>
<line x1="212.00" y1="830.00" x2="212.00" y2="824.00" stroke="#eee" stroke-width="1" />
<line x1="212.00" y1="664.00" x2="212.00" y2="670.00" stroke="#eee" stroke-width="1" />
<text x="212.00" y="844.80" font-size="13.6" text-anchor="middle" fill="#262626" >0</text>
<line x1="283.25" y1="830.00" x2="283.25" y2="824.00" stroke="#eee" stroke-width="1" />
<line x1="283.25" y1="664.00" x2="283.25" y2="670.00" stroke="#eee" stroke-width="1" />
<text x="282.25" y="844.80" font-size="13.6" text-anchor="middle" fill="#262626" >20</text>
<line x1="131.00" y1="789.62" x2="137.00" y2="789.62" stroke="#eee" stroke-width="1" />
<line x1="297.00" y1="789.62" x2="291.00" y2="789.62" stroke="#eee" stroke-width="1" />
<line x1="131.00" y1="744.76" x2="137.00" y2="744.76" stroke="#eee" stroke-width="1" />
<line x1="297.00" y1="744.76" x2="291.00" y2="744.76" stroke="#eee" stroke-width="1" />
<line x1="131.00" y1="699.89" x2="137.00" y2="699.89" stroke="#eee" stroke-width="1" />
<line x1="297.00" y1="699.89" x2="291.00" y2="699.89" stroke="#eee" stroke-width="1" />
<text x="261.60" y="815.60" font-size="13.0" text-anchor="start" fill="#fff" >Exp.</text>
<rect x="322.10" y="664.00" width="166.20" height="166.00" fill="#0d0000"/>
<path d="M414.0 825.5h3.54v4.49h-3.54zM403.4 821.0h3.54v4.49h-3.54zM417.6 821.0h3.54v4.49h-3.54zM399.9 816.5h3.54v4.49h-3.54zM421.1 816.5h3.54v4.49h-3.54zM396.4 812.1h3.54v4.49h-3.54zM424.6 812.1h3.54v4.49h-3.54zM392.8 807.6h3.54v4.49h-3.54zM428.2 807.6h3.54v4.49h-3.54zM389.3 803.1h3.54v4.49h-3.54zM431.7 803.1h3.54v4.49h-3.54zM385.8 798.6h3.54v4.49h-3.54zM435.3 798.6h3.54v4.49h-3.54zM382.2 794.1h3.54v4.49h-3.54zM438.8 794.1h3.54v4.49h-3.54zM378.7 789.6h3.54v4.49h-3.54zM385.8 789.6h3.54v4.49h-3.54zM382.2 785.1h3.54v4.49h-3.54zM378.7 780.6h3.54v4.49h-3.54zM375.1 776.2h3.54v4.49h-3.54zM371.6 771.7h3.54v4.49h-3.54zM368.1 767.2h3.54v4.49h-3.54zM452.9 767.2h3.54v4.49h-3.54zM364.5 762.7h3.54v4.49h-3.54zM456.5 762.7h3.54v4.49h-3.54zM361.0 758.2h3.54v4.49h-3.54zM460.0 758.2h3.54v4.49h-3.54zM357.5 753.7h3.54v4.49h-3.54zM463.5 753.7h3.54v4.49h-3.54zM353.9 749.2h3.54v4.49h-3.54zM467.1 749.2h3.54v4.49h-3.54zM470.6 744.8h3.54v4.49h-3.54zM353.9 740.3h3.54v4.49h-3.54zM346.9 731.3h3.54v4.49h-3.54zM343.3 726.8h3.54v4.49h-3.54zM339.8 722.3h3.54v4.49h-3.54zM481.2 722.3h3.54v4.49h-3.54zM484.8 717.8h3.54v4.49h-3.54zM329.2 699.9h3.54v4.49h-3.54zM325.6 695.4h3.54v4.49h-3.54z" fill="#2c0000"/>
<path d="M407.0 825.5h3.54v4.49h-3.54zM410.5 821.0h3.54v4.49h-3.54zM407.0 816.5h3.54v4.49h-3.54zM399.9 807.6h3.54v4.49h-3.54zM396.4 803.1h3.54v4.49h-3.54zM392.8 798.6h3.54v4.49h-3.54zM389.3 794.1h3.54v4.49h-3.54zM431.7 794.1h3.54v4.49h-3.54zM392.8 789.6h3.54v4.49h-3.54zM435.3 789.6h3.54v4.49h-3.54zM389.3 785.1h3.54v4.49h-3.54zM438.8 785.1h3.54v4.49h-3.54zM385.8 780.6h3.54v4.49h-3.54zM442.3 780.6h3.54v4.49h-3.54zM382.2 776.2h3.54v4.49h-3.54zM445.9 776.2h3.54v4.49h-3.54zM378.7 771.7h3.54v4.49h-3.54zM449.4 771.7h3.54v4.49h-3.54zM375.1 767.2h3.54v4.49h-3.54zM371.6 762.7h3.54v4.49h-3.54zM368.1 758.2h3.54v4.49h-3.54zM364.5 753.7h3.54v4.49h-3.54zM361.0 749.2h3.54v4.49h-3.54zM357.5 744.8h3.54v4.49h-3.54zM467.1 740.3h3.54v4.49h-3.54zM350.4 735.8h3.54v4.49h-3.54zM470.6 735.8h3.54v4.49h-3.54zM474.2 731.3h3.54v4.49h-3.54zM477.7 726.8h3.54v4.49h-3.54zM339.8 713.4h3.54v4.49h-3.54zM336.2 708.9h3.54v4.49h-3.54zM332.7 704.4h3.54v4.49h-3.54zM322.1 681.9h3.54v4.49h-3.54zM322.1 673.0h3.54v4.49h-3.54zM322.1 664.0h3.54v4.49h-3.54z" fill="#3d0000"/>
<path d="M414.0 816.5h3.54v4.49h-3.54zM403.4 812.1h3.54v4.49h-3.54zM410.5 812.1h3.54v4.49h-3.54zM417.6 812.1h3.54v4.49h-3.54zM414.0 807.6h3.54v4.49h-3.54zM421.1 807.6h3.54v4.49h-3.54zM403.4 803.1h3.54v4.49h-3.54zM424.6 803.1h3.54v4.49h-3.54zM399.9 798.6h3.54v4.49h-3.54zM428.2 798.6h3.54v4.49h-3.54zM396.4 794.1h3.54v4.49h-3.54zM389.3 776.2h3.54v4.49h-3.54zM385.8 771.7h3.54v4.49h-3.54zM382.2 767.2h3.54v4.49h-3.54zM445.9 767.2h3.54v4.49h-3.54zM378.7 762.7h3.54v4.49h-3.54zM375.1 758.2h3.54v4.49h-3.54zM382.2 758.2h3.54v4.49h-3.54zM452.9 758.2h3.54v4.49h-3.54zM371.6 753.7h3.54v4.49h-3.54zM456.5 753.7h3.54v4.49h-3.54zM368.1 749.2h3.54v4.49h-3.54zM375.1 749.2h3.54v4.49h-3.54zM460.0 749.2h3.54v4.49h-3.54zM364.5 744.8h3.54v4.49h-3.54zM463.5 744.8h3.54v4.49h-3.54zM361.0 740.3h3.54v4.49h-3.54zM368.1 740.3h3.54v4.49h-3.54zM357.5 735.8h3.54v4.49h-3.54zM353.9 731.3h3.54v4.49h-3.54zM350.4 726.8h3.54v4.49h-3.54zM346.9 722.3h3.54v4.49h-3.54zM343.3 717.8h3.54v4.49h-3.54zM332.7 695.4h3.54v4.49h-3.54zM329.2 690.9h3.54v4.49h-3.54zM325.6 686.4h3.54v4.49h-3.54z" fill="#4e0000"/>
<path d="M407.0 807.6h3.54v4.49h-3.54zM417.6 803.1h3.54v4.49h-3.54zM421.1 798.6h3.54v4.49h-3.54zM403.4 794.1h3.54v4.49h-3.54zM399.9 789.6h3.54v4.49h-3.54zM396.4 785.1h3.54v4.49h-3.54zM431.7 785.1h3.54v4.49h-3.54zM392.8 780.6h3.54v4.49h-3.54zM435.3 780.6h3.54v4.49h-3.54zM438.8 776.2h3.54v4.49h-3.54zM442.3 771.7h3.54v4.49h-3.54zM389.3 767.2h3.54v4.49h-3.54zM385.8 762.7h3.54v4.49h-3.54zM449.4 762.7h3.54v4.49h-3.54zM378.7 753.7h3.54v4.49h-3.54zM385.8 753.7h3.54v4.49h-3.54zM382.2 749.2h3.54v4.49h-3.54zM371.6 744.8h3.54v4.49h-3.54zM378.7 744.8h3.54v4.49h-3.54zM364.5 735.8h3.54v4.49h-3.54zM463.5 735.8h3.54v4.49h-3.54zM361.0 731.3h3.54v4.49h-3.54zM474.2 722.3h3.54v4.49h-3.54zM477.7 717.8h3.54v4.49h-3.54zM481.2 713.4h3.54v4.49h-3.54zM343.3 708.9h3.54v4.49h-3.54zM484.8 708.9h3.54v4.49h-3.54zM339.8 704.4h3.54v4.49h-3.54zM336.2 699.9h3.54v4.49h-3.54zM336.2 690.9h3.54v4.49h-3.54zM325.6 677.5h3.54v4.49h-3.54zM325.6 668.5h3.54v4.49h-3.54z" fill="#5f0000"/>
<path d="M410.5 803.1h3.54v4.49h-3.54zM407.0 798.6h3.54v4.49h-3.54zM414.0 798.6h3.54v4.49h-3.54zM424.6 794.1h3.54v4.49h-3.54zM428.2 789.6h3.54v4.49h-3.54zM403.4 785.1h3.54v4.49h-3.54zM399.9 780.6h3.54v4.49h-3.54zM396.4 776.2h3.54v4.49h-3.54zM392.8 771.7h3.54v4.49h-3.54zM396.4 767.2h3.54v4.49h-3.54zM438.8 767.2h3.54v4.49h-3.54zM392.8 762.7h3.54v4.49h-3.54zM389.3 758.2h3.54v4.49h-3.54zM445.9 758.2h3.54v4.49h-3.54zM452.9 749.2h3.54v4.49h-3.54zM385.8 744.8h3.54v4.49h-3.54zM375.1 740.3h3.54v4.49h-3.54zM382.2 740.3h3.54v4.49h-3.54zM460.0 740.3h3.54v4.49h-3.54zM371.6 735.8h3.54v4.49h-3.54zM368.1 731.3h3.54v4.49h-3.54zM467.1 731.3h3.54v4.49h-3.54zM357.5 726.8h3.54v4.49h-3.54zM364.5 726.8h3.54v4.49h-3.54zM470.6 726.8h3.54v4.49h-3.54zM353.9 722.3h3.54v4.49h-3.54zM361.0 722.3h3.54v4.49h-3.54zM350.4 717.8h3.54v4.49h-3.54zM346.9 713.4h3.54v4.49h-3.54zM332.7 686.4h3.54v4.49h-3.54zM329.2 681.9h3.54v4.49h-3.54zM329.2 664.0h3.54v4.49h-3.54z" fill="#700000"/>
<path d="M410.5 794.1h3.54v4.49h-3.54zM417.6 794.1h3.54v4.49h-3.54zM407.0 789.6h3.54v4.49h-3.54zM414.0 789.6h3.54v4.49h-3.54zM421.1 789.6h3.54v4.49h-3.54zM417.6 785.1h3.54v4.49h-3.54zM424.6 785.1h3.54v4.49h-3.54zM407.0 780.6h3.54v4.49h-3.54zM428.2 780.6h3.54v4.49h-3.54zM403.4 776.2h3.54v4.49h-3.54zM431.7 776.2h3.54v4.49h-3.54zM399.9 771.7h3.54v4.49h-3.54zM435.3 771.7h3.54v4.49h-3.54zM442.3 762.7h3.54v4.49h-3.54zM392.8 753.7h3.54v4.49h-3.54zM449.4 753.7h3.54v4.49h-3.54zM389.3 749.2h3.54v4.49h-3.54zM392.8 744.8h3.54v4.49h-3.54zM456.5 744.8h3.54v4.49h-3.54zM378.7 735.8h3.54v4.49h-3.54zM385.8 735.8h3.54v4.49h-3.54zM456.5 735.8h3.54v4.49h-3.54zM375.1 731.3h3.54v4.49h-3.54zM382.2 731.3h3.54v4.49h-3.54zM371.6 726.8h3.54v4.49h-3.54zM368.1 722.3h3.54v4.49h-3.54zM357.5 717.8h3.54v4.49h-3.54zM353.9 713.4h3.54v4.49h-3.54zM481.2 704.4h3.54v4.49h-3.54zM343.3 699.9h3.54v4.49h-3.54zM339.8 695.4h3.54v4.49h-3.54zM343.3 690.9h3.54v4.49h-3.54zM336.2 681.9h3.54v4.49h-3.54zM332.7 677.5h3.54v4.49h-3.54zM329.2 673.0h3.54v4.49h-3.54zM336.2 673.0h3.54v4.49h-3.54zM332.7 668.5h3.54v4.49h-3.54zM339.8 668.5h3.54v4.49h-3.54zM336.2 664.0h3.54v4.49h-3.54z" fill="#810000"/>
<path d="M410.5 785.1h3.54v4.49h-3.54zM414.0 780.6h3.54v4.49h-3.54zM421.1 780.6h3.54v4.49h-3.54zM410.5 776.2h3.54v4.49h-3.54zM424.6 776.2h3.54v4.49h-3.54zM407.0 771.7h3.54v4.49h-3.54zM428.2 771.7h3.54v4.49h-3.54zM431.7 767.2h3.54v4.49h-3.54zM399.9 762.7h3.54v4.49h-3.54zM396.4 758.2h3.54v4.49h-3.54zM438.8 758.2h3.54v4.49h-3.54zM399.9 753.7h3.54v4.49h-3.54zM442.3 753.7h3.54v4.49h-3.54zM396.4 749.2h3.54v4.49h-3.54zM445.9 749.2h3.54v4.49h-3.54zM389.3 740.3h3.54v4.49h-3.54zM452.9 740.3h3.54v4.49h-3.54zM460.0 731.3h3.54v4.49h-3.54zM378.7 726.8h3.54v4.49h-3.54zM463.5 726.8h3.54v4.49h-3.54zM364.5 717.8h3.54v4.49h-3.54zM470.6 717.8h3.54v4.49h-3.54zM361.0 713.4h3.54v4.49h-3.54zM350.4 708.9h3.54v4.49h-3.54zM477.7 708.9h3.54v4.49h-3.54zM346.9 704.4h3.54v4.49h-3.54zM484.8 699.9h3.54v4.49h-3.54zM346.9 695.4h3.54v4.49h-3.54zM350.4 690.9h3.54v4.49h-3.54zM339.8 686.4h3.54v4.49h-3.54zM346.9 686.4h3.54v4.49h-3.54zM343.3 681.9h3.54v4.49h-3.54zM350.4 681.9h3.54v4.49h-3.54zM339.8 677.5h3.54v4.49h-3.54zM346.9 677.5h3.54v4.49h-3.54zM343.3 673.0h3.54v4.49h-3.54zM346.9 668.5h3.54v4.49h-3.54zM361.0 668.5h3.54v4.49h-3.54zM343.3 664.0h3.54v4.49h-3.54zM357.5 664.0h3.54v4.49h-3.54z" fill="#920000"/>
<path d="M417.6 776.2h3.54v4.49h-3.54zM414.0 771.7h3.54v4.49h-3.54zM421.1 771.7h3.54v4.49h-3.54zM403.4 767.2h3.54v4.49h-3.54zM407.0 762.7h3.54v4.49h-3.54zM435.3 762.7h3.54v4.49h-3.54zM403.4 758.2h3.54v4.49h-3.54zM407.0 753.7h3.54v4.49h-3.54zM442.3 744.8h3.54v4.49h-3.54zM449.4 744.8h3.54v4.49h-3.54zM445.9 740.3h3.54v4.49h-3.54zM392.8 735.8h3.54v4.49h-3.54zM385.8 726.8h3.54v4.49h-3.54zM375.1 722.3h3.54v4.49h-3.54zM467.1 722.3h3.54v4.49h-3.54zM474.2 713.4h3.54v4.49h-3.54zM353.9 704.4h3.54v4.49h-3.54zM350.4 699.9h3.54v4.49h-3.54zM353.9 695.4h3.54v4.49h-3.54zM353.9 686.4h3.54v4.49h-3.54zM350.4 673.0h3.54v4.49h-3.54zM357.5 673.0h3.54v4.49h-3.54zM371.6 673.0h3.54v4.49h-3.54zM353.9 668.5h3.54v4.49h-3.54zM368.1 668.5h3.54v4.49h-3.54zM350.4 664.0h3.54v4.49h-3.54zM364.5 664.0h3.54v4.49h-3.54zM371.6 664.0h3.54v4.49h-3.54zM378.7 664.0h3.54v4.49h-3.54z" fill="#a30000"/>
<path d="M410.5 767.2h3.54v4.49h-3.54zM424.6 767.2h3.54v4.49h-3.54zM414.0 762.7h3.54v4.49h-3.54zM428.2 762.7h3.54v4.49h-3.54zM431.7 758.2h3.54v4.49h-3.54zM435.3 753.7h3.54v4.49h-3.54zM403.4 749.2h3.54v4.49h-3.54zM438.8 749.2h3.54v4.49h-3.54zM399.9 744.8h3.54v4.49h-3.54zM396.4 740.3h3.54v4.49h-3.54zM399.9 735.8h3.54v4.49h-3.54zM449.4 735.8h3.54v4.49h-3.54zM389.3 731.3h3.54v4.49h-3.54zM396.4 731.3h3.54v4.49h-3.54zM452.9 731.3h3.54v4.49h-3.54zM456.5 726.8h3.54v4.49h-3.54zM382.2 722.3h3.54v4.49h-3.54zM371.6 717.8h3.54v4.49h-3.54zM368.1 713.4h3.54v4.49h-3.54zM357.5 708.9h3.54v4.49h-3.54zM364.5 708.9h3.54v4.49h-3.54zM481.2 695.4h3.54v4.49h-3.54zM357.5 690.9h3.54v4.49h-3.54zM484.8 690.9h3.54v4.49h-3.54zM357.5 681.9h3.54v4.49h-3.54zM353.9 677.5h3.54v4.49h-3.54zM361.0 677.5h3.54v4.49h-3.54zM364.5 673.0h3.54v4.49h-3.54zM375.1 668.5h3.54v4.49h-3.54z" fill="#b40000"/>
<path d="M417.6 767.2h3.54v4.49h-3.54zM421.1 762.7h3.54v4.49h-3.54zM410.5 758.2h3.54v4.49h-3.54zM417.6 758.2h3.54v4.49h-3.54zM424.6 758.2h3.54v4.49h-3.54zM414.0 753.7h3.54v4.49h-3.54zM428.2 753.7h3.54v4.49h-3.54zM410.5 749.2h3.54v4.49h-3.54zM424.6 749.2h3.54v4.49h-3.54zM407.0 744.8h3.54v4.49h-3.54zM435.3 744.8h3.54v4.49h-3.54zM403.4 740.3h3.54v4.49h-3.54zM460.0 722.3h3.54v4.49h-3.54zM378.7 717.8h3.54v4.49h-3.54zM463.5 717.8h3.54v4.49h-3.54zM467.1 713.4h3.54v4.49h-3.54zM470.6 708.9h3.54v4.49h-3.54zM361.0 686.4h3.54v4.49h-3.54zM364.5 681.9h3.54v4.49h-3.54zM371.6 681.9h3.54v4.49h-3.54zM382.2 668.5h3.54v4.49h-3.54zM407.0 664.0h3.54v4.49h-3.54z" fill="#c50000"/>
<path d="M421.1 753.7h3.54v4.49h-3.54zM417.6 749.2h3.54v4.49h-3.54zM431.7 749.2h3.54v4.49h-3.54zM414.0 744.8h3.54v4.49h-3.54zM421.1 744.8h3.54v4.49h-3.54zM410.5 740.3h3.54v4.49h-3.54zM431.7 740.3h3.54v4.49h-3.54zM442.3 735.8h3.54v4.49h-3.54zM403.4 731.3h3.54v4.49h-3.54zM445.9 731.3h3.54v4.49h-3.54zM392.8 726.8h3.54v4.49h-3.54zM449.4 726.8h3.54v4.49h-3.54zM389.3 722.3h3.54v4.49h-3.54zM452.9 722.3h3.54v4.49h-3.54zM361.0 704.4h3.54v4.49h-3.54zM474.2 704.4h3.54v4.49h-3.54zM357.5 699.9h3.54v4.49h-3.54zM477.7 699.9h3.54v4.49h-3.54zM474.2 695.4h3.54v4.49h-3.54zM364.5 690.9h3.54v4.49h-3.54zM368.1 677.5h3.54v4.49h-3.54zM375.1 677.5h3.54v4.49h-3.54zM378.7 673.0h3.54v4.49h-3.54zM385.8 673.0h3.54v4.49h-3.54zM392.8 673.0h3.54v4.49h-3.54zM389.3 668.5h3.54v4.49h-3.54zM403.4 668.5h3.54v4.49h-3.54zM385.8 664.0h3.54v4.49h-3.54zM392.8 664.0h3.54v4.49h-3.54zM399.9 664.0h3.54v4.49h-3.54zM414.0 664.0h3.54v4.49h-3.54zM421.1 664.0h3.54v4.49h-3.54z" fill="#d60000"/>
<path d="M438.8 740.3h3.54v4.49h-3.54zM407.0 735.8h3.54v4.49h-3.54zM399.9 726.8h3.54v4.49h-3.54zM442.3 726.8h3.54v4.49h-3.54zM385.8 717.8h3.54v4.49h-3.54zM375.1 713.4h3.54v4.49h-3.54zM371.6 708.9h3.54v4.49h-3.54zM463.5 708.9h3.54v4.49h-3.54zM361.0 695.4h3.54v4.49h-3.54zM477.7 690.9h3.54v4.49h-3.54zM368.1 686.4h3.54v4.49h-3.54zM378.7 681.9h3.54v4.49h-3.54zM382.2 677.5h3.54v4.49h-3.54zM399.9 673.0h3.54v4.49h-3.54zM396.4 668.5h3.54v4.49h-3.54zM410.5 668.5h3.54v4.49h-3.54zM431.7 668.5h3.54v4.49h-3.54zM435.3 664.0h3.54v4.49h-3.54z" fill="#e70000"/>
<path d="M428.2 744.8h3.54v4.49h-3.54zM417.6 740.3h3.54v4.49h-3.54zM414.0 735.8h3.54v4.49h-3.54zM421.1 735.8h3.54v4.49h-3.54zM428.2 735.8h3.54v4.49h-3.54zM435.3 735.8h3.54v4.49h-3.54zM410.5 731.3h3.54v4.49h-3.54zM438.8 731.3h3.54v4.49h-3.54zM407.0 726.8h3.54v4.49h-3.54zM396.4 722.3h3.54v4.49h-3.54zM456.5 717.8h3.54v4.49h-3.54zM460.0 713.4h3.54v4.49h-3.54zM470.6 699.9h3.54v4.49h-3.54zM375.1 686.4h3.54v4.49h-3.54zM389.3 677.5h3.54v4.49h-3.54zM396.4 677.5h3.54v4.49h-3.54zM403.4 677.5h3.54v4.49h-3.54zM417.6 677.5h3.54v4.49h-3.54zM445.9 677.5h3.54v4.49h-3.54zM407.0 673.0h3.54v4.49h-3.54zM414.0 673.0h3.54v4.49h-3.54zM421.1 673.0h3.54v4.49h-3.54zM428.2 673.0h3.54v4.49h-3.54zM435.3 673.0h3.54v4.49h-3.54zM417.6 668.5h3.54v4.49h-3.54zM424.6 668.5h3.54v4.49h-3.54zM428.2 664.0h3.54v4.49h-3.54z" fill="#f80000"/>
<path d="M424.6 740.3h3.54v4.49h-3.54zM417.6 731.3h3.54v4.49h-3.54zM424.6 731.3h3.54v4.49h-3.54zM431.7 731.3h3.54v4.49h-3.54zM403.4 722.3h3.54v4.49h-3.54zM445.9 722.3h3.54v4.49h-3.54zM392.8 717.8h3.54v4.49h-3.54zM449.4 717.8h3.54v4.49h-3.54zM467.1 704.4h3.54v4.49h-3.54zM371.6 690.9h3.54v4.49h-3.54zM392.8 681.9h3.54v4.49h-3.54zM438.8 668.5h3.54v4.49h-3.54zM445.9 668.5h3.54v4.49h-3.54zM452.9 668.5h3.54v4.49h-3.54zM460.0 668.5h3.54v4.49h-3.54zM442.3 664.0h3.54v4.49h-3.54zM449.4 664.0h3.54v4.49h-3.54zM470.6 664.0h3.54v4.49h-3.54z" fill="#ff0000"/>
<path d="M414.0 726.8h3.54v4.49h-3.54zM435.3 726.8h3.54v4.49h-3.54zM382.2 713.4h3.54v4.49h-3.54zM368.1 704.4h3.54v4.49h-3.54zM364.5 699.9h3.54v4.49h-3.54zM368.1 695.4h3.54v4.49h-3.54zM467.1 695.4h3.54v4.49h-3.54zM378.7 690.9h3.54v4.49h-3.54zM470.6 690.9h3.54v4.49h-3.54zM382.2 686.4h3.54v4.49h-3.54zM385.8 681.9h3.54v4.49h-3.54zM399.9 681.9h3.54v4.49h-3.54zM410.5 677.5h3.54v4.49h-3.54zM424.6 677.5h3.54v4.49h-3.54zM431.7 677.5h3.54v4.49h-3.54zM438.8 677.5h3.54v4.49h-3.54zM452.9 677.5h3.54v4.49h-3.54zM442.3 673.0h3.54v4.49h-3.54zM449.4 673.0h3.54v4.49h-3.54zM456.5 673.0h3.54v4.49h-3.54zM456.5 664.0h3.54v4.49h-3.54zM463.5 664.0h3.54v4.49h-3.54z" fill="#ff1100"/>
<path d="M421.1 726.8h3.54v4.49h-3.54zM399.9 717.8h3.54v4.49h-3.54zM442.3 717.8h3.54v4.49h-3.54zM389.3 713.4h3.54v4.49h-3.54zM452.9 713.4h3.54v4.49h-3.54zM378.7 708.9h3.54v4.49h-3.54zM456.5 708.9h3.54v4.49h-3.54zM463.5 699.9h3.54v4.49h-3.54zM389.3 686.4h3.54v4.49h-3.54zM481.2 686.4h3.54v4.49h-3.54zM407.0 681.9h3.54v4.49h-3.54zM414.0 681.9h3.54v4.49h-3.54zM435.3 681.9h3.54v4.49h-3.54zM442.3 681.9h3.54v4.49h-3.54zM460.0 677.5h3.54v4.49h-3.54zM463.5 673.0h3.54v4.49h-3.54zM467.1 668.5h3.54v4.49h-3.54z" fill="#ff2100"/>
<path d="M428.2 726.8h3.54v4.49h-3.54zM410.5 722.3h3.54v4.49h-3.54zM438.8 722.3h3.54v4.49h-3.54zM449.4 708.9h3.54v4.49h-3.54zM463.5 690.9h3.54v4.49h-3.54zM396.4 686.4h3.54v4.49h-3.54zM421.1 681.9h3.54v4.49h-3.54zM449.4 681.9h3.54v4.49h-3.54z" fill="#ff3300"/>
<path d="M417.6 722.3h3.54v4.49h-3.54zM407.0 717.8h3.54v4.49h-3.54zM435.3 717.8h3.54v4.49h-3.54zM445.9 713.4h3.54v4.49h-3.54zM375.1 704.4h3.54v4.49h-3.54zM460.0 704.4h3.54v4.49h-3.54zM460.0 695.4h3.54v4.49h-3.54zM452.9 686.4h3.54v4.49h-3.54zM428.2 681.9h3.54v4.49h-3.54zM456.5 681.9h3.54v4.49h-3.54zM470.6 673.0h3.54v4.49h-3.54zM474.2 668.5h3.54v4.49h-3.54z" fill="#ff4300"/>
<path d="M424.6 722.3h3.54v4.49h-3.54zM431.7 722.3h3.54v4.49h-3.54zM396.4 713.4h3.54v4.49h-3.54zM385.8 708.9h3.54v4.49h-3.54zM371.6 699.9h3.54v4.49h-3.54zM385.8 690.9h3.54v4.49h-3.54zM456.5 690.9h3.54v4.49h-3.54zM417.6 686.4h3.54v4.49h-3.54zM431.7 686.4h3.54v4.49h-3.54zM445.9 686.4h3.54v4.49h-3.54zM484.8 681.9h3.54v4.49h-3.54z" fill="#ff5500"/>
<path d="M414.0 717.8h3.54v4.49h-3.54zM392.8 708.9h3.54v4.49h-3.54zM456.5 699.9h3.54v4.49h-3.54zM375.1 695.4h3.54v4.49h-3.54zM382.2 695.4h3.54v4.49h-3.54zM403.4 686.4h3.54v4.49h-3.54zM410.5 686.4h3.54v4.49h-3.54zM424.6 686.4h3.54v4.49h-3.54zM460.0 686.4h3.54v4.49h-3.54zM474.2 686.4h3.54v4.49h-3.54zM467.1 677.5h3.54v4.49h-3.54zM477.7 664.0h3.54v4.49h-3.54z" fill="#ff6600"/>
<path d="M421.1 717.8h3.54v4.49h-3.54zM428.2 717.8h3.54v4.49h-3.54zM403.4 713.4h3.54v4.49h-3.54zM438.8 713.4h3.54v4.49h-3.54zM452.9 704.4h3.54v4.49h-3.54zM452.9 695.4h3.54v4.49h-3.54zM392.8 690.9h3.54v4.49h-3.54zM438.8 686.4h3.54v4.49h-3.54zM463.5 681.9h3.54v4.49h-3.54z" fill="#ff7700"/>
<path d="M424.6 713.4h3.54v4.49h-3.54zM431.7 713.4h3.54v4.49h-3.54zM407.0 708.9h3.54v4.49h-3.54zM442.3 708.9h3.54v4.49h-3.54zM382.2 704.4h3.54v4.49h-3.54zM467.1 686.4h3.54v4.49h-3.54z" fill="#ff8700"/>
<path d="M442.3 690.9h3.54v4.49h-3.54zM449.4 690.9h3.54v4.49h-3.54zM477.7 681.9h3.54v4.49h-3.54z" fill="#ff9900"/>
<path d="M410.5 713.4h3.54v4.49h-3.54zM417.6 713.4h3.54v4.49h-3.54zM399.9 708.9h3.54v4.49h-3.54zM378.7 699.9h3.54v4.49h-3.54zM407.0 690.9h3.54v4.49h-3.54zM474.2 677.5h3.54v4.49h-3.54zM477.7 673.0h3.54v4.49h-3.54zM484.8 664.0h3.54v4.49h-3.54z" fill="#ffaa00"/>
<path d="M414.0 708.9h3.54v4.49h-3.54zM435.3 708.9h3.54v4.49h-3.54zM445.9 704.4h3.54v4.49h-3.54zM435.3 690.9h3.54v4.49h-3.54zM470.6 681.9h3.54v4.49h-3.54zM481.2 677.5h3.54v4.49h-3.54zM481.2 668.5h3.54v4.49h-3.54z" fill="#ffbb00"/>
<path d="M389.3 704.4h3.54v4.49h-3.54zM445.9 695.4h3.54v4.49h-3.54zM399.9 690.9h3.54v4.49h-3.54zM414.0 690.9h3.54v4.49h-3.54zM484.8 673.0h3.54v4.49h-3.54z" fill="#ffcc00"/>
<path d="M428.2 708.9h3.54v4.49h-3.54zM449.4 699.9h3.54v4.49h-3.54zM428.2 690.9h3.54v4.49h-3.54z" fill="#ffdc00"/>
<path d="M421.1 708.9h3.54v4.49h-3.54zM438.8 704.4h3.54v4.49h-3.54zM396.4 695.4h3.54v4.49h-3.54zM421.1 690.9h3.54v4.49h-3.54z" fill="#ffed00"/>
<path d="M389.3 695.4h3.54v4.49h-3.54zM438.8 695.4h3.54v4.49h-3.54z" fill="#ffff00"/>
<path d="M385.8 699.9h3.54v4.49h-3.54zM442.3 699.9h3.54v4.49h-3.54z" fill="#ffff19"/>
<path d="M396.4 704.4h3.54v4.49h-3.54zM403.4 704.4h3.54v4.49h-3.54zM431.7 704.4h3.54v4.49h-3.54zM392.8 699.9h3.54v4.49h-3.54zM399.9 699.9h3.54v4.49h-3.54z" fill="#ffff33"/>
<path d="M424.6 704.4h3.54v4.49h-3.54zM403.4 695.4h3.54v4.49h-3.54z" fill="#ffff4c"/>
<path d="M410.5 704.4h3.54v4.49h-3.54zM410.5 695.4h3.54v4.49h-3.54zM431.7 695.4h3.54v4.49h-3.54z" fill="#ffff65"/>
<path d="M417.6 704.4h3.54v4.49h-3.54zM428.2 699.9h3.54v4.49h-3.54zM417.6 695.4h3.54v4.49h-3.54zM424.6 695.4h3.54v4.49h-3.54z" fill="#ffff7f"/>
<path d="M435.3 699.9h3.54v4.49h-3.54z" fill="#ffff99"/>
<path d="M407.0 699.9h3.54v4.49h-3.54z" fill="#ffffb2"/>
<path d="M414.0 699.9h3.54v4.49h-3.54zM421.1 699.9h3.54v4.49h-3.54z" fill="#ffffff"/>
<line x1="332.95" y1="830.00" x2="332.95" y2="824.00" stroke="#eee" stroke-width="1" />
<line x1="332.95" y1="664.00" x2="332.95" y2="670.00" stroke="#eee" stroke-width="1" />
<text x="329.45" y="844.80" font-size="13.6" text-anchor="middle" fill="#262626" >-20</text>
<line x1="404.20" y1="830.00" x2="404.20" y2="824.00" stroke="#eee" stroke-width="1" />
<line x1="404.20" y1="664.00" x2="404.20" y2="670.00" stroke="#eee" stroke-width="1" />
<text x="404.20" y="844.80" font-size="13.6" text-anchor="middle" fill="#262626" >0</text>
<line x1="475.45" y1="830.00" x2="475.45" y2="824.00" stroke="#eee" stroke-width="1" />
<line x1="475.45" y1="664.00" x2="475.45" y2="670.00" stroke="#eee" stroke-width="1" />
<text x="474.45" y="844.80" font-size="13.6" text-anchor="middle" fill="#262626" >20</text>
<line x1="322.10" y1="789.62" x2="328.10" y2="789.62" stroke="#eee" stroke-width="1" />
<line x1="488.30" y1="789.62" x2="482.30" y2="789.62" stroke="#eee" stroke-width="1" />
<line x1="322.10" y1="744.76" x2="328.10" y2="744.76" stroke="#eee" stroke-width="1" />
<line x1="488.30" y1="744.76" x2="482.30" y2="744.76" stroke="#eee" stroke-width="1" />
<line x1="322.10" y1="699.89" x2="328.10" y2="699.89" stroke="#eee" stroke-width="1" />
<line x1="488.30" y1="699.89" x2="482.30" y2="699.89" stroke="#eee" stroke-width="1" />
<text x="440.10" y="815.60" font-size="13.0" text-anchor="start" fill="#fff" >Theory</text>
<defs><radialGradient id="sph" cx="0.5" cy="0.5" r="0.5"><stop offset="0" stop-color="#f2d6d6"/><stop offset="0.8" stop-color="#ecc9c9"/><stop offset="1" stop-color="#e2bcbc"/></radialGradient><radialGradient id="hl"><stop offset="0" stop-color="#fff" stop-opacity="0.55"/><stop offset="1" stop-color="#fff" stop-opacity="0"/></radialGradient><marker id="ahP" markerWidth="6" markerHeight="6" refX="5" refY="2.75" orient="auto" markerUnits="userSpaceOnUse"><path d="M0,0 L6,2.75 L0,5.5 z" fill="#6e106e"/></marker><marker id="ahG" markerWidth="6" markerHeight="6" refX="5" refY="2.75" orient="auto" markerUnits="userSpaceOnUse"><path d="M0,0 L6,2.75 L0,5.5 z" fill="#4aa83a"/></marker></defs>
<rect x="422.06" y="17.6" width="18.83" height="166.4" fill="#fdd59e"/>
<polyline points="350.02,184.00 351.31,182.96 352.60,181.92 353.88,180.88 355.14,179.84 356.40,178.80 357.65,177.76 358.88,176.72 360.11,175.68 361.33,174.64 362.53,173.60 363.73,172.56 364.92,171.52 366.10,170.48 367.26,169.44 368.42,168.40 369.57,167.36 370.71,166.32 371.84,165.28 372.97,164.24 374.08,163.20 375.18,162.16 376.28,161.12 377.36,160.08 378.44,159.04 379.51,158.00 380.57,156.96 381.62,155.92 382.66,154.88 383.70,153.84 384.72,152.80 385.74,151.76 386.75,150.72 387.75,149.68 388.74,148.64 389.73,147.60 390.70,146.56 391.67,145.52 392.63,144.48 393.59,143.44 394.53,142.40 395.47,141.36 396.40,140.32 397.32,139.28 398.23,138.24 399.14,137.20 400.03,136.16 400.92,135.12 401.80,134.08 402.68,133.04 403.54,132.00 404.40,130.96 405.24,129.92 406.08,128.88 406.91,127.84 407.73,126.80 408.54,125.76 409.34,124.72 410.12,123.68 410.90,122.64 411.67,121.60 412.42,120.56 413.15,119.52 413.87,118.48 414.58,117.44 415.27,116.40 415.93,115.36 416.58,114.32 417.20,113.28 417.79,112.24 418.35,111.20 418.88,110.16 419.37,109.12 419.82,108.08 420.22,107.04 420.57,106.00 420.87,104.96 421.10,103.92 421.27,102.88 421.38,101.84 421.41,100.80 421.38,99.76 421.27,98.72 421.10,97.68 420.87,96.64 420.57,95.60 420.22,94.56 419.82,93.52 419.37,92.48 418.88,91.44 418.35,90.40 417.79,89.36 417.20,88.32 416.58,87.28 415.93,86.24 415.27,85.20 414.58,84.16 413.87,83.12 413.15,82.08 412.42,81.04 411.67,80.00 410.90,78.96 410.12,77.92 409.34,76.88 408.54,75.84 407.73,74.80 406.91,73.76 406.08,72.72 405.24,71.68 404.40,70.64 403.54,69.60 402.68,68.56 401.80,67.52 400.92,66.48 400.03,65.44 399.14,64.40 398.23,63.36 397.32,62.32 396.40,61.28 395.47,60.24 394.53,59.20 393.59,58.16 392.63,57.12 391.67,56.08 390.70,55.04 389.73,54.00 388.74,52.96 387.75,51.92 386.75,50.88 385.74,49.84 384.72,48.80 383.70,47.76 382.66,46.72 381.62,45.68 380.57,44.64 379.51,43.60 378.44,42.56 377.36,41.52 376.28,40.48 375.18,39.44 374.08,38.40 372.97,37.36 371.84,36.32 370.71,35.28 369.57,34.24 368.42,33.20 367.26,32.16 366.10,31.12 364.92,30.08 363.73,29.04 362.53,28.00 361.33,26.96 360.11,25.92 358.88,24.88 357.65,23.84 356.40,22.80 355.14,21.76 353.88,20.72 352.60,19.68 351.31,18.64 350.02,17.60" fill="none" stroke="#000" stroke-width="1.5" clip-path="url(#cb0)"/>
<polyline points="513.58,184.00 512.29,182.96 511.00,181.92 509.72,180.88 508.46,179.84 507.20,178.80 505.95,177.76 504.72,176.72 503.49,175.68 502.27,174.64 501.07,173.60 499.87,172.56 498.68,171.52 497.50,170.48 496.34,169.44 495.18,168.40 494.03,167.36 492.89,166.32 491.76,165.28 490.63,164.24 489.52,163.20 488.42,162.16 487.32,161.12 486.24,160.08 485.16,159.04 484.09,158.00 483.03,156.96 481.98,155.92 480.94,154.88 479.90,153.84 478.88,152.80 477.86,151.76 476.85,150.72 475.85,149.68 474.86,148.64 473.87,147.60 472.90,146.56 471.93,145.52 470.97,144.48 470.01,143.44 469.07,142.40 468.13,141.36 467.20,140.32 466.28,139.28 465.37,138.24 464.46,137.20 463.57,136.16 462.68,135.12 461.80,134.08 460.92,133.04 460.06,132.00 459.20,130.96 458.36,129.92 457.52,128.88 456.69,127.84 455.87,126.80 455.06,125.76 454.26,124.72 453.48,123.68 452.70,122.64 451.93,121.60 451.18,120.56 450.45,119.52 449.73,118.48 449.02,117.44 448.33,116.40 447.67,115.36 447.02,114.32 446.40,113.28 445.81,112.24 445.25,111.20 444.72,110.16 444.23,109.12 443.78,108.08 443.38,107.04 443.03,106.00 442.73,104.96 442.50,103.92 442.33,102.88 442.22,101.84 442.19,100.80 442.22,99.76 442.33,98.72 442.50,97.68 442.73,96.64 443.03,95.60 443.38,94.56 443.78,93.52 444.23,92.48 444.72,91.44 445.25,90.40 445.81,89.36 446.40,88.32 447.02,87.28 447.67,86.24 448.33,85.20 449.02,84.16 449.73,83.12 450.45,82.08 451.18,81.04 451.93,80.00 452.70,78.96 453.48,77.92 454.26,76.88 455.06,75.84 455.87,74.80 456.69,73.76 457.52,72.72 458.36,71.68 459.20,70.64 460.06,69.60 460.92,68.56 461.80,67.52 462.68,66.48 463.57,65.44 464.46,64.40 465.37,63.36 466.28,62.32 467.20,61.28 468.13,60.24 469.07,59.20 470.01,58.16 470.97,57.12 471.93,56.08 472.90,55.04 473.87,54.00 474.86,52.96 475.85,51.92 476.85,50.88 477.86,49.84 478.88,48.80 479.90,47.76 480.94,46.72 481.98,45.68 483.03,44.64 484.09,43.60 485.16,42.56 486.24,41.52 487.32,40.48 488.42,39.44 489.52,38.40 490.63,37.36 491.76,36.32 492.89,35.28 494.03,34.24 495.18,33.20 496.34,32.16 497.50,31.12 498.68,30.08 499.87,29.04 501.07,28.00 502.27,26.96 503.49,25.92 504.72,24.88 505.95,23.84 507.20,22.80 508.46,21.76 509.72,20.72 511.00,19.68 512.29,18.64 513.58,17.60" fill="none" stroke="#000" stroke-width="1.5" clip-path="url(#cb0)"/>
<clipPath id="cb0"><rect x="353.9" y="17.6" width="155.8" height="166.4"/></clipPath>
<rect x="353.90" y="17.60" width="155.80" height="166.40" fill="none" stroke="#404040" stroke-width="0.9"/>
<line x1="379.87" y1="184.00" x2="379.87" y2="181.50" stroke="#404040" stroke-width="0.9" />
<line x1="379.87" y1="17.60" x2="379.87" y2="20.10" stroke="#404040" stroke-width="0.9" />
<text x="379.87" y="200.30" font-size="13.6" text-anchor="middle" fill="#262626" >0.6</text>
<line x1="431.80" y1="184.00" x2="431.80" y2="181.50" stroke="#404040" stroke-width="0.9" />
<line x1="431.80" y1="17.60" x2="431.80" y2="20.10" stroke="#404040" stroke-width="0.9" />
<text x="431.80" y="200.30" font-size="13.6" text-anchor="middle" fill="#262626" >1</text>
<line x1="483.73" y1="184.00" x2="483.73" y2="181.50" stroke="#404040" stroke-width="0.9" />
<line x1="483.73" y1="17.60" x2="483.73" y2="20.10" stroke="#404040" stroke-width="0.9" />
<text x="483.73" y="200.30" font-size="13.6" text-anchor="middle" fill="#262626" >1.4</text>
<line x1="353.90" y1="184.00" x2="356.40" y2="184.00" stroke="#404040" stroke-width="0.9" />
<line x1="509.70" y1="184.00" x2="507.20" y2="184.00" stroke="#404040" stroke-width="0.9" />
<line x1="353.90" y1="100.80" x2="356.40" y2="100.80" stroke="#404040" stroke-width="0.9" />
<line x1="509.70" y1="100.80" x2="507.20" y2="100.80" stroke="#404040" stroke-width="0.9" />
<line x1="353.90" y1="17.60" x2="356.40" y2="17.60" stroke="#404040" stroke-width="0.9" />
<line x1="509.70" y1="17.60" x2="507.20" y2="17.60" stroke="#404040" stroke-width="0.9" />
<text x="431.00" y="215.5" font-size="13.6" text-anchor="middle" fill="#262626"><tspan font-style="italic">Q</tspan>/π</text>
<text x="387.6" y="35.6" font-size="13.6" fill="#262626">region <tspan font-family="Liberation Serif" font-size="13.6">I (<tspan font-style="italic" font-size="14.2">m</tspan><tspan font-style="italic" font-size="7" dy="3.8" fill="#666">γ</tspan><tspan font-size="5" dy="1.2" fill="#666">0</tspan></tspan><tspan dy="-5">&lt;0)</tspan></text>
<rect x="595.54" y="17.6" width="18.87" height="166.4" fill="#f5868b"/>
<polyline points="523.31,184.00 524.61,182.96 525.90,181.92 527.18,180.88 528.45,179.84 529.71,178.80 530.96,177.76 532.20,176.72 533.43,175.68 534.65,174.64 535.86,173.60 537.06,172.56 538.25,171.52 539.43,170.48 540.60,169.44 541.76,168.40 542.91,167.36 544.06,166.32 545.19,165.28 546.32,164.24 547.43,163.20 548.54,162.16 549.63,161.12 550.72,160.08 551.80,159.04 552.87,158.00 553.94,156.96 554.99,155.92 556.04,154.88 557.07,153.84 558.10,152.80 559.12,151.76 560.13,150.72 561.14,149.68 562.13,148.64 563.12,147.60 564.10,146.56 565.07,145.52 566.03,144.48 566.99,143.44 567.94,142.40 568.87,141.36 569.81,140.32 570.73,139.28 571.64,138.24 572.55,137.20 573.45,136.16 574.34,135.12 575.23,134.08 576.10,133.04 576.97,132.00 577.83,130.96 578.67,129.92 579.51,128.88 580.35,127.84 581.17,126.80 581.98,125.76 582.78,124.72 583.57,123.68 584.35,122.64 585.11,121.60 585.87,120.56 586.61,119.52 587.33,118.48 588.04,117.44 588.72,116.40 589.39,115.36 590.04,114.32 590.66,113.28 591.25,112.24 591.82,111.20 592.35,110.16 592.84,109.12 593.29,108.08 593.69,107.04 594.04,106.00 594.34,104.96 594.58,103.92 594.75,102.88 594.85,101.84 594.89,100.80 594.85,99.76 594.75,98.72 594.58,97.68 594.34,96.64 594.04,95.60 593.69,94.56 593.29,93.52 592.84,92.48 592.35,91.44 591.82,90.40 591.25,89.36 590.66,88.32 590.04,87.28 589.39,86.24 588.72,85.20 588.04,84.16 587.33,83.12 586.61,82.08 585.87,81.04 585.11,80.00 584.35,78.96 583.57,77.92 582.78,76.88 581.98,75.84 581.17,74.80 580.35,73.76 579.51,72.72 578.67,71.68 577.83,70.64 576.97,69.60 576.10,68.56 575.23,67.52 574.34,66.48 573.45,65.44 572.55,64.40 571.64,63.36 570.73,62.32 569.81,61.28 568.87,60.24 567.94,59.20 566.99,58.16 566.03,57.12 565.07,56.08 564.10,55.04 563.12,54.00 562.13,52.96 561.14,51.92 560.13,50.88 559.12,49.84 558.10,48.80 557.07,47.76 556.04,46.72 554.99,45.68 553.94,44.64 552.87,43.60 551.80,42.56 550.72,41.52 549.63,40.48 548.54,39.44 547.43,38.40 546.32,37.36 545.19,36.32 544.06,35.28 542.91,34.24 541.76,33.20 540.60,32.16 539.43,31.12 538.25,30.08 537.06,29.04 535.86,28.00 534.65,26.96 533.43,25.92 532.20,24.88 530.96,23.84 529.71,22.80 528.45,21.76 527.18,20.72 525.90,19.68 524.61,18.64 523.31,17.60" fill="none" stroke="#000" stroke-width="1.5" clip-path="url(#cb1)"/>
<polyline points="687.29,184.00 685.99,182.96 684.70,181.92 683.42,180.88 682.15,179.84 680.89,178.80 679.64,177.76 678.40,176.72 677.17,175.68 675.95,174.64 674.74,173.60 673.54,172.56 672.35,171.52 671.17,170.48 670.00,169.44 668.84,168.40 667.69,167.36 666.54,166.32 665.41,165.28 664.28,164.24 663.17,163.20 662.06,162.16 660.97,161.12 659.88,160.08 658.80,159.04 657.73,158.00 656.66,156.96 655.61,155.92 654.56,154.88 653.53,153.84 652.50,152.80 651.48,151.76 650.47,150.72 649.46,149.68 648.47,148.64 647.48,147.60 646.50,146.56 645.53,145.52 644.57,144.48 643.61,143.44 642.66,142.40 641.73,141.36 640.79,140.32 639.87,139.28 638.96,138.24 638.05,137.20 637.15,136.16 636.26,135.12 635.37,134.08 634.50,133.04 633.63,132.00 632.77,130.96 631.93,129.92 631.09,128.88 630.25,127.84 629.43,126.80 628.62,125.76 627.82,124.72 627.03,123.68 626.25,122.64 625.49,121.60 624.73,120.56 623.99,119.52 623.27,118.48 622.56,117.44 621.88,116.40 621.21,115.36 620.56,114.32 619.94,113.28 619.35,112.24 618.78,111.20 618.25,110.16 617.76,109.12 617.31,108.08 616.91,107.04 616.56,106.00 616.26,104.96 616.02,103.92 615.85,102.88 615.75,101.84 615.71,100.80 615.75,99.76 615.85,98.72 616.02,97.68 616.26,96.64 616.56,95.60 616.91,94.56 617.31,93.52 617.76,92.48 618.25,91.44 618.78,90.40 619.35,89.36 619.94,88.32 620.56,87.28 621.21,86.24 621.88,85.20 622.56,84.16 623.27,83.12 623.99,82.08 624.73,81.04 625.49,80.00 626.25,78.96 627.03,77.92 627.82,76.88 628.62,75.84 629.43,74.80 630.25,73.76 631.09,72.72 631.93,71.68 632.77,70.64 633.63,69.60 634.50,68.56 635.37,67.52 636.26,66.48 637.15,65.44 638.05,64.40 638.96,63.36 639.87,62.32 640.79,61.28 641.73,60.24 642.66,59.20 643.61,58.16 644.57,57.12 645.53,56.08 646.50,55.04 647.48,54.00 648.47,52.96 649.46,51.92 650.47,50.88 651.48,49.84 652.50,48.80 653.53,47.76 654.56,46.72 655.61,45.68 656.66,44.64 657.73,43.60 658.80,42.56 659.88,41.52 660.97,40.48 662.06,39.44 663.17,38.40 664.28,37.36 665.41,36.32 666.54,35.28 667.69,34.24 668.84,33.20 670.00,32.16 671.17,31.12 672.35,30.08 673.54,29.04 674.74,28.00 675.95,26.96 677.17,25.92 678.40,24.88 679.64,23.84 680.89,22.80 682.15,21.76 683.42,20.72 684.70,19.68 685.99,18.64 687.29,17.60" fill="none" stroke="#000" stroke-width="1.5" clip-path="url(#cb1)"/>
<clipPath id="cb1"><rect x="527.2" y="17.6" width="156.19999999999993" height="166.4"/></clipPath>
<rect x="527.20" y="17.60" width="156.20" height="166.40" fill="none" stroke="#404040" stroke-width="0.9"/>
<line x1="553.23" y1="184.00" x2="553.23" y2="181.50" stroke="#404040" stroke-width="0.9" />
<line x1="553.23" y1="17.60" x2="553.23" y2="20.10" stroke="#404040" stroke-width="0.9" />
<text x="553.23" y="200.30" font-size="13.6" text-anchor="middle" fill="#262626" >0.6</text>
<line x1="605.30" y1="184.00" x2="605.30" y2="181.50" stroke="#404040" stroke-width="0.9" />
<line x1="605.30" y1="17.60" x2="605.30" y2="20.10" stroke="#404040" stroke-width="0.9" />
<text x="605.30" y="200.30" font-size="13.6" text-anchor="middle" fill="#262626" >1</text>
<line x1="657.37" y1="184.00" x2="657.37" y2="181.50" stroke="#404040" stroke-width="0.9" />
<line x1="657.37" y1="17.60" x2="657.37" y2="20.10" stroke="#404040" stroke-width="0.9" />
<text x="657.37" y="200.30" font-size="13.6" text-anchor="middle" fill="#262626" >1.4</text>
<line x1="527.20" y1="184.00" x2="529.70" y2="184.00" stroke="#404040" stroke-width="0.9" />
<line x1="683.40" y1="184.00" x2="680.90" y2="184.00" stroke="#404040" stroke-width="0.9" />
<line x1="527.20" y1="100.80" x2="529.70" y2="100.80" stroke="#404040" stroke-width="0.9" />
<line x1="683.40" y1="100.80" x2="680.90" y2="100.80" stroke="#404040" stroke-width="0.9" />
<line x1="527.20" y1="17.60" x2="529.70" y2="17.60" stroke="#404040" stroke-width="0.9" />
<line x1="683.40" y1="17.60" x2="680.90" y2="17.60" stroke="#404040" stroke-width="0.9" />
<text x="604.50" y="215.5" font-size="13.6" text-anchor="middle" fill="#262626"><tspan font-style="italic">Q</tspan>/π</text>
<text x="560.3" y="35.6" font-size="13.6" fill="#262626">region <tspan font-family="Liberation Serif" font-size="13.6">II (<tspan font-style="italic" font-size="14.2">m</tspan><tspan font-style="italic" font-size="7" dy="3.8" fill="#666">γ</tspan><tspan font-size="5" dy="1.2" fill="#666">0</tspan></tspan><tspan dy="-5">&gt;0)</tspan></text>
<text x="349.60" y="191.40" font-size="13.6" text-anchor="end" fill="#262626" >0.6</text>
<text x="347.30" y="104.85" font-size="13.6" text-anchor="end" fill="#262626" >1</text>
<text x="350.10" y="24.85" font-size="13.6" text-anchor="end" fill="#262626" >1.4</text>
<text transform="translate(333.8,101) rotate(-90)" font-size="14" text-anchor="middle" fill="#262626"><tspan font-style="italic">Re</tspan>(<tspan font-style="italic">θ</tspan>/π)</text>
<text x="309.30" y="15.20" font-size="17.5" text-anchor="start" fill="#000" font-weight="bold" >b</text>
<circle cx="386.5" cy="100.3" r="24" fill="url(#sph)"/>
<circle cx="391.78" cy="95.50" r="10.80" fill="url(#hl)"/>
<circle cx="381.22" cy="107.50" r="9.60" fill="url(#hl)"/>
<ellipse cx="386.5" cy="100.3" rx="23.04" ry="12.00" transform="rotate(-6 386.5 100.3)" stroke="#5a5a5a" stroke-width="0.65" stroke-dasharray="1.7,1.4" fill="none"/>
<ellipse cx="386.5" cy="100.3" rx="12.00" ry="23.04" transform="rotate(-14 386.5 100.3)" stroke="#5a5a5a" stroke-width="0.65" stroke-dasharray="1.7,1.4" fill="none"/>
<ellipse cx="386.5" cy="100.3" rx="23.04" ry="19.68" transform="rotate(38 386.5 100.3)" stroke="#5a5a5a" stroke-width="0.65" stroke-dasharray="1.7,1.4" fill="none" opacity="0.8"/>
<line x1="386.5" y1="100.3" x2="367.5" y2="105.6" stroke="#62bb50" stroke-width="2.1" marker-end="url(#ahG)"/>
<circle cx="476.5" cy="102.0" r="24" fill="url(#sph)"/>
<circle cx="481.78" cy="97.20" r="10.80" fill="url(#hl)"/>
<circle cx="471.22" cy="109.20" r="9.60" fill="url(#hl)"/>
<ellipse cx="476.5" cy="102.0" rx="23.04" ry="12.00" transform="rotate(-6 476.5 102.0)" stroke="#5a5a5a" stroke-width="0.65" stroke-dasharray="1.7,1.4" fill="none"/>
<ellipse cx="476.5" cy="102.0" rx="12.00" ry="23.04" transform="rotate(-14 476.5 102.0)" stroke="#5a5a5a" stroke-width="0.65" stroke-dasharray="1.7,1.4" fill="none"/>
<ellipse cx="476.5" cy="102.0" rx="23.04" ry="19.68" transform="rotate(38 476.5 102.0)" stroke="#5a5a5a" stroke-width="0.65" stroke-dasharray="1.7,1.4" fill="none" opacity="0.8"/>
<line x1="476.5" y1="102.0" x2="496.5" y2="96.2" stroke="#7e167e" stroke-width="2.1" marker-end="url(#ahP)"/>
<circle cx="558.5" cy="100.6" r="24" fill="url(#sph)"/>
<circle cx="563.78" cy="95.80" r="10.80" fill="url(#hl)"/>
<circle cx="553.22" cy="107.80" r="9.60" fill="url(#hl)"/>
<ellipse cx="558.5" cy="100.6" rx="23.04" ry="12.00" transform="rotate(-6 558.5 100.6)" stroke="#5a5a5a" stroke-width="0.65" stroke-dasharray="1.7,1.4" fill="none"/>
<ellipse cx="558.5" cy="100.6" rx="12.00" ry="23.04" transform="rotate(-14 558.5 100.6)" stroke="#5a5a5a" stroke-width="0.65" stroke-dasharray="1.7,1.4" fill="none"/>
<ellipse cx="558.5" cy="100.6" rx="23.04" ry="19.68" transform="rotate(38 558.5 100.6)" stroke="#5a5a5a" stroke-width="0.65" stroke-dasharray="1.7,1.4" fill="none" opacity="0.8"/>
<line x1="558.5" y1="100.6" x2="578.5" y2="94.8" stroke="#7e167e" stroke-width="2.1" marker-end="url(#ahP)"/>
<circle cx="652.9" cy="100.6" r="24" fill="url(#sph)"/>
<circle cx="658.18" cy="95.80" r="10.80" fill="url(#hl)"/>
<circle cx="647.62" cy="107.80" r="9.60" fill="url(#hl)"/>
<ellipse cx="652.9" cy="100.6" rx="23.04" ry="12.00" transform="rotate(-6 652.9 100.6)" stroke="#5a5a5a" stroke-width="0.65" stroke-dasharray="1.7,1.4" fill="none"/>
<ellipse cx="652.9" cy="100.6" rx="12.00" ry="23.04" transform="rotate(-14 652.9 100.6)" stroke="#5a5a5a" stroke-width="0.65" stroke-dasharray="1.7,1.4" fill="none"/>
<ellipse cx="652.9" cy="100.6" rx="23.04" ry="19.68" transform="rotate(38 652.9 100.6)" stroke="#5a5a5a" stroke-width="0.65" stroke-dasharray="1.7,1.4" fill="none" opacity="0.8"/>
<line x1="652.9" y1="100.6" x2="634" y2="106.0" stroke="#62bb50" stroke-width="2.1" marker-end="url(#ahG)"/>
<circle cx="421.3" cy="100.8" r="2.7" fill="#9a1a9a"/>
<circle cx="441.3" cy="100.8" r="2.7" fill="#6cc85a"/>
<circle cx="595.3" cy="100.8" r="2.7" fill="#6cc85a"/>
<circle cx="615.3" cy="100.8" r="2.7" fill="#9a1a9a"/>
<defs><linearGradient id="plateG" gradientUnits="userSpaceOnUse" x1="60" y1="200" x2="300" y2="120"><stop offset="0" stop-color="#d9d9d9"/><stop offset="0.6" stop-color="#e9e9e9"/><stop offset="1" stop-color="#fbfbfb"/></linearGradient><linearGradient id="frontG" gradientUnits="userSpaceOnUse" x1="50" y1="215" x2="322" y2="175"><stop offset="0" stop-color="#d4d4d4"/><stop offset="0.45" stop-color="#a8a8a8"/><stop offset="1" stop-color="#6f6f6f"/></linearGradient><linearGradient id="orG" gradientUnits="userSpaceOnUse" x1="30" y1="60" x2="230" y2="40"><stop offset="0" stop-color="#eab5a0"/><stop offset="1" stop-color="#f1c4b2"/></linearGradient><filter id="glow" x="-100%" y="-100%" width="300%" height="300%"><feGaussianBlur stdDeviation="1.6"/></filter><filter id="glow2" x="-50%" y="-50%" width="200%" height="200%"><feGaussianBlur stdDeviation="0.9"/></filter></defs>
<polygon points="49.9,213 322.5,170.7 320,179.6 50.7,222.5" fill="url(#frontG)"/>
<polygon points="29.90,33.80 190.10,23.10 322.50,170.70 49.90,213.00" fill="url(#plateG)"/>
<polygon points="29.90,33.80 190.10,23.10 238.80,75.70 36.70,94.60" fill="url(#orG)"/>
<path d="M40.35,39.99Q40.41,40.68 42.11,41.25L58.01,46.53Q59.72,47.10 59.79,47.82M43.11,58.74Q43.17,59.48 44.87,60.09L62.89,66.50Q64.58,67.11 64.67,67.88M46.37,80.95Q46.44,81.75 48.12,82.40L68.69,90.29Q70.37,90.94 70.47,91.77M50.29,107.68Q50.38,108.54 52.04,109.23L75.72,119.11Q77.38,119.80 77.51,120.70M55.10,140.44Q55.21,141.37 56.84,142.12L84.42,154.72Q86.05,155.47 86.21,156.45M61.12,181.54Q61.26,182.56 62.87,183.37L98.65,201.51M57.30,30.60L76.05,36.45Q77.77,36.98 77.84,37.69M63.07,47.51Q63.14,48.23 64.84,48.80L82.16,54.56Q83.87,55.12 83.96,55.88M67.89,67.54Q67.97,68.31 69.67,68.92L89.38,75.94Q91.07,76.54 91.18,77.36M73.63,91.39Q73.73,92.23 75.41,92.87L98.02,101.55Q99.70,102.20 99.84,103.08M80.58,120.28Q80.71,121.18 82.37,121.88L108.57,132.80Q110.23,133.49 110.39,134.45M89.17,155.99Q89.33,156.97 90.96,157.72L121.72,171.78Q123.35,172.53 123.56,173.56M81.13,37.34Q81.20,38.05 82.92,38.59L99.55,43.78Q101.27,44.31 101.37,45.06M87.20,55.50Q87.29,56.26 88.99,56.83L107.87,63.10Q109.58,63.67 109.69,64.47M94.35,76.93Q94.46,77.75 96.16,78.35L117.73,86.03Q119.43,86.64 119.57,87.50M102.93,102.61Q103.06,103.49 104.74,104.13L129.63,113.69Q131.31,114.33 131.49,115.26M113.39,133.93Q113.55,134.88 115.21,135.57L144.26,147.69Q145.92,148.38 146.13,149.38M126.42,172.99Q126.63,174.02 128.27,174.77L165.94,192.00M95.91,28.29L115.33,34.00Q117.05,34.51 117.15,35.24M104.61,44.64Q104.71,45.39 106.43,45.92L124.50,51.56Q126.22,52.10 126.34,52.88M112.88,64.01Q112.99,64.80 114.70,65.37L135.29,72.21Q137.00,72.78 137.14,73.62M122.68,86.98Q122.82,87.84 124.52,88.45L148.16,96.87Q149.86,97.47 150.04,98.38M134.50,114.69Q134.67,115.62 136.35,116.27L163.80,126.80Q165.48,127.45 165.70,128.43M149.02,148.76Q149.24,149.76 150.90,150.46L183.18,163.92Q184.84,164.61 185.12,165.67M120.41,34.80Q120.51,35.53 122.23,36.03L139.53,41.12Q141.26,41.63 141.39,42.40M129.53,52.38Q129.65,53.17 131.37,53.70L151.02,59.83Q152.74,60.37 152.89,61.19M140.26,73.08Q140.41,73.92 142.12,74.49L164.60,81.96Q166.31,82.52 166.49,83.41M153.07,97.77Q153.25,98.68 154.95,99.28L180.90,108.52Q182.60,109.13 182.83,110.09M168.61,127.76Q168.84,128.74 170.52,129.38L200.84,141.02Q202.52,141.67 202.82,142.70M187.88,164.94Q188.16,166.00 189.82,166.69L229.12,183.07M133.16,26.06L153.19,31.64Q154.93,32.13 155.06,32.88M144.59,41.88Q144.71,42.65 146.44,43.16L165.19,48.67Q166.92,49.18 167.08,49.99M156.02,60.61Q156.17,61.44 157.89,61.98L179.27,68.64Q180.99,69.18 181.18,70.05M169.53,82.77Q169.72,83.66 171.43,84.23L196.00,92.39Q197.71,92.96 197.95,93.90M185.76,109.37Q185.99,110.33 187.68,110.94L216.22,121.10Q217.91,121.70 218.21,122.72M205.59,141.92Q205.89,142.96 207.57,143.60L241.15,156.49Q242.83,157.14 243.20,158.23M158.27,32.34Q158.39,33.09 160.13,33.58L178.04,38.56Q179.77,39.05 179.93,39.85M170.22,49.38Q170.37,50.20 172.10,50.70L192.44,56.69Q194.17,57.20 194.37,58.06M184.23,69.38Q184.42,70.25 186.14,70.79L209.42,78.05Q211.14,78.59 211.38,79.51M200.88,93.15Q201.12,94.09 202.83,94.66L229.72,103.60Q231.43,104.17 231.74,105.17M221.01,121.89Q221.31,122.91 223.00,123.51L254.43,134.70Q256.13,135.31 256.51,136.38M245.82,157.34Q246.19,158.43 247.87,159.07L288.53,174.68M169.14,23.91L189.72,29.36Q191.46,29.82 191.63,30.61M183.08,39.21Q183.24,40.01 184.97,40.50L204.34,45.89Q206.08,46.38 206.28,47.22M197.43,57.35Q197.62,58.21 199.35,58.72L221.43,65.22Q223.16,65.73 223.41,66.64M214.33,78.73Q214.57,79.66 216.29,80.19L241.68,88.11Q243.40,88.65 243.71,89.63M234.54,104.31Q234.85,105.30 236.56,105.87L266.04,115.67Q267.75,116.24 268.13,117.29M259.14,135.44Q259.52,136.52 261.22,137.12L295.92,149.47Q297.62,150.08 298.09,151.20" stroke="#f07078" stroke-width="4" fill="none" opacity="0.16" transform="translate(0,1.8)"/>
<path d="M40.35,39.99Q40.41,40.68 42.11,41.25L58.01,46.53Q59.72,47.10 59.79,47.82M43.11,58.74Q43.17,59.48 44.87,60.09L62.89,66.50Q64.58,67.11 64.67,67.88M46.37,80.95Q46.44,81.75 48.12,82.40L68.69,90.29Q70.37,90.94 70.47,91.77M50.29,107.68Q50.38,108.54 52.04,109.23L75.72,119.11Q77.38,119.80 77.51,120.70M55.10,140.44Q55.21,141.37 56.84,142.12L84.42,154.72Q86.05,155.47 86.21,156.45M61.12,181.54Q61.26,182.56 62.87,183.37L98.65,201.51M57.30,30.60L76.05,36.45Q77.77,36.98 77.84,37.69M63.07,47.51Q63.14,48.23 64.84,48.80L82.16,54.56Q83.87,55.12 83.96,55.88M67.89,67.54Q67.97,68.31 69.67,68.92L89.38,75.94Q91.07,76.54 91.18,77.36M73.63,91.39Q73.73,92.23 75.41,92.87L98.02,101.55Q99.70,102.20 99.84,103.08M80.58,120.28Q80.71,121.18 82.37,121.88L108.57,132.80Q110.23,133.49 110.39,134.45M89.17,155.99Q89.33,156.97 90.96,157.72L121.72,171.78Q123.35,172.53 123.56,173.56M81.13,37.34Q81.20,38.05 82.92,38.59L99.55,43.78Q101.27,44.31 101.37,45.06M87.20,55.50Q87.29,56.26 88.99,56.83L107.87,63.10Q109.58,63.67 109.69,64.47M94.35,76.93Q94.46,77.75 96.16,78.35L117.73,86.03Q119.43,86.64 119.57,87.50M102.93,102.61Q103.06,103.49 104.74,104.13L129.63,113.69Q131.31,114.33 131.49,115.26M113.39,133.93Q113.55,134.88 115.21,135.57L144.26,147.69Q145.92,148.38 146.13,149.38M126.42,172.99Q126.63,174.02 128.27,174.77L165.94,192.00M95.91,28.29L115.33,34.00Q117.05,34.51 117.15,35.24M104.61,44.64Q104.71,45.39 106.43,45.92L124.50,51.56Q126.22,52.10 126.34,52.88M112.88,64.01Q112.99,64.80 114.70,65.37L135.29,72.21Q137.00,72.78 137.14,73.62M122.68,86.98Q122.82,87.84 124.52,88.45L148.16,96.87Q149.86,97.47 150.04,98.38M134.50,114.69Q134.67,115.62 136.35,116.27L163.80,126.80Q165.48,127.45 165.70,128.43M149.02,148.76Q149.24,149.76 150.90,150.46L183.18,163.92Q184.84,164.61 185.12,165.67M120.41,34.80Q120.51,35.53 122.23,36.03L139.53,41.12Q141.26,41.63 141.39,42.40M129.53,52.38Q129.65,53.17 131.37,53.70L151.02,59.83Q152.74,60.37 152.89,61.19M140.26,73.08Q140.41,73.92 142.12,74.49L164.60,81.96Q166.31,82.52 166.49,83.41M153.07,97.77Q153.25,98.68 154.95,99.28L180.90,108.52Q182.60,109.13 182.83,110.09M168.61,127.76Q168.84,128.74 170.52,129.38L200.84,141.02Q202.52,141.67 202.82,142.70M187.88,164.94Q188.16,166.00 189.82,166.69L229.12,183.07M133.16,26.06L153.19,31.64Q154.93,32.13 155.06,32.88M144.59,41.88Q144.71,42.65 146.44,43.16L165.19,48.67Q166.92,49.18 167.08,49.99M156.02,60.61Q156.17,61.44 157.89,61.98L179.27,68.64Q180.99,69.18 181.18,70.05M169.53,82.77Q169.72,83.66 171.43,84.23L196.00,92.39Q197.71,92.96 197.95,93.90M185.76,109.37Q185.99,110.33 187.68,110.94L216.22,121.10Q217.91,121.70 218.21,122.72M205.59,141.92Q205.89,142.96 207.57,143.60L241.15,156.49Q242.83,157.14 243.20,158.23M158.27,32.34Q158.39,33.09 160.13,33.58L178.04,38.56Q179.77,39.05 179.93,39.85M170.22,49.38Q170.37,50.20 172.10,50.70L192.44,56.69Q194.17,57.20 194.37,58.06M184.23,69.38Q184.42,70.25 186.14,70.79L209.42,78.05Q211.14,78.59 211.38,79.51M200.88,93.15Q201.12,94.09 202.83,94.66L229.72,103.60Q231.43,104.17 231.74,105.17M221.01,121.89Q221.31,122.91 223.00,123.51L254.43,134.70Q256.13,135.31 256.51,136.38M245.82,157.34Q246.19,158.43 247.87,159.07L288.53,174.68M169.14,23.91L189.72,29.36Q191.46,29.82 191.63,30.61M183.08,39.21Q183.24,40.01 184.97,40.50L204.34,45.89Q206.08,46.38 206.28,47.22M197.43,57.35Q197.62,58.21 199.35,58.72L221.43,65.22Q223.16,65.73 223.41,66.64M214.33,78.73Q214.57,79.66 216.29,80.19L241.68,88.11Q243.40,88.65 243.71,89.63M234.54,104.31Q234.85,105.30 236.56,105.87L266.04,115.67Q267.75,116.24 268.13,117.29M259.14,135.44Q259.52,136.52 261.22,137.12L295.92,149.47Q297.62,150.08 298.09,151.20" stroke="#f07078" stroke-width="1.0" fill="none" opacity="0.8" transform="translate(0,2.3)"/>
<path d="M40.35,39.99Q40.41,40.68 42.11,41.25L58.01,46.53Q59.72,47.10 59.79,47.82M43.11,58.74Q43.17,59.48 44.87,60.09L62.89,66.50Q64.58,67.11 64.67,67.88M46.37,80.95Q46.44,81.75 48.12,82.40L68.69,90.29Q70.37,90.94 70.47,91.77M50.29,107.68Q50.38,108.54 52.04,109.23L75.72,119.11Q77.38,119.80 77.51,120.70M55.10,140.44Q55.21,141.37 56.84,142.12L84.42,154.72Q86.05,155.47 86.21,156.45M61.12,181.54Q61.26,182.56 62.87,183.37L98.65,201.51M57.30,30.60L76.05,36.45Q77.77,36.98 77.84,37.69M63.07,47.51Q63.14,48.23 64.84,48.80L82.16,54.56Q83.87,55.12 83.96,55.88M67.89,67.54Q67.97,68.31 69.67,68.92L89.38,75.94Q91.07,76.54 91.18,77.36M73.63,91.39Q73.73,92.23 75.41,92.87L98.02,101.55Q99.70,102.20 99.84,103.08M80.58,120.28Q80.71,121.18 82.37,121.88L108.57,132.80Q110.23,133.49 110.39,134.45M89.17,155.99Q89.33,156.97 90.96,157.72L121.72,171.78Q123.35,172.53 123.56,173.56M81.13,37.34Q81.20,38.05 82.92,38.59L99.55,43.78Q101.27,44.31 101.37,45.06M87.20,55.50Q87.29,56.26 88.99,56.83L107.87,63.10Q109.58,63.67 109.69,64.47M94.35,76.93Q94.46,77.75 96.16,78.35L117.73,86.03Q119.43,86.64 119.57,87.50M102.93,102.61Q103.06,103.49 104.74,104.13L129.63,113.69Q131.31,114.33 131.49,115.26M113.39,133.93Q113.55,134.88 115.21,135.57L144.26,147.69Q145.92,148.38 146.13,149.38M126.42,172.99Q126.63,174.02 128.27,174.77L165.94,192.00M95.91,28.29L115.33,34.00Q117.05,34.51 117.15,35.24M104.61,44.64Q104.71,45.39 106.43,45.92L124.50,51.56Q126.22,52.10 126.34,52.88M112.88,64.01Q112.99,64.80 114.70,65.37L135.29,72.21Q137.00,72.78 137.14,73.62M122.68,86.98Q122.82,87.84 124.52,88.45L148.16,96.87Q149.86,97.47 150.04,98.38M134.50,114.69Q134.67,115.62 136.35,116.27L163.80,126.80Q165.48,127.45 165.70,128.43M149.02,148.76Q149.24,149.76 150.90,150.46L183.18,163.92Q184.84,164.61 185.12,165.67M120.41,34.80Q120.51,35.53 122.23,36.03L139.53,41.12Q141.26,41.63 141.39,42.40M129.53,52.38Q129.65,53.17 131.37,53.70L151.02,59.83Q152.74,60.37 152.89,61.19M140.26,73.08Q140.41,73.92 142.12,74.49L164.60,81.96Q166.31,82.52 166.49,83.41M153.07,97.77Q153.25,98.68 154.95,99.28L180.90,108.52Q182.60,109.13 182.83,110.09M168.61,127.76Q168.84,128.74 170.52,129.38L200.84,141.02Q202.52,141.67 202.82,142.70M187.88,164.94Q188.16,166.00 189.82,166.69L229.12,183.07M133.16,26.06L153.19,31.64Q154.93,32.13 155.06,32.88M144.59,41.88Q144.71,42.65 146.44,43.16L165.19,48.67Q166.92,49.18 167.08,49.99M156.02,60.61Q156.17,61.44 157.89,61.98L179.27,68.64Q180.99,69.18 181.18,70.05M169.53,82.77Q169.72,83.66 171.43,84.23L196.00,92.39Q197.71,92.96 197.95,93.90M185.76,109.37Q185.99,110.33 187.68,110.94L216.22,121.10Q217.91,121.70 218.21,122.72M205.59,141.92Q205.89,142.96 207.57,143.60L241.15,156.49Q242.83,157.14 243.20,158.23M158.27,32.34Q158.39,33.09 160.13,33.58L178.04,38.56Q179.77,39.05 179.93,39.85M170.22,49.38Q170.37,50.20 172.10,50.70L192.44,56.69Q194.17,57.20 194.37,58.06M184.23,69.38Q184.42,70.25 186.14,70.79L209.42,78.05Q211.14,78.59 211.38,79.51M200.88,93.15Q201.12,94.09 202.83,94.66L229.72,103.60Q231.43,104.17 231.74,105.17M221.01,121.89Q221.31,122.91 223.00,123.51L254.43,134.70Q256.13,135.31 256.51,136.38M245.82,157.34Q246.19,158.43 247.87,159.07L288.53,174.68M169.14,23.91L189.72,29.36Q191.46,29.82 191.63,30.61M183.08,39.21Q183.24,40.01 184.97,40.50L204.34,45.89Q206.08,46.38 206.28,47.22M197.43,57.35Q197.62,58.21 199.35,58.72L221.43,65.22Q223.16,65.73 223.41,66.64M214.33,78.73Q214.57,79.66 216.29,80.19L241.68,88.11Q243.40,88.65 243.71,89.63M234.54,104.31Q234.85,105.30 236.56,105.87L266.04,115.67Q267.75,116.24 268.13,117.29M259.14,135.44Q259.52,136.52 261.22,137.12L295.92,149.47Q297.62,150.08 298.09,151.20" stroke="#e3202c" stroke-width="1.5" fill="none" stroke-linecap="round"/>
<path d="M57.30,30.60L41.90,38.47Q40.30,39.29 40.35,39.99M59.79,47.82Q59.86,48.55 58.29,49.43L44.61,57.12Q43.04,58.00 43.11,58.74M64.67,67.88Q64.75,68.66 63.22,69.61L47.82,79.20Q46.29,80.16 46.37,80.95M70.47,91.77Q70.58,92.61 69.10,93.64L51.67,105.79Q50.20,106.81 50.29,107.68M77.51,120.70Q77.63,121.61 76.22,122.72L56.40,138.39Q54.98,139.50 55.10,140.44M86.21,156.45Q86.36,157.43 85.03,158.64L62.32,179.32Q60.99,180.53 61.12,181.54M77.84,37.69Q77.92,38.40 76.35,39.28L64.57,45.90Q63.00,46.78 63.07,47.51M83.96,55.88Q84.05,56.64 82.52,57.60L69.33,65.81Q67.81,66.76 67.89,67.54M91.18,77.36Q91.29,78.17 89.81,79.20L75.01,89.52Q73.53,90.55 73.63,91.39M99.84,103.08Q99.97,103.96 98.56,105.07L81.87,118.26Q80.46,119.37 80.58,120.28M110.39,134.45Q110.56,135.40 109.23,136.61L90.35,153.80Q89.02,155.01 89.17,155.99M123.56,173.56Q123.76,174.59 122.54,175.91L98.65,201.51M95.91,28.29L82.62,35.75Q81.05,36.64 81.13,37.34M101.37,45.06Q101.46,45.80 99.93,46.75L88.63,53.79Q87.11,54.74 87.20,55.50M109.69,64.47Q109.81,65.27 108.33,66.29L95.72,75.08Q94.24,76.11 94.35,76.93M119.57,87.50Q119.71,88.36 118.30,89.47L104.21,100.61Q102.79,101.72 102.93,102.61M131.49,115.26Q131.66,116.19 130.33,117.40L114.55,131.76Q113.22,132.98 113.39,133.93M146.13,149.38Q146.35,150.39 145.12,151.70L127.45,170.64Q126.22,171.96 126.42,172.99M117.15,35.24Q117.25,35.97 115.72,36.92L106.05,42.95Q104.52,43.90 104.61,44.64M126.34,52.88Q126.46,53.66 124.98,54.69L114.24,62.18Q112.76,63.21 112.88,64.01M137.14,73.62Q137.29,74.47 135.88,75.58L123.95,85.01Q122.54,86.12 122.68,86.98M150.04,98.38Q150.22,99.29 148.89,100.50L135.65,112.55Q134.32,113.76 134.50,114.69M165.70,128.43Q165.93,129.41 164.70,130.72L150.04,146.44Q148.81,147.76 149.02,148.76M185.12,165.67Q185.40,166.73 184.30,168.16L165.94,192.00M133.16,26.06L121.84,33.12Q120.31,34.07 120.41,34.80M141.39,42.40Q141.51,43.17 140.03,44.20L130.89,50.57Q129.41,51.60 129.53,52.38M152.89,61.19Q153.04,62.02 151.63,63.14L141.53,71.12Q140.12,72.23 140.26,73.08M166.49,83.41Q166.68,84.30 165.35,85.51L154.22,95.65Q152.89,96.86 153.07,97.77M182.83,110.09Q183.07,111.05 181.84,112.36L169.61,125.46Q168.39,126.77 168.61,127.76M202.82,142.70Q203.11,143.74 202.01,145.16L188.70,162.45Q187.60,163.88 187.88,164.94M155.06,32.88Q155.18,33.64 153.71,34.67L145.94,40.08Q144.46,41.11 144.59,41.88M167.08,49.99Q167.24,50.80 165.82,51.92L157.28,58.67Q155.87,59.79 156.02,60.61M181.18,70.05Q181.37,70.93 180.04,72.14L170.68,80.67Q169.34,81.88 169.53,82.77M197.95,93.90Q198.19,94.84 196.96,96.16L186.75,107.10Q185.52,108.41 185.76,109.37M218.21,122.72Q218.51,123.73 217.41,125.16L206.40,139.46Q205.30,140.89 205.59,141.92M243.20,158.23Q243.57,159.32 242.64,160.86L229.12,183.07M169.14,23.91L159.61,30.55Q158.14,31.58 158.27,32.34M179.93,39.85Q180.09,40.65 178.68,41.76L171.47,47.46Q170.06,48.57 170.22,49.38M194.37,58.06Q194.57,58.92 193.23,60.13L185.37,67.29Q184.03,68.50 184.23,69.38M211.38,79.51Q211.63,80.44 210.40,81.75L201.87,90.90Q200.64,92.21 200.88,93.15M231.74,105.17Q232.04,106.16 230.94,107.59L221.81,119.45Q220.71,120.88 221.01,121.89M256.51,136.38Q256.89,137.45 255.95,138.99L246.38,154.71Q245.45,156.25 245.82,157.34M191.63,30.61Q191.79,31.40 190.38,32.52L184.33,37.30Q182.92,38.41 183.08,39.21M206.28,47.22Q206.48,48.07 205.15,49.28L198.56,55.28Q197.23,56.49 197.43,57.35M223.41,66.64Q223.66,67.55 222.43,68.87L215.31,76.49Q214.08,77.81 214.33,78.73M243.71,89.63Q244.02,90.61 242.92,92.04L235.34,101.88Q234.24,103.31 234.54,104.31M268.13,117.29Q268.52,118.34 267.58,119.88L259.70,132.84Q258.76,134.37 259.14,135.44M298.09,151.20Q298.57,152.32 297.84,153.97L288.53,174.68" stroke="#7070f0" stroke-width="4" fill="none" opacity="0.16" transform="translate(0,1.8)"/>
<path d="M57.30,30.60L41.90,38.47Q40.30,39.29 40.35,39.99M59.79,47.82Q59.86,48.55 58.29,49.43L44.61,57.12Q43.04,58.00 43.11,58.74M64.67,67.88Q64.75,68.66 63.22,69.61L47.82,79.20Q46.29,80.16 46.37,80.95M70.47,91.77Q70.58,92.61 69.10,93.64L51.67,105.79Q50.20,106.81 50.29,107.68M77.51,120.70Q77.63,121.61 76.22,122.72L56.40,138.39Q54.98,139.50 55.10,140.44M86.21,156.45Q86.36,157.43 85.03,158.64L62.32,179.32Q60.99,180.53 61.12,181.54M77.84,37.69Q77.92,38.40 76.35,39.28L64.57,45.90Q63.00,46.78 63.07,47.51M83.96,55.88Q84.05,56.64 82.52,57.60L69.33,65.81Q67.81,66.76 67.89,67.54M91.18,77.36Q91.29,78.17 89.81,79.20L75.01,89.52Q73.53,90.55 73.63,91.39M99.84,103.08Q99.97,103.96 98.56,105.07L81.87,118.26Q80.46,119.37 80.58,120.28M110.39,134.45Q110.56,135.40 109.23,136.61L90.35,153.80Q89.02,155.01 89.17,155.99M123.56,173.56Q123.76,174.59 122.54,175.91L98.65,201.51M95.91,28.29L82.62,35.75Q81.05,36.64 81.13,37.34M101.37,45.06Q101.46,45.80 99.93,46.75L88.63,53.79Q87.11,54.74 87.20,55.50M109.69,64.47Q109.81,65.27 108.33,66.29L95.72,75.08Q94.24,76.11 94.35,76.93M119.57,87.50Q119.71,88.36 118.30,89.47L104.21,100.61Q102.79,101.72 102.93,102.61M131.49,115.26Q131.66,116.19 130.33,117.40L114.55,131.76Q113.22,132.98 113.39,133.93M146.13,149.38Q146.35,150.39 145.12,151.70L127.45,170.64Q126.22,171.96 126.42,172.99M117.15,35.24Q117.25,35.97 115.72,36.92L106.05,42.95Q104.52,43.90 104.61,44.64M126.34,52.88Q126.46,53.66 124.98,54.69L114.24,62.18Q112.76,63.21 112.88,64.01M137.14,73.62Q137.29,74.47 135.88,75.58L123.95,85.01Q122.54,86.12 122.68,86.98M150.04,98.38Q150.22,99.29 148.89,100.50L135.65,112.55Q134.32,113.76 134.50,114.69M165.70,128.43Q165.93,129.41 164.70,130.72L150.04,146.44Q148.81,147.76 149.02,148.76M185.12,165.67Q185.40,166.73 184.30,168.16L165.94,192.00M133.16,26.06L121.84,33.12Q120.31,34.07 120.41,34.80M141.39,42.40Q141.51,43.17 140.03,44.20L130.89,50.57Q129.41,51.60 129.53,52.38M152.89,61.19Q153.04,62.02 151.63,63.14L141.53,71.12Q140.12,72.23 140.26,73.08M166.49,83.41Q166.68,84.30 165.35,85.51L154.22,95.65Q152.89,96.86 153.07,97.77M182.83,110.09Q183.07,111.05 181.84,112.36L169.61,125.46Q168.39,126.77 168.61,127.76M202.82,142.70Q203.11,143.74 202.01,145.16L188.70,162.45Q187.60,163.88 187.88,164.94M155.06,32.88Q155.18,33.64 153.71,34.67L145.94,40.08Q144.46,41.11 144.59,41.88M167.08,49.99Q167.24,50.80 165.82,51.92L157.28,58.67Q155.87,59.79 156.02,60.61M181.18,70.05Q181.37,70.93 180.04,72.14L170.68,80.67Q169.34,81.88 169.53,82.77M197.95,93.90Q198.19,94.84 196.96,96.16L186.75,107.10Q185.52,108.41 185.76,109.37M218.21,122.72Q218.51,123.73 217.41,125.16L206.40,139.46Q205.30,140.89 205.59,141.92M243.20,158.23Q243.57,159.32 242.64,160.86L229.12,183.07M169.14,23.91L159.61,30.55Q158.14,31.58 158.27,32.34M179.93,39.85Q180.09,40.65 178.68,41.76L171.47,47.46Q170.06,48.57 170.22,49.38M194.37,58.06Q194.57,58.92 193.23,60.13L185.37,67.29Q184.03,68.50 184.23,69.38M211.38,79.51Q211.63,80.44 210.40,81.75L201.87,90.90Q200.64,92.21 200.88,93.15M231.74,105.17Q232.04,106.16 230.94,107.59L221.81,119.45Q220.71,120.88 221.01,121.89M256.51,136.38Q256.89,137.45 255.95,138.99L246.38,154.71Q245.45,156.25 245.82,157.34M191.63,30.61Q191.79,31.40 190.38,32.52L184.33,37.30Q182.92,38.41 183.08,39.21M206.28,47.22Q206.48,48.07 205.15,49.28L198.56,55.28Q197.23,56.49 197.43,57.35M223.41,66.64Q223.66,67.55 222.43,68.87L215.31,76.49Q214.08,77.81 214.33,78.73M243.71,89.63Q244.02,90.61 242.92,92.04L235.34,101.88Q234.24,103.31 234.54,104.31M268.13,117.29Q268.52,118.34 267.58,119.88L259.70,132.84Q258.76,134.37 259.14,135.44M298.09,151.20Q298.57,152.32 297.84,153.97L288.53,174.68" stroke="#7070f0" stroke-width="1.0" fill="none" opacity="0.8" transform="translate(0,2.3)"/>
<path d="M57.30,30.60L41.90,38.47Q40.30,39.29 40.35,39.99M59.79,47.82Q59.86,48.55 58.29,49.43L44.61,57.12Q43.04,58.00 43.11,58.74M64.67,67.88Q64.75,68.66 63.22,69.61L47.82,79.20Q46.29,80.16 46.37,80.95M70.47,91.77Q70.58,92.61 69.10,93.64L51.67,105.79Q50.20,106.81 50.29,107.68M77.51,120.70Q77.63,121.61 76.22,122.72L56.40,138.39Q54.98,139.50 55.10,140.44M86.21,156.45Q86.36,157.43 85.03,158.64L62.32,179.32Q60.99,180.53 61.12,181.54M77.84,37.69Q77.92,38.40 76.35,39.28L64.57,45.90Q63.00,46.78 63.07,47.51M83.96,55.88Q84.05,56.64 82.52,57.60L69.33,65.81Q67.81,66.76 67.89,67.54M91.18,77.36Q91.29,78.17 89.81,79.20L75.01,89.52Q73.53,90.55 73.63,91.39M99.84,103.08Q99.97,103.96 98.56,105.07L81.87,118.26Q80.46,119.37 80.58,120.28M110.39,134.45Q110.56,135.40 109.23,136.61L90.35,153.80Q89.02,155.01 89.17,155.99M123.56,173.56Q123.76,174.59 122.54,175.91L98.65,201.51M95.91,28.29L82.62,35.75Q81.05,36.64 81.13,37.34M101.37,45.06Q101.46,45.80 99.93,46.75L88.63,53.79Q87.11,54.74 87.20,55.50M109.69,64.47Q109.81,65.27 108.33,66.29L95.72,75.08Q94.24,76.11 94.35,76.93M119.57,87.50Q119.71,88.36 118.30,89.47L104.21,100.61Q102.79,101.72 102.93,102.61M131.49,115.26Q131.66,116.19 130.33,117.40L114.55,131.76Q113.22,132.98 113.39,133.93M146.13,149.38Q146.35,150.39 145.12,151.70L127.45,170.64Q126.22,171.96 126.42,172.99M117.15,35.24Q117.25,35.97 115.72,36.92L106.05,42.95Q104.52,43.90 104.61,44.64M126.34,52.88Q126.46,53.66 124.98,54.69L114.24,62.18Q112.76,63.21 112.88,64.01M137.14,73.62Q137.29,74.47 135.88,75.58L123.95,85.01Q122.54,86.12 122.68,86.98M150.04,98.38Q150.22,99.29 148.89,100.50L135.65,112.55Q134.32,113.76 134.50,114.69M165.70,128.43Q165.93,129.41 164.70,130.72L150.04,146.44Q148.81,147.76 149.02,148.76M185.12,165.67Q185.40,166.73 184.30,168.16L165.94,192.00M133.16,26.06L121.84,33.12Q120.31,34.07 120.41,34.80M141.39,42.40Q141.51,43.17 140.03,44.20L130.89,50.57Q129.41,51.60 129.53,52.38M152.89,61.19Q153.04,62.02 151.63,63.14L141.53,71.12Q140.12,72.23 140.26,73.08M166.49,83.41Q166.68,84.30 165.35,85.51L154.22,95.65Q152.89,96.86 153.07,97.77M182.83,110.09Q183.07,111.05 181.84,112.36L169.61,125.46Q168.39,126.77 168.61,127.76M202.82,142.70Q203.11,143.74 202.01,145.16L188.70,162.45Q187.60,163.88 187.88,164.94M155.06,32.88Q155.18,33.64 153.71,34.67L145.94,40.08Q144.46,41.11 144.59,41.88M167.08,49.99Q167.24,50.80 165.82,51.92L157.28,58.67Q155.87,59.79 156.02,60.61M181.18,70.05Q181.37,70.93 180.04,72.14L170.68,80.67Q169.34,81.88 169.53,82.77M197.95,93.90Q198.19,94.84 196.96,96.16L186.75,107.10Q185.52,108.41 185.76,109.37M218.21,122.72Q218.51,123.73 217.41,125.16L206.40,139.46Q205.30,140.89 205.59,141.92M243.20,158.23Q243.57,159.32 242.64,160.86L229.12,183.07M169.14,23.91L159.61,30.55Q158.14,31.58 158.27,32.34M179.93,39.85Q180.09,40.65 178.68,41.76L171.47,47.46Q170.06,48.57 170.22,49.38M194.37,58.06Q194.57,58.92 193.23,60.13L185.37,67.29Q184.03,68.50 184.23,69.38M211.38,79.51Q211.63,80.44 210.40,81.75L201.87,90.90Q200.64,92.21 200.88,93.15M231.74,105.17Q232.04,106.16 230.94,107.59L221.81,119.45Q220.71,120.88 221.01,121.89M256.51,136.38Q256.89,137.45 255.95,138.99L246.38,154.71Q245.45,156.25 245.82,157.34M191.63,30.61Q191.79,31.40 190.38,32.52L184.33,37.30Q182.92,38.41 183.08,39.21M206.28,47.22Q206.48,48.07 205.15,49.28L198.56,55.28Q197.23,56.49 197.43,57.35M223.41,66.64Q223.66,67.55 222.43,68.87L215.31,76.49Q214.08,77.81 214.33,78.73M243.71,89.63Q244.02,90.61 242.92,92.04L235.34,101.88Q234.24,103.31 234.54,104.31M268.13,117.29Q268.52,118.34 267.58,119.88L259.70,132.84Q258.76,134.37 259.14,135.44M298.09,151.20Q298.57,152.32 297.84,153.97L288.53,174.68" stroke="#2222e4" stroke-width="1.75" fill="none" stroke-linecap="round"/>
<ellipse cx="48.22" cy="35.24" rx="3.84" ry="2.72" fill="#4ccc22" opacity="0.9" filter="url(#glow)"/>
<ellipse cx="48.22" cy="35.24" rx="2.0" ry="1.5" fill="#4ccc22" opacity="0.8" filter="url(#glow2)"/>
<ellipse cx="87.89" cy="32.80" rx="3.84" ry="2.72" fill="#4ccc22" opacity="0.9" filter="url(#glow)"/>
<ellipse cx="87.89" cy="32.80" rx="2.0" ry="1.5" fill="#4ccc22" opacity="0.8" filter="url(#glow2)"/>
<ellipse cx="126.13" cy="30.44" rx="3.84" ry="2.72" fill="#4ccc22" opacity="0.9" filter="url(#glow)"/>
<ellipse cx="126.13" cy="30.44" rx="2.0" ry="1.5" fill="#4ccc22" opacity="0.8" filter="url(#glow2)"/>
<ellipse cx="163.04" cy="28.16" rx="3.84" ry="2.72" fill="#4ccc22" opacity="0.9" filter="url(#glow)"/>
<ellipse cx="163.04" cy="28.16" rx="2.0" ry="1.5" fill="#4ccc22" opacity="0.8" filter="url(#glow2)"/>
<ellipse cx="70.68" cy="42.47" rx="3.84" ry="2.72" fill="#f0501a" opacity="0.9" filter="url(#glow)"/>
<ellipse cx="70.68" cy="42.47" rx="2.0" ry="1.5" fill="#f0501a" opacity="0.8" filter="url(#glow2)"/>
<ellipse cx="111.07" cy="39.82" rx="3.84" ry="2.72" fill="#f0501a" opacity="0.9" filter="url(#glow)"/>
<ellipse cx="111.07" cy="39.82" rx="2.0" ry="1.5" fill="#f0501a" opacity="0.8" filter="url(#glow2)"/>
<ellipse cx="149.98" cy="37.26" rx="3.84" ry="2.72" fill="#f0501a" opacity="0.9" filter="url(#glow)"/>
<ellipse cx="149.98" cy="37.26" rx="2.0" ry="1.5" fill="#f0501a" opacity="0.8" filter="url(#glow2)"/>
<ellipse cx="187.49" cy="34.80" rx="3.84" ry="2.72" fill="#f0501a" opacity="0.9" filter="url(#glow)"/>
<ellipse cx="187.49" cy="34.80" rx="2.0" ry="1.5" fill="#f0501a" opacity="0.8" filter="url(#glow2)"/>
<ellipse cx="51.71" cy="53.13" rx="3.84" ry="2.72" fill="#4ccc22" opacity="0.9" filter="url(#glow)"/>
<ellipse cx="51.71" cy="53.13" rx="2.0" ry="1.5" fill="#4ccc22" opacity="0.8" filter="url(#glow2)"/>
<ellipse cx="94.50" cy="50.14" rx="3.84" ry="2.72" fill="#4ccc22" opacity="0.9" filter="url(#glow)"/>
<ellipse cx="94.50" cy="50.14" rx="2.0" ry="1.5" fill="#4ccc22" opacity="0.8" filter="url(#glow2)"/>
<ellipse cx="135.65" cy="47.26" rx="3.84" ry="2.72" fill="#4ccc22" opacity="0.9" filter="url(#glow)"/>
<ellipse cx="135.65" cy="47.26" rx="2.0" ry="1.5" fill="#4ccc22" opacity="0.8" filter="url(#glow2)"/>
<ellipse cx="175.23" cy="44.49" rx="3.84" ry="2.72" fill="#4ccc22" opacity="0.9" filter="url(#glow)"/>
<ellipse cx="175.23" cy="44.49" rx="2.0" ry="1.5" fill="#4ccc22" opacity="0.8" filter="url(#glow2)"/>
<ellipse cx="76.18" cy="61.54" rx="3.84" ry="2.72" fill="#f0501a" opacity="0.9" filter="url(#glow)"/>
<ellipse cx="76.18" cy="61.54" rx="2.0" ry="1.5" fill="#f0501a" opacity="0.8" filter="url(#glow2)"/>
<ellipse cx="119.82" cy="58.28" rx="3.84" ry="2.72" fill="#f0501a" opacity="0.9" filter="url(#glow)"/>
<ellipse cx="119.82" cy="58.28" rx="2.0" ry="1.5" fill="#f0501a" opacity="0.8" filter="url(#glow2)"/>
<ellipse cx="161.73" cy="55.15" rx="3.84" ry="2.72" fill="#f0501a" opacity="0.9" filter="url(#glow)"/>
<ellipse cx="161.73" cy="55.15" rx="2.0" ry="1.5" fill="#f0501a" opacity="0.8" filter="url(#glow2)"/>
<ellipse cx="202.00" cy="52.15" rx="3.84" ry="2.72" fill="#f0501a" opacity="0.9" filter="url(#glow)"/>
<ellipse cx="202.00" cy="52.15" rx="2.0" ry="1.5" fill="#f0501a" opacity="0.8" filter="url(#glow2)"/>
<ellipse cx="55.82" cy="74.22" rx="3.84" ry="2.72" fill="#4ccc22" opacity="0.9" filter="url(#glow)"/>
<ellipse cx="55.82" cy="74.22" rx="2.0" ry="1.5" fill="#4ccc22" opacity="0.8" filter="url(#glow2)"/>
<ellipse cx="102.28" cy="70.51" rx="3.84" ry="2.72" fill="#4ccc22" opacity="0.9" filter="url(#glow)"/>
<ellipse cx="102.28" cy="70.51" rx="2.0" ry="1.5" fill="#4ccc22" opacity="0.8" filter="url(#glow2)"/>
<ellipse cx="146.79" cy="66.96" rx="3.84" ry="2.72" fill="#4ccc22" opacity="0.9" filter="url(#glow)"/>
<ellipse cx="146.79" cy="66.96" rx="2.0" ry="1.5" fill="#4ccc22" opacity="0.8" filter="url(#glow2)"/>
<ellipse cx="189.47" cy="63.55" rx="3.84" ry="2.72" fill="#4ccc22" opacity="0.9" filter="url(#glow)"/>
<ellipse cx="189.47" cy="63.55" rx="2.0" ry="1.5" fill="#4ccc22" opacity="0.8" filter="url(#glow2)"/>
<ellipse cx="82.71" cy="84.15" rx="3.84" ry="2.72" fill="#f0501a" opacity="0.9" filter="url(#glow)"/>
<ellipse cx="82.71" cy="84.15" rx="2.0" ry="1.5" fill="#f0501a" opacity="0.8" filter="url(#glow2)"/>
<ellipse cx="130.16" cy="80.10" rx="3.84" ry="2.72" fill="#f0501a" opacity="0.9" filter="url(#glow)"/>
<ellipse cx="130.16" cy="80.10" rx="2.0" ry="1.5" fill="#f0501a" opacity="0.8" filter="url(#glow2)"/>
<ellipse cx="175.56" cy="76.22" rx="3.84" ry="2.72" fill="#f0501a" opacity="0.9" filter="url(#glow)"/>
<ellipse cx="175.56" cy="76.22" rx="2.0" ry="1.5" fill="#f0501a" opacity="0.8" filter="url(#glow2)"/>
<ellipse cx="219.03" cy="72.50" rx="3.84" ry="2.72" fill="#f0501a" opacity="0.9" filter="url(#glow)"/>
<ellipse cx="219.03" cy="72.50" rx="2.0" ry="1.5" fill="#f0501a" opacity="0.8" filter="url(#glow2)"/>
<ellipse cx="60.74" cy="99.46" rx="4.80" ry="3.40" fill="#f0501a" opacity="0.9" filter="url(#glow)"/>
<ellipse cx="60.74" cy="99.46" rx="2.0" ry="1.5" fill="#f0501a" opacity="0.8" filter="url(#glow2)"/>
<ellipse cx="111.55" cy="94.81" rx="4.80" ry="3.40" fill="#f0501a" opacity="0.9" filter="url(#glow)"/>
<ellipse cx="111.55" cy="94.81" rx="2.0" ry="1.5" fill="#f0501a" opacity="0.8" filter="url(#glow2)"/>
<ellipse cx="160.02" cy="90.36" rx="4.80" ry="3.40" fill="#f0501a" opacity="0.9" filter="url(#glow)"/>
<ellipse cx="160.02" cy="90.36" rx="2.0" ry="1.5" fill="#f0501a" opacity="0.8" filter="url(#glow2)"/>
<ellipse cx="206.33" cy="86.12" rx="4.80" ry="3.40" fill="#f0501a" opacity="0.9" filter="url(#glow)"/>
<ellipse cx="206.33" cy="86.12" rx="2.0" ry="1.5" fill="#f0501a" opacity="0.8" filter="url(#glow2)"/>
<ellipse cx="90.57" cy="111.39" rx="4.80" ry="3.40" fill="#4ccc22" opacity="0.9" filter="url(#glow)"/>
<ellipse cx="90.57" cy="111.39" rx="2.0" ry="1.5" fill="#4ccc22" opacity="0.8" filter="url(#glow2)"/>
<ellipse cx="142.56" cy="106.26" rx="4.80" ry="3.40" fill="#4ccc22" opacity="0.9" filter="url(#glow)"/>
<ellipse cx="142.56" cy="106.26" rx="2.0" ry="1.5" fill="#4ccc22" opacity="0.8" filter="url(#glow2)"/>
<ellipse cx="192.08" cy="101.38" rx="4.80" ry="3.40" fill="#4ccc22" opacity="0.9" filter="url(#glow)"/>
<ellipse cx="192.08" cy="101.38" rx="2.0" ry="1.5" fill="#4ccc22" opacity="0.8" filter="url(#glow2)"/>
<ellipse cx="239.30" cy="96.73" rx="4.80" ry="3.40" fill="#4ccc22" opacity="0.9" filter="url(#glow)"/>
<ellipse cx="239.30" cy="96.73" rx="2.0" ry="1.5" fill="#4ccc22" opacity="0.8" filter="url(#glow2)"/>
<ellipse cx="66.74" cy="130.21" rx="4.80" ry="3.40" fill="#f0501a" opacity="0.9" filter="url(#glow)"/>
<ellipse cx="66.74" cy="130.21" rx="2.0" ry="1.5" fill="#f0501a" opacity="0.8" filter="url(#glow2)"/>
<ellipse cx="122.79" cy="124.26" rx="4.80" ry="3.40" fill="#f0501a" opacity="0.9" filter="url(#glow)"/>
<ellipse cx="122.79" cy="124.26" rx="2.0" ry="1.5" fill="#f0501a" opacity="0.8" filter="url(#glow2)"/>
<ellipse cx="176.00" cy="118.61" rx="4.80" ry="3.40" fill="#f0501a" opacity="0.9" filter="url(#glow)"/>
<ellipse cx="176.00" cy="118.61" rx="2.0" ry="1.5" fill="#f0501a" opacity="0.8" filter="url(#glow2)"/>
<ellipse cx="226.59" cy="113.24" rx="4.80" ry="3.40" fill="#f0501a" opacity="0.9" filter="url(#glow)"/>
<ellipse cx="226.59" cy="113.24" rx="2.0" ry="1.5" fill="#f0501a" opacity="0.8" filter="url(#glow2)"/>
<ellipse cx="100.22" cy="144.81" rx="4.80" ry="3.40" fill="#4ccc22" opacity="0.9" filter="url(#glow)"/>
<ellipse cx="100.22" cy="144.81" rx="2.0" ry="1.5" fill="#4ccc22" opacity="0.8" filter="url(#glow2)"/>
<ellipse cx="157.71" cy="138.22" rx="4.80" ry="3.40" fill="#4ccc22" opacity="0.9" filter="url(#glow)"/>
<ellipse cx="157.71" cy="138.22" rx="2.0" ry="1.5" fill="#4ccc22" opacity="0.8" filter="url(#glow2)"/>
<ellipse cx="212.17" cy="131.97" rx="4.80" ry="3.40" fill="#4ccc22" opacity="0.9" filter="url(#glow)"/>
<ellipse cx="212.17" cy="131.97" rx="2.0" ry="1.5" fill="#4ccc22" opacity="0.8" filter="url(#glow2)"/>
<ellipse cx="263.83" cy="126.05" rx="4.80" ry="3.40" fill="#4ccc22" opacity="0.9" filter="url(#glow)"/>
<ellipse cx="263.83" cy="126.05" rx="2.0" ry="1.5" fill="#4ccc22" opacity="0.8" filter="url(#glow2)"/>
<ellipse cx="74.21" cy="168.50" rx="4.80" ry="3.40" fill="#f0501a" opacity="0.9" filter="url(#glow)"/>
<ellipse cx="74.21" cy="168.50" rx="2.0" ry="1.5" fill="#f0501a" opacity="0.8" filter="url(#glow2)"/>
<ellipse cx="136.70" cy="160.73" rx="4.80" ry="3.40" fill="#f0501a" opacity="0.9" filter="url(#glow)"/>
<ellipse cx="136.70" cy="160.73" rx="2.0" ry="1.5" fill="#f0501a" opacity="0.8" filter="url(#glow2)"/>
<ellipse cx="195.67" cy="153.39" rx="4.80" ry="3.40" fill="#f0501a" opacity="0.9" filter="url(#glow)"/>
<ellipse cx="195.67" cy="153.39" rx="2.0" ry="1.5" fill="#f0501a" opacity="0.8" filter="url(#glow2)"/>
<ellipse cx="251.40" cy="146.47" rx="4.80" ry="3.40" fill="#f0501a" opacity="0.9" filter="url(#glow)"/>
<ellipse cx="251.40" cy="146.47" rx="2.0" ry="1.5" fill="#f0501a" opacity="0.8" filter="url(#glow2)"/>
<ellipse cx="112.34" cy="186.83" rx="4.80" ry="3.40" fill="#4ccc22" opacity="0.9" filter="url(#glow)"/>
<ellipse cx="112.34" cy="186.83" rx="2.0" ry="1.5" fill="#4ccc22" opacity="0.8" filter="url(#glow2)"/>
<ellipse cx="176.62" cy="178.13" rx="4.80" ry="3.40" fill="#4ccc22" opacity="0.9" filter="url(#glow)"/>
<ellipse cx="176.62" cy="178.13" rx="2.0" ry="1.5" fill="#4ccc22" opacity="0.8" filter="url(#glow2)"/>
<ellipse cx="237.10" cy="169.95" rx="4.80" ry="3.40" fill="#4ccc22" opacity="0.9" filter="url(#glow)"/>
<ellipse cx="237.10" cy="169.95" rx="2.0" ry="1.5" fill="#4ccc22" opacity="0.8" filter="url(#glow2)"/>
<ellipse cx="294.12" cy="162.24" rx="4.80" ry="3.40" fill="#4ccc22" opacity="0.9" filter="url(#glow)"/>
<ellipse cx="294.12" cy="162.24" rx="2.0" ry="1.5" fill="#4ccc22" opacity="0.8" filter="url(#glow2)"/>
<polygon points="29.90,33.80 190.10,23.10 238.80,75.70 36.70,94.60" fill="#f0b8a0" opacity="0.38"/>
<line x1="36.7" y1="94.6" x2="238.8" y2="75.7" stroke="#111" stroke-width="1.4" stroke-dasharray="4.2,3"/>
<text x="107.5" y="56.9" font-size="13.6" fill="#111">region <tspan font-family="Liberation Serif" font-size="12.2">I</tspan></text>
<text x="138.4" y="140.6" font-size="13.6" fill="#111">region <tspan font-family="Liberation Serif" font-size="12.2">II</tspan></text>
<line x1="220.5" y1="31" x2="291.28" y2="117.66" stroke="#000" stroke-width="1.5"/>
<polygon points="297.60,125.40 279.91,116.87 289.06,114.95 292.77,106.37" fill="#000"/>
<text transform="translate(236.6,37.6) rotate(50.76)" font-size="13.2" fill="#000">Time step <tspan font-style="italic">m</tspan></text>
<text x="0.30" y="9.60" font-size="17.5" text-anchor="start" fill="#000" font-weight="bold" >a</text>
<clipPath id="clipEf"><rect x="517.6" y="276.6" width="166.19999999999993" height="165.89999999999998"/></clipPath>
<polyline points="522.94,442.50 522.59,438.02 523.30,433.53 523.54,429.05 524.96,424.56 525.20,420.08 526.98,415.60 526.98,411.11 528.88,406.63 528.88,402.15 532.56,397.66 531.37,393.18 536.36,388.69 534.46,384.21 542.53,379.73 538.73,375.24 548.58,370.76 546.21,366.28 557.37,361.79 554.16,357.31 567.70,352.82 564.14,348.34 582.54,343.86 579.57,339.37 599.87,334.89 599.28,330.41 636.31,325.92 628.60,321.44 675.73,316.95 655.66,312.47 609.96,307.99 622.07,303.50 591.44,299.02 607.11,294.54 587.05,290.05 609.25,285.57 595.12,281.08 628.12,276.60" fill="none" stroke="#1f77c2" stroke-width="1.25" stroke-linejoin="round" clip-path="url(#clipEf)"/>
<polyline points="519.97,442.50 520.21,438.02 519.97,433.53 521.16,429.05 520.21,424.56 522.35,420.08 520.45,415.60 523.54,411.11 521.04,406.63 524.84,402.15 521.64,397.66 526.62,393.18 522.94,388.69 529.12,384.21 523.54,379.73 532.20,375.24 524.84,370.76 537.78,366.28 526.62,361.79 543.24,357.31 529.12,352.82 552.03,348.34 530.90,343.86 566.27,339.37 533.39,334.89 583.49,330.41 538.97,325.92 609.01,321.44 545.14,316.95 631.33,312.47 555.35,307.99 596.54,303.50 558.20,299.02 572.68,294.54 566.27,290.05 559.39,285.57 578.62,281.08 555.35,276.60" fill="none" stroke="#47b34a" stroke-width="1.25" stroke-linejoin="round" clip-path="url(#clipEf)"/>
<polyline points="520.57,442.50 519.97,438.02 520.92,433.53 519.97,429.05 522.35,424.56 520.45,420.08 524.13,415.60 521.04,411.11 525.44,406.63 521.64,402.15 528.52,397.66 522.35,393.18 531.01,388.69 522.94,384.21 536.59,379.73 524.13,375.24 541.34,370.76 526.03,366.28 548.35,361.79 528.52,357.31 556.18,352.82 529.71,348.34 569.24,343.86 530.90,339.37 584.08,334.89 533.39,330.41 614.95,325.92 537.19,321.44 648.19,316.95 541.94,312.47 572.21,307.99 543.12,303.50 550.84,299.02 552.03,294.54 538.38,290.05 567.46,285.57 534.10,281.08 590.37,276.60" fill="none" stroke="#f4952b" stroke-width="1.25" stroke-linejoin="round" clip-path="url(#clipEf)"/>
<rect x="517.60" y="276.60" width="166.20" height="165.90" fill="none" stroke="#404040" stroke-width="0.9"/>
<line x1="517.60" y1="442.50" x2="517.60" y2="440.00" stroke="#404040" stroke-width="0.9" />
<line x1="517.60" y1="276.60" x2="517.60" y2="279.10" stroke="#404040" stroke-width="0.9" />
<text x="518.90" y="458.00" font-size="13.6" text-anchor="middle" fill="#262626" >0</text>
<line x1="636.31" y1="442.50" x2="636.31" y2="440.00" stroke="#404040" stroke-width="0.9" />
<line x1="636.31" y1="276.60" x2="636.31" y2="279.10" stroke="#404040" stroke-width="0.9" />
<text x="636.31" y="458.00" font-size="13.6" text-anchor="middle" fill="#262626" >1</text>
<line x1="517.60" y1="402.15" x2="520.10" y2="402.15" stroke="#404040" stroke-width="0.9" />
<line x1="683.80" y1="402.15" x2="681.30" y2="402.15" stroke="#404040" stroke-width="0.9" />
<line x1="517.60" y1="357.31" x2="520.10" y2="357.31" stroke="#404040" stroke-width="0.9" />
<line x1="683.80" y1="357.31" x2="681.30" y2="357.31" stroke="#404040" stroke-width="0.9" />
<line x1="517.60" y1="312.47" x2="520.10" y2="312.47" stroke="#404040" stroke-width="0.9" />
<line x1="683.80" y1="312.47" x2="681.30" y2="312.47" stroke="#404040" stroke-width="0.9" />
<clipPath id="clipEn"><rect x="517.6" y="664.0" width="166.19999999999993" height="166.0"/></clipPath>
<polyline points="522.59,830.00 522.82,825.51 523.77,821.03 523.77,816.54 525.08,812.05 525.44,807.57 527.10,803.08 527.10,798.59 529.83,794.11 529.47,789.62 533.03,785.14 532.44,780.65 537.19,776.16 536.36,771.68 543.12,767.19 542.29,762.70 550.84,758.22 549.65,753.73 561.52,749.24 560.57,744.76 575.65,740.27 572.56,735.78 594.17,731.30 587.76,726.81 612.69,722.32 604.38,717.84 643.20,713.35 629.90,708.86 676.68,704.38 659.82,699.89 603.55,695.41 623.49,690.92 587.88,686.43 601.89,681.95 590.37,677.46 592.75,672.97 599.75,668.49 606.99,664.00" fill="none" stroke="#1f77c2" stroke-width="1.25" stroke-linejoin="round" clip-path="url(#clipEn)"/>
<polyline points="519.97,830.00 520.45,825.51 520.21,821.03 521.16,816.54 520.57,812.05 522.35,807.57 521.16,803.08 523.54,798.59 522.11,794.11 525.32,789.62 522.94,785.14 527.69,780.65 524.13,776.16 530.66,771.68 525.32,767.19 535.41,762.70 527.10,758.22 541.34,753.73 529.47,749.24 550.84,744.76 532.44,740.27 560.81,735.78 536.00,731.30 574.35,726.81 539.80,722.32 589.18,717.84 544.67,713.35 610.20,708.86 550.84,704.38 635.13,699.89 560.81,695.41 595.36,690.92 560.81,686.43 566.27,681.95 569.48,677.46 558.32,672.97 580.52,668.49 559.51,664.00" fill="none" stroke="#47b34a" stroke-width="1.25" stroke-linejoin="round" clip-path="url(#clipEn)"/>
<polyline points="520.21,830.00 519.97,825.51 521.16,821.03 520.21,816.54 522.11,812.05 520.69,807.57 523.54,803.08 521.16,798.59 525.32,794.11 521.75,789.62 527.69,785.14 522.35,780.65 530.66,776.16 523.30,771.68 535.41,767.19 524.49,762.70 541.34,758.22 525.91,753.73 549.65,749.24 527.33,744.76 560.81,740.27 529.35,735.78 575.77,731.30 531.01,726.81 590.49,722.32 532.80,717.84 616.13,713.35 537.31,708.86 643.44,704.38 542.29,699.89 560.34,695.41 545.74,690.92 544.67,686.43 553.21,681.95 538.49,677.46 552.03,672.97 536.83,668.49 565.09,664.00" fill="none" stroke="#f4952b" stroke-width="1.25" stroke-linejoin="round" clip-path="url(#clipEn)"/>
<rect x="517.60" y="664.00" width="166.20" height="166.00" fill="none" stroke="#404040" stroke-width="0.9"/>
<line x1="517.60" y1="830.00" x2="517.60" y2="827.50" stroke="#404040" stroke-width="0.9" />
<line x1="517.60" y1="664.00" x2="517.60" y2="666.50" stroke="#404040" stroke-width="0.9" />
<text x="518.90" y="844.80" font-size="13.6" text-anchor="middle" fill="#262626" >0</text>
<line x1="636.31" y1="830.00" x2="636.31" y2="827.50" stroke="#404040" stroke-width="0.9" />
<line x1="636.31" y1="664.00" x2="636.31" y2="666.50" stroke="#404040" stroke-width="0.9" />
<text x="636.31" y="844.80" font-size="13.6" text-anchor="middle" fill="#262626" >1</text>
<line x1="517.60" y1="789.62" x2="520.10" y2="789.62" stroke="#404040" stroke-width="0.9" />
<line x1="683.80" y1="789.62" x2="681.30" y2="789.62" stroke="#404040" stroke-width="0.9" />
<line x1="517.60" y1="744.76" x2="520.10" y2="744.76" stroke="#404040" stroke-width="0.9" />
<line x1="683.80" y1="744.76" x2="681.30" y2="744.76" stroke="#404040" stroke-width="0.9" />
<line x1="517.60" y1="699.89" x2="520.10" y2="699.89" stroke="#404040" stroke-width="0.9" />
<line x1="683.80" y1="699.89" x2="681.30" y2="699.89" stroke="#404040" stroke-width="0.9" />
<clipPath id="clipEj"><rect x="517.6" y="469.6" width="166.19999999999993" height="168.29999999999995"/></clipPath>
<polyline points="584.08,467.27 603.94,471.40 599.95,475.53 589.48,479.66 595.71,483.79 584.91,487.92 612.33,492.05 596.54,496.18 646.40,500.31 664.69,504.44 666.35,508.57 640.59,512.70 611.17,516.83 631.03,520.96 586.32,525.09 606.18,529.22 572.03,533.35 582.25,537.48 560.73,541.61 568.21,545.74 551.09,549.87 557.49,554.00 544.19,558.13 548.35,562.26 539.21,566.39 541.28,570.52 535.05,574.65 535.88,578.78 531.73,582.91 531.73,587.04 528.82,591.17 528.82,595.30 527.16,599.43 526.74,603.56 525.49,607.69 525.08,611.82 524.25,615.95 523.83,620.08 523.00,624.21 523.00,628.34 522.42,632.47 522.25,636.60" fill="none" stroke="#1f77c2" stroke-width="1.25" stroke-linejoin="round" clip-path="url(#clipEj)"/>
<polyline points="559.15,467.27 588.40,471.40 546.77,475.53 570.78,479.66 556.66,483.79 556.66,487.92 580.76,492.05 549.18,496.18 610.67,500.31 545.85,504.44 611.50,508.57 540.87,512.70 593.22,516.83 537.13,520.96 572.45,525.09 535.55,529.22 560.40,533.35 529.90,537.48 550.76,541.61 528.32,545.74 541.95,549.87 526.74,554.00 536.71,558.13 525.08,562.26 532.56,566.39 523.83,570.52 529.23,574.65 522.59,578.78 526.74,582.91 521.75,587.04 524.66,591.17 521.34,595.30 523.42,599.43 520.92,603.56 522.17,607.69 520.51,611.82 521.34,615.95 520.09,620.08 520.51,624.21 520.09,628.34 519.93,632.47 519.76,636.60" fill="none" stroke="#47b34a" stroke-width="1.25" stroke-linejoin="round" clip-path="url(#clipEj)"/>
<polyline points="542.53,467.27 533.14,471.40 570.78,475.53 536.30,479.66 556.66,483.79 545.85,487.92 549.18,492.05 564.97,496.18 553.33,500.31 636.43,504.44 572.45,508.57 617.32,512.70 535.55,516.83 611.50,520.96 531.48,525.09 588.24,529.22 529.23,533.35 569.95,537.48 527.57,541.61 557.49,545.74 526.74,549.87 548.35,554.00 525.08,558.13 540.87,562.26 524.25,566.39 535.05,570.52 523.42,574.65 530.90,578.78 522.59,582.91 527.57,587.04 521.75,591.17 525.08,595.30 521.34,599.43 523.42,603.56 520.92,607.69 522.17,611.82 520.51,615.95 521.34,620.08 520.09,624.21 520.51,628.34 520.09,632.47 520.09,636.60" fill="none" stroke="#f4952b" stroke-width="1.25" stroke-linejoin="round" clip-path="url(#clipEj)"/>
<rect x="517.60" y="469.60" width="166.20" height="168.30" fill="none" stroke="#404040" stroke-width="0.9"/>
<line x1="517.60" y1="637.90" x2="517.60" y2="635.40" stroke="#404040" stroke-width="0.9" />
<line x1="517.60" y1="469.60" x2="517.60" y2="472.10" stroke="#404040" stroke-width="0.9" />
<text x="518.90" y="651.10" font-size="13.6" text-anchor="middle" fill="#262626" >0</text>
<line x1="600.70" y1="637.90" x2="600.70" y2="635.40" stroke="#404040" stroke-width="0.9" />
<line x1="600.70" y1="469.60" x2="600.70" y2="472.10" stroke="#404040" stroke-width="0.9" />
<text x="600.70" y="651.10" font-size="13.6" text-anchor="middle" fill="#262626" >1</text>
<line x1="683.80" y1="637.90" x2="683.80" y2="635.40" stroke="#404040" stroke-width="0.9" />
<line x1="683.80" y1="469.60" x2="683.80" y2="472.10" stroke="#404040" stroke-width="0.9" />
<line x1="517.60" y1="597.78" x2="520.10" y2="597.78" stroke="#404040" stroke-width="0.9" />
<line x1="683.80" y1="597.78" x2="681.30" y2="597.78" stroke="#404040" stroke-width="0.9" />
<line x1="517.60" y1="556.44" x2="520.10" y2="556.44" stroke="#404040" stroke-width="0.9" />
<line x1="683.80" y1="556.44" x2="681.30" y2="556.44" stroke="#404040" stroke-width="0.9" />
<line x1="517.60" y1="515.09" x2="520.10" y2="515.09" stroke="#404040" stroke-width="0.9" />
<line x1="683.80" y1="515.09" x2="681.30" y2="515.09" stroke="#404040" stroke-width="0.9" />
<line x1="517.60" y1="473.74" x2="520.10" y2="473.74" stroke="#404040" stroke-width="0.9" />
<line x1="683.80" y1="473.74" x2="681.30" y2="473.74" stroke="#404040" stroke-width="0.9" />
<line x1="613.40" y1="394.30" x2="629.80" y2="394.30" stroke="#1f77c2" stroke-width="1.4" />
<text x="636.20" y="398.40" font-size="13.6" text-anchor="start" fill="#1f77c2" >Total</text>
<line x1="613.40" y1="412.00" x2="629.80" y2="412.00" stroke="#47b34a" stroke-width="1.8" />
<text x="636.20" y="415.00" font-size="13.6" text-anchor="start" fill="#47b34a" >Left</text>
<line x1="613.40" y1="429.40" x2="629.80" y2="429.40" stroke="#f4952b" stroke-width="1.4" />
<text x="636.20" y="433.30" font-size="13.6" text-anchor="start" fill="#f4952b" >Right</text>
<text x="604.20" y="859.4" font-size="13.7" text-anchor="middle" fill="#262626">Energy in arb. units</text>
<text x="214.00" y="859.4" font-size="13.6" text-anchor="middle" fill="#262626">Position <tspan font-style="italic">n</tspan></text>
<text x="405.20" y="859.4" font-size="13.6" text-anchor="middle" fill="#262626">Position <tspan font-style="italic">n</tspan></text>
<defs><linearGradient id="cbar" x1="0" x2="1" y1="0" y2="0"><stop offset="0" stop-color="#353034"/><stop offset="0.1" stop-color="#562b2f"/><stop offset="0.2" stop-color="#86303a"/><stop offset="0.3" stop-color="#bc3437"/><stop offset="0.375" stop-color="#ff3535"/><stop offset="0.5" stop-color="#ff7030"/><stop offset="0.56" stop-color="#ff9a35"/><stop offset="0.63" stop-color="#ffc535"/><stop offset="0.75" stop-color="#ffff3a"/><stop offset="0.87" stop-color="#ffffa8"/><stop offset="1" stop-color="#fffffa"/></linearGradient></defs>
<rect x="131.1" y="257.6" width="165.60" height="10.1" fill="url(#cbar)" stroke="#505050" stroke-width="0.7"/>
<text x="131.60" y="253.60" font-size="13.6" text-anchor="middle" fill="#262626" >0</text>
<text x="296.10" y="253.60" font-size="13.6" text-anchor="middle" fill="#262626" >1</text>
<text x="213.90" y="250.10" font-size="13.6" text-anchor="middle" fill="#262626" >Intensity in arb. units</text>
<rect x="321.0" y="257.6" width="165.90" height="10.1" fill="url(#cbar)" stroke="#505050" stroke-width="0.7"/>
<text x="321.50" y="253.60" font-size="13.6" text-anchor="middle" fill="#262626" >0</text>
<text x="486.30" y="253.60" font-size="13.6" text-anchor="middle" fill="#262626" >1</text>
<text x="403.95" y="250.10" font-size="13.6" text-anchor="middle" fill="#262626" >Intensity in arb. units</text>
</svg></body></html>
